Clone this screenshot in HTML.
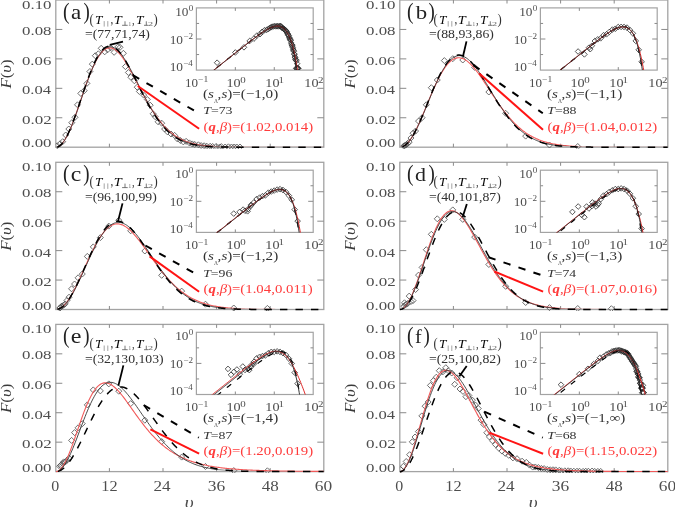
<!DOCTYPE html>
<html><head><meta charset="utf-8"><style>
html,body{margin:0;padding:0;background:#fff;width:675px;height:507px;overflow:hidden}
svg{display:block;will-change:transform}
</style></head><body>
<svg width="675" height="507" viewBox="0 0 675 507">
<rect width="675" height="507" fill="#fff"/>
<clipPath id="ma"><rect x="55.8" y="0" width="268" height="148.7"/></clipPath>
<clipPath id="na"><rect x="55.8" y="0" width="268" height="146.2"/></clipPath>
<clipPath id="ia"><rect x="196.4" y="7.9" width="116.8" height="62.2"/></clipPath>
<rect x="55.8" y="0" width="268" height="147.2" fill="none" stroke="#a3a3a3" stroke-width="1.3"/>
<path d="M55.8 117.76 h6.5 M323.8 117.76 h-6.5 M55.8 88.32 h6.5 M323.8 88.32 h-6.5 M55.8 58.88 h6.5 M323.8 58.88 h-6.5 M55.8 29.44 h6.5 M323.8 29.44 h-6.5 M109.4 147.2 v-3.5 M109.4 0 v3.5 M163 147.2 v-3.5 M163 0 v3.5 M216.6 147.2 v-3.5 M216.6 0 v3.5 M270.2 147.2 v-3.5 M270.2 0 v3.5" stroke="#8a8a8a" stroke-width="1" fill="none"/>
<text x="22.03" y="9" font-family='"Liberation Serif", serif' font-size="13.09" fill="#4e4e4e" textLength="29.45" lengthAdjust="spacingAndGlyphs">0.10</text>
<text x="22.03" y="34.71" font-family='"Liberation Serif", serif' font-size="12.94" fill="#4e4e4e" textLength="29.45" lengthAdjust="spacingAndGlyphs">0.08</text>
<text x="22.03" y="64.5" font-family='"Liberation Serif", serif' font-size="13.38" fill="#4e4e4e" textLength="29.27" lengthAdjust="spacingAndGlyphs">0.06</text>
<text x="22.04" y="94.2" font-family='"Liberation Serif", serif' font-size="13.09" fill="#4e4e4e" textLength="29.01" lengthAdjust="spacingAndGlyphs">0.04</text>
<text x="22.02" y="123.8" font-family='"Liberation Serif", serif' font-size="13.09" fill="#4e4e4e" textLength="29.71" lengthAdjust="spacingAndGlyphs">0.02</text>
<text x="22.03" y="147.41" font-family='"Liberation Serif", serif' font-size="12.94" fill="#4e4e4e" textLength="29.45" lengthAdjust="spacingAndGlyphs">0.00</text>
<text transform="translate(10.99 88.52) rotate(-90)" font-family='"Liberation Serif", serif' font-size="14.95" fill="#3a3a3a" textLength="29.24" lengthAdjust="spacingAndGlyphs"><tspan font-style="italic">F</tspan>(<tspan font-style="italic">υ</tspan>)</text>
<g clip-path="url(#ma)">
<path d="M57.3 142.8l3 3l-3 3l-3 -3z M60 140.8l3 3l-3 3l-3 -3z M62.7 138.7l3 3l-3 3l-3 -3z M65.7 132l3 3l-3 3l-3 -3z M68.8 126l3 3l-3 3l-3 -3z M71.8 119.7l3 3l-3 3l-3 -3z M75 114.3l3 3l-3 3l-3 -3z M77.5 101.8l3 3l-3 3l-3 -3z M80.8 90.4l3 3l-3 3l-3 -3z M84.2 87.7l3 3l-3 3l-3 -3z M86.9 80.4l3 3l-3 3l-3 -3z M89.9 68.5l3 3l-3 3l-3 -3z M92.3 61.1l3 3l-3 3l-3 -3z M95.3 52.7l3 3l-3 3l-3 -3z M98.3 50.8l3 3l-3 3l-3 -3z M101.2 45.3l3 3l-3 3l-3 -3z M104.7 48.8l3 3l-3 3l-3 -3z M107.6 46.8l3 3l-3 3l-3 -3z M110.6 44.8l3 3l-3 3l-3 -3z M114.1 49.3l3 3l-3 3l-3 -3z M118 43.8l3 3l-3 3l-3 -3z M120 44.3l3 3l-3 3l-3 -3z M123.4 50.3l3 3l-3 3l-3 -3z M125.4 63.6l3 3l-3 3l-3 -3z M128.4 69.5l3 3l-3 3l-3 -3z M130.8 74.2l3 3l-3 3l-3 -3z M134.4 77.8l3 3l-3 3l-3 -3z M137.2 84.2l3 3l-3 3l-3 -3z M139.4 88.5l3 3l-3 3l-3 -3z M143.7 92.1l3 3l-3 3l-3 -3z M147.3 96.5l3 3l-3 3l-3 -3z M150.2 102.2l3 3l-3 3l-3 -3z M153.1 110.8l3 3l-3 3l-3 -3z M155.2 113.7l3 3l-3 3l-3 -3z M158.1 118.8l3 3l-3 3l-3 -3z M161.7 120.2l3 3l-3 3l-3 -3z M164.6 126l3 3l-3 3l-3 -3z M167.4 128.8l3 3l-3 3l-3 -3z M171 131l3 3l-3 3l-3 -3z M174.6 132.4l3 3l-3 3l-3 -3z M177.5 136l3 3l-3 3l-3 -3z M180.4 137.5l3 3l-3 3l-3 -3z M183.3 138.9l3 3l-3 3l-3 -3z M186.14 138.35l3 3l-3 3l-3 -3z M189.38 139.91l3 3l-3 3l-3 -3z M192.24 140.91l3 3l-3 3l-3 -3z M194.69 141.44l3 3l-3 3l-3 -3z M198.38 141.81l3 3l-3 3l-3 -3z M201.12 142.57l3 3l-3 3l-3 -3z M204.08 142.75l3 3l-3 3l-3 -3z M206.7 143.17l3 3l-3 3l-3 -3z M210.15 143.29l3 3l-3 3l-3 -3z M212.63 143.52l3 3l-3 3l-3 -3z M216.12 143.5l3 3l-3 3l-3 -3z M219.66 144.01l3 3l-3 3l-3 -3z M221.34 143.63l3 3l-3 3l-3 -3z M225.17 144.01l3 3l-3 3l-3 -3z M228.43 143.82l3 3l-3 3l-3 -3z M231.44 144.01l3 3l-3 3l-3 -3z M234.15 144.01l3 3l-3 3l-3 -3z M236.77 144.01l3 3l-3 3l-3 -3z M239.98 144.01l3 3l-3 3l-3 -3z" fill="none" stroke="#555" stroke-width="0.85"/>
</g><g clip-path="url(#na)">
<path d="M56.02 147.2 L57.14 147.03 L58.26 146.63 L59.38 146 L60.5 145.14 L61.63 144.05 L62.75 142.75 L63.87 141.23 L64.99 139.51 L66.11 137.59 L67.23 135.49 L68.35 133.21 L69.47 130.77 L70.59 128.18 L71.71 125.46 L72.83 122.61 L73.95 119.65 L75.07 116.59 L76.19 113.46 L77.31 110.26 L78.43 107.01 L79.55 103.73 L80.67 100.43 L81.79 97.13 L82.91 93.84 L84.03 90.58 L85.15 87.36 L86.27 84.19 L87.39 81.1 L88.52 78.08 L89.64 75.16 L90.76 72.35 L91.88 69.65 L93 67.08 L94.12 64.64 L95.24 62.35 L96.36 60.2 L97.48 58.22 L98.6 56.4 L99.72 54.75 L100.84 53.26 L101.96 51.96 L103.08 50.83 L104.2 49.88 L105.32 49.1 L106.44 48.51 L107.56 48.09 L108.68 47.85 L109.8 47.77 L110.92 47.87 L112.04 48.12 L113.16 48.54 L114.28 49.11 L115.4 49.83 L116.53 50.69 L117.65 51.69 L118.77 52.82 L119.89 54.06 L121.01 55.42 L122.13 56.89 L123.25 58.45 L124.37 60.11 L125.49 61.85 L126.61 63.66 L127.73 65.54 L128.85 67.48 L129.97 69.48 L131.09 71.51 L132.21 73.59 L133.33 75.69 L134.45 77.82 L135.57 79.96 L136.69 82.11 L137.81 84.27 L138.93 86.42 L140.05 88.57 L141.17 90.7 L142.29 92.81 L143.41 94.91 L144.54 96.97 L145.66 99.01 L146.78 101.01 L147.9 102.98 L149.02 104.9 L150.14 106.79 L151.26 108.63 L152.38 110.42 L153.5 112.16 L154.62 113.85 L155.74 115.5 L156.86 117.09 L157.98 118.63 L159.1 120.11 L160.22 121.54 L161.34 122.92 L162.46 124.25 L163.58 125.52 L164.7 126.75 L165.82 127.92 L166.94 129.04 L168.06 130.11 L169.18 131.13 L170.3 132.1 L171.42 133.03 L172.55 133.91 L173.67 134.74 L174.79 135.54 L175.91 136.29 L177.03 137 L178.15 137.67 L179.27 138.31 L180.39 138.91 L181.51 139.48 L182.63 140.01 L183.75 140.51 L184.87 140.98 L185.99 141.43 L187.11 141.84 L188.23 142.23 L189.35 142.6 L190.47 142.94 L191.59 143.25 L192.71 143.55 L193.83 143.83 L194.95 144.09 L196.07 144.33 L197.19 144.55 L198.31 144.76 L199.44 144.96 L200.56 145.13 L201.68 145.3 L202.8 145.46 L203.92 145.6 L205.04 145.73 L206.16 145.85 L207.28 145.97 L208.4 146.07 L209.52 146.17 L210.64 146.25 L211.76 146.34 L212.88 146.41 L214 146.48 L215.12 146.54 L216.24 146.6 L217.36 146.65 L218.48 146.7 L219.6 146.75 L220.72 146.79 L221.84 146.83 L222.96 146.86 L224.08 146.89 L225.2 146.92 L226.32 146.95 L227.45 146.97 L228.57 146.99 L229.69 147.01 L230.81 147.03 L231.93 147.05 L233.05 147.06 L234.17 147.07 L235.29 147.09 L236.41 147.1 L237.53 147.11 L238.65 147.12 L239.77 147.13 L240.89 147.13 L242.01 147.14 L243.13 147.15 L244.25 147.15 L245.37 147.16 L246.49 147.16 L247.61 147.16 L248.73 147.17 L249.85 147.17 L250.97 147.17 L252.09 147.18 L253.21 147.18 L254.33 147.18 L255.46 147.18 L256.58 147.19 L257.7 147.19 L258.82 147.19 L259.94 147.19 L261.06 147.19 L262.18 147.19 L263.3 147.19 L264.42 147.19 L265.54 147.19 L266.66 147.19 L267.78 147.2 L268.9 147.2 L270.02 147.2 L271.14 147.2 L272.26 147.2 L273.38 147.2 L274.5 147.2 L275.62 147.2 L276.74 147.2 L277.86 147.2 L278.98 147.2 L280.1 147.2 L281.22 147.2 L282.35 147.2 L283.47 147.2 L284.59 147.2 L285.71 147.2 L286.83 147.2 L287.95 147.2 L289.07 147.2 L290.19 147.2 L291.31 147.2 L292.43 147.2 L293.55 147.2 L294.67 147.2 L295.79 147.2 L296.91 147.2 L298.03 147.2 L299.15 147.2 L300.27 147.2 L301.39 147.2 L302.51 147.2 L303.63 147.2 L304.75 147.2 L305.87 147.2 L306.99 147.2 L308.11 147.2 L309.23 147.2 L310.36 147.2 L311.48 147.2 L312.6 147.2 L313.72 147.2 L314.84 147.2 L315.96 147.2 L317.08 147.2 L318.2 147.2 L319.32 147.2 L320.44 147.2 L321.56 147.2 L322.68 147.2 L323.8 147.2" fill="none" stroke="#f25a5a" stroke-width="1.1" stroke-linejoin="round"/>
</g><g clip-path="url(#na)">
<path d="M56.02 147.2 L57.14 147.03 L58.26 146.64 L59.38 146.02 L60.5 145.17 L61.63 144.1 L62.75 142.81 L63.87 141.31 L64.99 139.61 L66.11 137.72 L67.23 135.64 L68.35 133.39 L69.47 130.97 L70.59 128.41 L71.71 125.7 L72.83 122.87 L73.95 119.93 L75.07 116.9 L76.19 113.78 L77.31 110.59 L78.43 107.35 L79.55 104.08 L80.67 100.78 L81.79 97.47 L82.91 94.17 L84.03 90.9 L85.15 87.66 L86.27 84.47 L87.39 81.34 L88.52 78.29 L89.64 75.33 L90.76 72.47 L91.88 69.72 L93 67.09 L94.12 64.6 L95.24 62.24 L96.36 60.04 L97.48 57.98 L98.6 56.09 L99.72 54.37 L100.84 52.81 L101.96 51.43 L103.08 50.23 L104.2 49.21 L105.32 48.36 L106.44 47.7 L107.56 47.21 L108.68 46.9 L109.8 46.76 L110.92 46.8 L112.04 47.01 L113.16 47.37 L114.28 47.9 L115.4 48.58 L116.53 49.41 L117.65 50.38 L118.77 51.49 L119.89 52.72 L121.01 54.07 L122.13 55.54 L123.25 57.11 L124.37 58.77 L125.49 60.53 L126.61 62.37 L127.73 64.28 L128.85 66.25 L129.97 68.29 L131.09 70.37 L132.21 72.49 L133.33 74.65 L134.45 76.84 L135.57 79.04 L136.69 81.26 L137.81 83.48 L138.93 85.71 L140.05 87.93 L141.17 90.13 L142.29 92.32 L143.41 94.49 L144.54 96.63 L145.66 98.75 L146.78 100.82 L147.9 102.86 L149.02 104.86 L150.14 106.82 L151.26 108.72 L152.38 110.58 L153.5 112.39 L154.62 114.14 L155.74 115.85 L156.86 117.49 L157.98 119.08 L159.1 120.62 L160.22 122.1 L161.34 123.52 L162.46 124.88 L163.58 126.19 L164.7 127.44 L165.82 128.64 L166.94 129.78 L168.06 130.87 L169.18 131.91 L170.3 132.9 L171.42 133.84 L172.55 134.72 L173.67 135.57 L174.79 136.36 L175.91 137.11 L177.03 137.82 L178.15 138.49 L179.27 139.12 L180.39 139.71 L181.51 140.27 L182.63 140.79 L183.75 141.27 L184.87 141.73 L185.99 142.15 L187.11 142.55 L188.23 142.92 L189.35 143.27 L190.47 143.59 L191.59 143.88 L192.71 144.16 L193.83 144.41 L194.95 144.65 L196.07 144.87 L197.19 145.07 L198.31 145.26 L199.44 145.43 L200.56 145.59 L201.68 145.73 L202.8 145.87 L203.92 145.99 L205.04 146.1 L206.16 146.21 L207.28 146.3 L208.4 146.39 L209.52 146.46 L210.64 146.54 L211.76 146.6 L212.88 146.66 L214 146.71 L215.12 146.76 L216.24 146.81 L217.36 146.85 L218.48 146.88 L219.6 146.92 L220.72 146.95 L221.84 146.97 L222.96 147 L224.08 147.02 L225.2 147.04 L226.32 147.06 L227.45 147.07 L228.57 147.09 L229.69 147.1 L230.81 147.11 L231.93 147.12 L233.05 147.13 L234.17 147.14 L235.29 147.14 L236.41 147.15 L237.53 147.16 L238.65 147.16 L239.77 147.17 L240.89 147.17 L242.01 147.17 L243.13 147.18 L244.25 147.18 L245.37 147.18 L246.49 147.18 L247.61 147.19 L248.73 147.19 L249.85 147.19 L250.97 147.19 L252.09 147.19 L253.21 147.19 L254.33 147.19 L255.46 147.19 L256.58 147.2 L257.7 147.2 L258.82 147.2 L259.94 147.2 L261.06 147.2 L262.18 147.2 L263.3 147.2 L264.42 147.2 L265.54 147.2 L266.66 147.2 L267.78 147.2 L268.9 147.2 L270.02 147.2 L271.14 147.2 L272.26 147.2 L273.38 147.2 L274.5 147.2 L275.62 147.2 L276.74 147.2 L277.86 147.2 L278.98 147.2 L280.1 147.2 L281.22 147.2 L282.35 147.2 L283.47 147.2 L284.59 147.2 L285.71 147.2 L286.83 147.2 L287.95 147.2 L289.07 147.2 L290.19 147.2 L291.31 147.2 L292.43 147.2 L293.55 147.2 L294.67 147.2 L295.79 147.2 L296.91 147.2 L298.03 147.2 L299.15 147.2 L300.27 147.2 L301.39 147.2 L302.51 147.2 L303.63 147.2 L304.75 147.2 L305.87 147.2 L306.99 147.2 L308.11 147.2 L309.23 147.2 L310.36 147.2 L311.48 147.2 L312.6 147.2 L313.72 147.2 L314.84 147.2 L315.96 147.2 L317.08 147.2 L318.2 147.2 L319.32 147.2 L320.44 147.2 L321.56 147.2 L322.68 147.2 L323.8 147.2" fill="none" stroke="#383838" stroke-width="0.9" stroke-linejoin="round"/>
</g><g clip-path="url(#ma)">
<path d="M56.02 147.2 L57.14 147.03 L58.26 146.63 L59.38 145.99 L60.5 145.13 L61.63 144.03 L62.75 142.72 L63.87 141.19 L64.99 139.46 L66.11 137.53 L67.23 135.42 L68.35 133.12 L69.47 130.66 L70.59 128.05 L71.71 125.3 L72.83 122.42 L73.95 119.43 L75.07 116.35 L76.19 113.18 L77.31 109.94 L78.43 106.65 L79.55 103.33 L80.67 99.98 L81.79 96.63 L82.91 93.29 L84.03 89.98 L85.15 86.7 L86.27 83.48 L87.39 80.32 L88.52 77.24 L89.64 74.26 L90.76 71.39 L91.88 68.62 L93 65.99 L94.12 63.49 L95.24 61.14 L96.36 58.93 L97.48 56.89 L98.6 55.02 L99.72 53.31 L100.84 51.78 L101.96 50.43 L103.08 49.26 L104.2 48.27 L105.32 47.47 L106.44 46.84 L107.56 46.4 L108.68 46.14 L109.8 46.06 L110.92 46.15 L112.04 46.41 L113.16 46.84 L114.28 47.43 L115.4 48.17 L116.53 49.06 L117.65 50.09 L118.77 51.26 L119.89 52.56 L121.01 53.97 L122.13 55.5 L123.25 57.13 L124.37 58.86 L125.49 60.68 L126.61 62.57 L127.73 64.54 L128.85 66.57 L129.97 68.65 L131.09 70.78 L132.21 72.95 L133.33 75.15 L134.45 77.38 L135.57 79.62 L136.69 81.87 L137.81 84.13 L138.93 86.38 L140.05 88.63 L141.17 90.86 L142.29 93.07 L143.41 95.26 L144.54 97.41 L145.66 99.54 L146.78 101.62 L147.9 103.67 L149.02 105.67 L150.14 107.63 L151.26 109.54 L152.38 111.39 L153.5 113.19 L154.62 114.94 L155.74 116.64 L156.86 118.27 L157.98 119.85 L159.1 121.37 L160.22 122.83 L161.34 124.24 L162.46 125.59 L163.58 126.88 L164.7 128.11 L165.82 129.29 L166.94 130.42 L168.06 131.49 L169.18 132.5 L170.3 133.47 L171.42 134.38 L172.55 135.25 L173.67 136.07 L174.79 136.85 L175.91 137.58 L177.03 138.27 L178.15 138.91 L179.27 139.52 L180.39 140.1 L181.51 140.63 L182.63 141.13 L183.75 141.6 L184.87 142.04 L185.99 142.45 L187.11 142.83 L188.23 143.18 L189.35 143.51 L190.47 143.82 L191.59 144.1 L192.71 144.36 L193.83 144.61 L194.95 144.83 L196.07 145.04 L197.19 145.23 L198.31 145.4 L199.44 145.57 L200.56 145.71 L201.68 145.85 L202.8 145.98 L203.92 146.09 L205.04 146.2 L206.16 146.29 L207.28 146.38 L208.4 146.46 L209.52 146.53 L210.64 146.6 L211.76 146.66 L212.88 146.71 L214 146.76 L215.12 146.81 L216.24 146.85 L217.36 146.88 L218.48 146.92 L219.6 146.95 L220.72 146.97 L221.84 147 L222.96 147.02 L224.08 147.04 L225.2 147.06 L226.32 147.07 L227.45 147.09 L228.57 147.1 L229.69 147.11 L230.81 147.12 L231.93 147.13 L233.05 147.14 L234.17 147.15 L235.29 147.15 L236.41 147.16 L237.53 147.16 L238.65 147.17 L239.77 147.17 L240.89 147.17 L242.01 147.18 L243.13 147.18 L244.25 147.18 L245.37 147.19 L246.49 147.19 L247.61 147.19 L248.73 147.19 L249.85 147.19 L250.97 147.19 L252.09 147.19 L253.21 147.19 L254.33 147.2 L255.46 147.2 L256.58 147.2 L257.7 147.2 L258.82 147.2 L259.94 147.2 L261.06 147.2 L262.18 147.2 L263.3 147.2 L264.42 147.2 L265.54 147.2 L266.66 147.2 L267.78 147.2 L268.9 147.2 L270.02 147.2 L271.14 147.2 L272.26 147.2 L273.38 147.2 L274.5 147.2 L275.62 147.2 L276.74 147.2 L277.86 147.2 L278.98 147.2 L280.1 147.2 L281.22 147.2 L282.35 147.2 L283.47 147.2 L284.59 147.2 L285.71 147.2 L286.83 147.2 L287.95 147.2 L289.07 147.2 L290.19 147.2 L291.31 147.2 L292.43 147.2 L293.55 147.2 L294.67 147.2 L295.79 147.2 L296.91 147.2 L298.03 147.2 L299.15 147.2 L300.27 147.2 L301.39 147.2 L302.51 147.2 L303.63 147.2 L304.75 147.2 L305.87 147.2 L306.99 147.2 L308.11 147.2 L309.23 147.2 L310.36 147.2 L311.48 147.2 L312.6 147.2 L313.72 147.2 L314.84 147.2 L315.96 147.2 L317.08 147.2 L318.2 147.2 L319.32 147.2 L320.44 147.2 L321.56 147.2 L322.68 147.2 L323.8 147.2" fill="none" stroke="#000" stroke-width="1.5" stroke-linejoin="round" stroke-dasharray="7.4 8.1" stroke-dashoffset="14.58"/>
</g>
<rect x="196.4" y="7.9" width="116.8" height="62.2" fill="#fff" stroke="#a3a3a3" stroke-width="1.2"/>
<path d="M196.4 23.45 h2.7 M313.2 23.45 h-2.7 M196.4 39 h5 M313.2 39 h-5 M196.4 54.55 h2.7 M313.2 54.55 h-2.7 M235.33 70.1 v-3 M235.33 7.9 v3 M274.27 70.1 v-3 M274.27 7.9 v3" stroke="#8a8a8a" stroke-width="1" fill="none"/>
<g clip-path="url(#ia)">
<path d="M256.91 32.76l2.8 2.8l-2.8 2.8l-2.8 -2.8z M259.99 31.41l2.8 2.8l-2.8 2.8l-2.8 -2.8z M262.06 29.06l2.8 2.8l-2.8 2.8l-2.8 -2.8z M264.45 27.45l2.8 2.8l-2.8 2.8l-2.8 -2.8z M266.61 27.12l2.8 2.8l-2.8 2.8l-2.8 -2.8z M268.15 26.3l2.8 2.8l-2.8 2.8l-2.8 -2.8z M269.7 25.14l2.8 2.8l-2.8 2.8l-2.8 -2.8z M270.85 24.51l2.8 2.8l-2.8 2.8l-2.8 -2.8z M272.19 23.86l2.8 2.8l-2.8 2.8l-2.8 -2.8z M273.43 23.72l2.8 2.8l-2.8 2.8l-2.8 -2.8z M274.54 23.34l2.8 2.8l-2.8 2.8l-2.8 -2.8z M275.8 23.58l2.8 2.8l-2.8 2.8l-2.8 -2.8z M276.77 23.44l2.8 2.8l-2.8 2.8l-2.8 -2.8z M277.72 23.3l2.8 2.8l-2.8 2.8l-2.8 -2.8z M278.77 23.61l2.8 2.8l-2.8 2.8l-2.8 -2.8z M279.87 23.23l2.8 2.8l-2.8 2.8l-2.8 -2.8z M280.4 23.27l2.8 2.8l-2.8 2.8l-2.8 -2.8z M281.27 23.69l2.8 2.8l-2.8 2.8l-2.8 -2.8z M281.77 24.72l2.8 2.8l-2.8 2.8l-2.8 -2.8z M282.48 25.23l2.8 2.8l-2.8 2.8l-2.8 -2.8z M283.03 25.67l2.8 2.8l-2.8 2.8l-2.8 -2.8z M283.82 26.03l2.8 2.8l-2.8 2.8l-2.8 -2.8z M284.41 26.71l2.8 2.8l-2.8 2.8l-2.8 -2.8z M284.87 27.21l2.8 2.8l-2.8 2.8l-2.8 -2.8z M285.71 27.66l2.8 2.8l-2.8 2.8l-2.8 -2.8z M286.39 28.26l2.8 2.8l-2.8 2.8l-2.8 -2.8z M286.92 29.12l2.8 2.8l-2.8 2.8l-2.8 -2.8z M287.43 30.67l2.8 2.8l-2.8 2.8l-2.8 -2.8z M287.79 31.28l2.8 2.8l-2.8 2.8l-2.8 -2.8z M288.28 32.52l2.8 2.8l-2.8 2.8l-2.8 -2.8z M288.86 32.9l2.8 2.8l-2.8 2.8l-2.8 -2.8z M289.32 34.77l2.8 2.8l-2.8 2.8l-2.8 -2.8z M289.75 35.9l2.8 2.8l-2.8 2.8l-2.8 -2.8z M290.29 36.94l2.8 2.8l-2.8 2.8l-2.8 -2.8z M290.81 37.69l2.8 2.8l-2.8 2.8l-2.8 -2.8z M291.21 40.15l2.8 2.8l-2.8 2.8l-2.8 -2.8z M291.61 41.52l2.8 2.8l-2.8 2.8l-2.8 -2.8z M292 43.1l2.8 2.8l-2.8 2.8l-2.8 -2.8z M292.39 42.43l2.8 2.8l-2.8 2.8l-2.8 -2.8z M292.77 44.52l2.8 2.8l-2.8 2.8l-2.8 -2.8z M293.15 46.32l2.8 2.8l-2.8 2.8l-2.8 -2.8z M293.51 47.5l2.8 2.8l-2.8 2.8l-2.8 -2.8z M293.87 48.46l2.8 2.8l-2.8 2.8l-2.8 -2.8z M294.22 51.08l2.8 2.8l-2.8 2.8l-2.8 -2.8z M294.56 51.83l2.8 2.8l-2.8 2.8l-2.8 -2.8z M294.9 54.17l2.8 2.8l-2.8 2.8l-2.8 -2.8z M295.23 54.99l2.8 2.8l-2.8 2.8l-2.8 -2.8z M295.55 57.01l2.8 2.8l-2.8 2.8l-2.8 -2.8z M295.87 56.75l2.8 2.8l-2.8 2.8l-2.8 -2.8z M296.18 65.53l2.8 2.8l-2.8 2.8l-2.8 -2.8z M296.49 58.11l2.8 2.8l-2.8 2.8l-2.8 -2.8z M296.79 65.53l2.8 2.8l-2.8 2.8l-2.8 -2.8z M297.08 60.85l2.8 2.8l-2.8 2.8l-2.8 -2.8z M297.37 65.53l2.8 2.8l-2.8 2.8l-2.8 -2.8z M297.66 65.53l2.8 2.8l-2.8 2.8l-2.8 -2.8z M297.94 65.53l2.8 2.8l-2.8 2.8l-2.8 -2.8z M298.21 65.53l2.8 2.8l-2.8 2.8l-2.8 -2.8z M235.34 49.67l2.8 2.8l-2.8 2.8l-2.8 -2.8z M243.98 44.52l2.8 2.8l-2.8 2.8l-2.8 -2.8z M249.67 38.15l2.8 2.8l-2.8 2.8l-2.8 -2.8z M253.92 35.81l2.8 2.8l-2.8 2.8l-2.8 -2.8z M217.1 59.9l2.8 2.8l-2.8 2.8l-2.8 -2.8z" fill="none" stroke="#2e2e2e" stroke-width="0.8"/>
<path d="M196.4 83.99 L197.13 83.4 L197.87 82.81 L198.6 82.23 L199.34 81.64 L200.07 81.05 L200.81 80.47 L201.54 79.88 L202.28 79.29 L203.01 78.71 L203.75 78.12 L204.48 77.53 L205.22 76.95 L205.95 76.36 L206.68 75.77 L207.42 75.19 L208.15 74.6 L208.89 74.01 L209.62 73.43 L210.36 72.84 L211.09 72.25 L211.83 71.67 L212.56 71.08 L213.3 70.49 L214.03 69.91 L214.76 69.32 L215.5 68.73 L216.23 68.15 L216.97 67.56 L217.7 66.98 L218.44 66.39 L219.17 65.8 L219.91 65.22 L220.64 64.63 L221.38 64.04 L222.11 63.46 L222.85 62.87 L223.58 62.29 L224.31 61.7 L225.05 61.12 L225.78 60.53 L226.52 59.94 L227.25 59.36 L227.99 58.77 L228.72 58.19 L229.46 57.6 L230.19 57.02 L230.93 56.44 L231.66 55.85 L232.39 55.27 L233.13 54.68 L233.86 54.1 L234.6 53.52 L235.33 52.93 L236.07 52.35 L236.8 51.77 L237.54 51.19 L238.27 50.61 L239.01 50.02 L239.74 49.44 L240.48 48.86 L241.21 48.29 L241.94 47.71 L242.68 47.13 L243.41 46.55 L244.15 45.98 L244.88 45.4 L245.62 44.83 L246.35 44.26 L247.09 43.68 L247.82 43.11 L248.56 42.55 L249.29 41.98 L250.03 41.41 L250.76 40.85 L251.49 40.29 L252.23 39.73 L252.96 39.18 L253.7 38.62 L254.43 38.07 L255.17 37.53 L255.9 36.98 L256.64 36.44 L257.37 35.91 L258.11 35.38 L258.84 34.86 L259.57 34.34 L260.31 33.82 L261.04 33.32 L261.78 32.82 L262.51 32.33 L263.25 31.85 L263.98 31.37 L264.72 30.91 L265.45 30.46 L266.19 30.02 L266.92 29.59 L267.66 29.18 L268.39 28.79 L269.12 28.41 L269.86 28.05 L270.59 27.72 L271.33 27.4 L272.06 27.11 L272.8 26.85 L273.53 26.61 L274.27 26.41 L275 26.25 L275.74 26.12 L276.47 26.03 L277.21 25.99 L277.94 26 L278.67 26.06 L279.41 26.18 L280.14 26.36 L280.88 26.62 L281.61 26.95 L282.35 27.36 L283.08 27.87 L283.82 28.47 L284.55 29.18 L285.29 30.01 L286.02 30.97 L286.75 32.07 L287.49 33.33 L288.22 34.74 L288.96 36.35 L289.69 38.15 L290.43 40.16 L291.16 42.42 L291.9 44.93 L292.63 47.72 L293.37 50.82 L294.1 54.25 L294.84 58.05 L295.57 62.25 L296.3 66.88 L297.04 71.98 L297.77 77.6 L298.51 83.79 L299.24 90.59 L299.98 98.06 L300.71 100.1" fill="none" stroke="#000" stroke-width="1.2" stroke-linejoin="round" stroke-dasharray="5.5 7.5"/>
<path d="M196.4 84.02 L197.13 83.44 L197.87 82.85 L198.6 82.26 L199.34 81.68 L200.07 81.09 L200.81 80.5 L201.54 79.92 L202.28 79.33 L203.01 78.74 L203.75 78.16 L204.48 77.57 L205.22 76.98 L205.95 76.4 L206.68 75.81 L207.42 75.22 L208.15 74.64 L208.89 74.05 L209.62 73.46 L210.36 72.88 L211.09 72.29 L211.83 71.7 L212.56 71.12 L213.3 70.53 L214.03 69.94 L214.76 69.36 L215.5 68.77 L216.23 68.18 L216.97 67.6 L217.7 67.01 L218.44 66.43 L219.17 65.84 L219.91 65.25 L220.64 64.67 L221.38 64.08 L222.11 63.5 L222.85 62.91 L223.58 62.32 L224.31 61.74 L225.05 61.15 L225.78 60.57 L226.52 59.98 L227.25 59.4 L227.99 58.81 L228.72 58.23 L229.46 57.64 L230.19 57.06 L230.93 56.47 L231.66 55.89 L232.39 55.3 L233.13 54.72 L233.86 54.14 L234.6 53.55 L235.33 52.97 L236.07 52.39 L236.8 51.81 L237.54 51.22 L238.27 50.64 L239.01 50.06 L239.74 49.48 L240.48 48.9 L241.21 48.32 L241.94 47.75 L242.68 47.17 L243.41 46.59 L244.15 46.02 L244.88 45.44 L245.62 44.87 L246.35 44.3 L247.09 43.72 L247.82 43.15 L248.56 42.59 L249.29 42.02 L250.03 41.46 L250.76 40.89 L251.49 40.33 L252.23 39.78 L252.96 39.22 L253.7 38.67 L254.43 38.12 L255.17 37.57 L255.9 37.03 L256.64 36.49 L257.37 35.96 L258.11 35.43 L258.84 34.91 L259.57 34.39 L260.31 33.88 L261.04 33.37 L261.78 32.88 L262.51 32.39 L263.25 31.91 L263.98 31.44 L264.72 30.98 L265.45 30.53 L266.19 30.09 L266.92 29.67 L267.66 29.26 L268.39 28.87 L269.12 28.49 L269.86 28.14 L270.59 27.8 L271.33 27.49 L272.06 27.21 L272.8 26.95 L273.53 26.72 L274.27 26.52 L275 26.35 L275.74 26.23 L276.47 26.14 L277.21 26.1 L277.94 26.11 L278.67 26.17 L279.41 26.29 L280.14 26.47 L280.88 26.72 L281.61 27.04 L282.35 27.44 L283.08 27.93 L283.82 28.51 L284.55 29.2 L285.29 29.99 L286.02 30.9 L286.75 31.94 L287.49 33.12 L288.22 34.45 L288.96 35.95 L289.69 37.61 L290.43 39.46 L291.16 41.52 L291.9 43.79 L292.63 46.29 L293.37 49.04 L294.1 52.06 L294.84 55.36 L295.57 58.96 L296.3 62.89 L297.04 67.16 L297.77 71.78 L298.51 76.8 L299.24 82.21 L299.98 88.06 L300.71 94.34 L301.45 100.1" fill="none" stroke="#e02a2a" stroke-width="1" stroke-linejoin="round"/>
<path d="M196.4 84.12 L197.13 83.53 L197.87 82.95 L198.6 82.36 L199.34 81.77 L200.07 81.19 L200.81 80.6 L201.54 80.01 L202.28 79.43 L203.01 78.84 L203.75 78.25 L204.48 77.67 L205.22 77.08 L205.95 76.49 L206.68 75.91 L207.42 75.32 L208.15 74.73 L208.89 74.15 L209.62 73.56 L210.36 72.97 L211.09 72.39 L211.83 71.8 L212.56 71.21 L213.3 70.63 L214.03 70.04 L214.76 69.45 L215.5 68.87 L216.23 68.28 L216.97 67.69 L217.7 67.11 L218.44 66.52 L219.17 65.94 L219.91 65.35 L220.64 64.76 L221.38 64.18 L222.11 63.59 L222.85 63.01 L223.58 62.42 L224.31 61.83 L225.05 61.25 L225.78 60.66 L226.52 60.08 L227.25 59.49 L227.99 58.91 L228.72 58.32 L229.46 57.74 L230.19 57.15 L230.93 56.57 L231.66 55.98 L232.39 55.4 L233.13 54.82 L233.86 54.23 L234.6 53.65 L235.33 53.07 L236.07 52.48 L236.8 51.9 L237.54 51.32 L238.27 50.74 L239.01 50.16 L239.74 49.58 L240.48 49 L241.21 48.42 L241.94 47.84 L242.68 47.26 L243.41 46.68 L244.15 46.11 L244.88 45.53 L245.62 44.96 L246.35 44.39 L247.09 43.81 L247.82 43.24 L248.56 42.68 L249.29 42.11 L250.03 41.54 L250.76 40.98 L251.49 40.42 L252.23 39.86 L252.96 39.3 L253.7 38.75 L254.43 38.2 L255.17 37.65 L255.9 37.11 L256.64 36.57 L257.37 36.03 L258.11 35.5 L258.84 34.98 L259.57 34.46 L260.31 33.95 L261.04 33.44 L261.78 32.94 L262.51 32.45 L263.25 31.96 L263.98 31.49 L264.72 31.02 L265.45 30.57 L266.19 30.13 L266.92 29.7 L267.66 29.29 L268.39 28.89 L269.12 28.51 L269.86 28.15 L270.59 27.81 L271.33 27.49 L272.06 27.2 L272.8 26.93 L273.53 26.69 L274.27 26.49 L275 26.31 L275.74 26.18 L276.47 26.09 L277.21 26.04 L277.94 26.04 L278.67 26.09 L279.41 26.2 L280.14 26.38 L280.88 26.62 L281.61 26.94 L282.35 27.34 L283.08 27.83 L283.82 28.42 L284.55 29.11 L285.29 29.93 L286.02 30.86 L286.75 31.94 L287.49 33.17 L288.22 34.56 L288.96 36.13 L289.69 37.9 L290.43 39.88 L291.16 42.09 L291.9 44.55 L292.63 47.3 L293.37 50.34 L294.1 53.71 L294.84 57.44 L295.57 61.56 L296.3 66.11 L297.04 71.12 L297.77 76.63 L298.51 82.7 L299.24 89.37 L299.98 96.69 L300.71 100.1" fill="none" stroke="#222" stroke-width="0.9" stroke-linejoin="round"/>
</g>
<text x="175.17" y="15.68" font-family='"Liberation Serif", serif' font-size="11.56" fill="#4e4e4e" textLength="13.26" lengthAdjust="spacingAndGlyphs">10</text>
<text x="188.74" y="10.52" font-family='"Liberation Serif", serif' font-size="7.7" fill="#4e4e4e" textLength="4.52" lengthAdjust="spacingAndGlyphs">0</text>
<text x="169.66" y="43.78" font-family='"Liberation Serif", serif' font-size="11.56" fill="#4e4e4e" textLength="13.37" lengthAdjust="spacingAndGlyphs">10</text>
<text x="183.34" y="38.7" font-family='"Liberation Serif", serif' font-size="7.27" fill="#4e4e4e" textLength="9.75" lengthAdjust="spacingAndGlyphs">−2</text>
<text x="169.66" y="70.68" font-family='"Liberation Serif", serif' font-size="11.56" fill="#4e4e4e" textLength="13.37" lengthAdjust="spacingAndGlyphs">10</text>
<text x="183.36" y="65.6" font-family='"Liberation Serif", serif' font-size="7.27" fill="#4e4e4e" textLength="9.36" lengthAdjust="spacingAndGlyphs">−4</text>
<text x="184.99" y="86.88" font-family='"Liberation Serif", serif' font-size="11.7" fill="#4e4e4e" textLength="13.03" lengthAdjust="spacingAndGlyphs">10</text>
<text x="198.12" y="82.4" font-family='"Liberation Serif", serif' font-size="7.88" fill="#4e4e4e" textLength="10.14" lengthAdjust="spacingAndGlyphs">−1</text>
<text x="226.43" y="86.88" font-family='"Liberation Serif", serif' font-size="11.7" fill="#4e4e4e" textLength="14.17" lengthAdjust="spacingAndGlyphs">10</text>
<text x="240.2" y="82.81" font-family='"Liberation Serif", serif' font-size="8.74" fill="#4e4e4e" textLength="5.48" lengthAdjust="spacingAndGlyphs">0</text>
<text x="265.36" y="86.88" font-family='"Liberation Serif", serif' font-size="11.7" fill="#4e4e4e" textLength="14.17" lengthAdjust="spacingAndGlyphs">10</text>
<text x="278.64" y="82.9" font-family='"Liberation Serif", serif' font-size="8.74" fill="#4e4e4e" textLength="5.48" lengthAdjust="spacingAndGlyphs">1</text>
<text x="304.3" y="86.88" font-family='"Liberation Serif", serif' font-size="11.7" fill="#4e4e4e" textLength="14.17" lengthAdjust="spacingAndGlyphs">10</text>
<text x="318.01" y="82.9" font-family='"Liberation Serif", serif' font-size="8.74" fill="#4e4e4e" textLength="5.48" lengthAdjust="spacingAndGlyphs">2</text>
<text x="62.92" y="18.89" font-family='"Liberation Serif", serif' font-size="22.86" fill="#222" textLength="6.53" lengthAdjust="spacingAndGlyphs">(</text>
<text x="70.99" y="18.6" font-family='"Liberation Serif", serif' font-size="20.21" fill="#222" textLength="10.22" lengthAdjust="spacingAndGlyphs">a</text>
<text x="83.43" y="18.89" font-family='"Liberation Serif", serif' font-size="22.86" fill="#222" textLength="6.28" lengthAdjust="spacingAndGlyphs">)</text>
<text x="89.54" y="23.8" font-family='"Liberation Serif", serif' font-size="13.96" fill="#303030" textLength="4.18" lengthAdjust="spacingAndGlyphs">(</text>
<text x="95.14" y="23.65" font-family='"Liberation Serif", serif' font-size="13.21" fill="#0a0a0a" textLength="7.38" lengthAdjust="spacingAndGlyphs"><tspan font-style="italic">T</tspan></text>
<text x="113.87" y="23.65" font-family='"Liberation Serif", serif' font-size="13.21" fill="#0a0a0a" textLength="7.99" lengthAdjust="spacingAndGlyphs"><tspan font-style="italic">T</tspan></text>
<text x="136.13" y="23.65" font-family='"Liberation Serif", serif' font-size="13.21" fill="#0a0a0a" textLength="7.48" lengthAdjust="spacingAndGlyphs"><tspan font-style="italic">T</tspan></text>
<text x="110.46" y="23.64" font-family='"Liberation Serif", serif' font-size="13.73" fill="#303030" textLength="2.76" lengthAdjust="spacingAndGlyphs">,</text>
<text x="132.09" y="23.7" font-family='"Liberation Serif", serif' font-size="13.33" fill="#303030" textLength="2.59" lengthAdjust="spacingAndGlyphs">,</text>
<text x="153.62" y="23.8" font-family='"Liberation Serif", serif' font-size="13.96" fill="#303030" textLength="4.23" lengthAdjust="spacingAndGlyphs">)</text>
<path d="M104.2 21.1 v5.5 M107.8 21.1 v5.5" stroke="#9a9a9a" stroke-width="0.9" fill="none"/>
<path d="M122.1 25.3 H127.7 M125 25.3 v-4 M144 25.3 H148.4 M146.3 25.3 v-4" stroke="#555" stroke-width="0.8" fill="none"/>
<text x="128.37" y="25.5" font-family='"Liberation Serif", serif' font-size="5.3" fill="#777" textLength="3.1" lengthAdjust="spacingAndGlyphs">1</text>
<text x="147.94" y="25.6" font-family='"Liberation Serif", serif' font-size="6.36" fill="#666" textLength="5.12" lengthAdjust="spacingAndGlyphs">2</text>
<text x="84.91" y="38.42" font-family='"Liberation Serif", serif' font-size="11.98" fill="#303030" textLength="65.01" lengthAdjust="spacingAndGlyphs">=(77,71,74)</text>
<text x="202.95" y="97.73" font-family='"Liberation Serif", serif' font-size="12.42" fill="#303030" textLength="75.25" lengthAdjust="spacingAndGlyphs">(<tspan font-style="italic">s</tspan>  ,<tspan font-style="italic">s</tspan>)=(−1,0)</text>
<text x="213.94" y="103" font-family='"Liberation Serif", serif' font-size="7.12" fill="#4a4a4a" textLength="4.01" lengthAdjust="spacingAndGlyphs">Λ</text>
<text x="203.2" y="114.49" font-family='"Liberation Serif", serif' font-size="10.6" fill="#303030" textLength="29.34" lengthAdjust="spacingAndGlyphs"><tspan font-style="italic">T</tspan>=73</text>
<text x="203.63" y="130.88" font-family='"Liberation Serif", serif' font-size="12.17" fill="#ff3c3c" textLength="109.51" lengthAdjust="spacingAndGlyphs">(<tspan font-style="italic" font-weight="bold">q</tspan>,<tspan font-style="italic">β</tspan>)=(1.02,0.014)</text>
<path d="M109.8 44.9 L123 41.7" fill="none" stroke="#000" stroke-width="1.8" stroke-linejoin="round"/>
<path d="M132.8 75.1 L198.8 113.3" fill="none" stroke="#000" stroke-width="2" stroke-linejoin="round" stroke-dasharray="7.4 8.4"/>
<path d="M137.8 86 L199.1 128.8" fill="none" stroke="#ff1414" stroke-width="2" stroke-linejoin="round"/>
<clipPath id="mb"><rect x="399.8" y="0" width="268" height="148.7"/></clipPath>
<clipPath id="nb"><rect x="399.8" y="0" width="268" height="146.2"/></clipPath>
<clipPath id="ib"><rect x="540.4" y="7.9" width="116.8" height="62.2"/></clipPath>
<rect x="399.8" y="0" width="268" height="147.2" fill="none" stroke="#a3a3a3" stroke-width="1.3"/>
<path d="M399.8 117.76 h6.5 M667.8 117.76 h-6.5 M399.8 88.32 h6.5 M667.8 88.32 h-6.5 M399.8 58.88 h6.5 M667.8 58.88 h-6.5 M399.8 29.44 h6.5 M667.8 29.44 h-6.5 M453.4 147.2 v-3.5 M453.4 0 v3.5 M507 147.2 v-3.5 M507 0 v3.5 M560.6 147.2 v-3.5 M560.6 0 v3.5 M614.2 147.2 v-3.5 M614.2 0 v3.5" stroke="#8a8a8a" stroke-width="1" fill="none"/>
<text x="366.03" y="9" font-family='"Liberation Serif", serif' font-size="13.09" fill="#4e4e4e" textLength="29.45" lengthAdjust="spacingAndGlyphs">0.10</text>
<text x="366.03" y="34.71" font-family='"Liberation Serif", serif' font-size="12.94" fill="#4e4e4e" textLength="29.45" lengthAdjust="spacingAndGlyphs">0.08</text>
<text x="366.03" y="64.5" font-family='"Liberation Serif", serif' font-size="13.38" fill="#4e4e4e" textLength="29.27" lengthAdjust="spacingAndGlyphs">0.06</text>
<text x="366.04" y="94.2" font-family='"Liberation Serif", serif' font-size="13.09" fill="#4e4e4e" textLength="29.01" lengthAdjust="spacingAndGlyphs">0.04</text>
<text x="366.02" y="123.8" font-family='"Liberation Serif", serif' font-size="13.09" fill="#4e4e4e" textLength="29.71" lengthAdjust="spacingAndGlyphs">0.02</text>
<text x="366.03" y="147.41" font-family='"Liberation Serif", serif' font-size="12.94" fill="#4e4e4e" textLength="29.45" lengthAdjust="spacingAndGlyphs">0.00</text>
<text transform="translate(354.99 88.52) rotate(-90)" font-family='"Liberation Serif", serif' font-size="14.95" fill="#3a3a3a" textLength="29.24" lengthAdjust="spacingAndGlyphs"><tspan font-style="italic">F</tspan>(<tspan font-style="italic">υ</tspan>)</text>
<g clip-path="url(#mb)">
<path d="M403.75 143l3 3l-3 3l-3 -3z M404.49 142.7l3 3l-3 3l-3 -3z M405.38 142.2l3 3l-3 3l-3 -3z M406.43 141.5l3 3l-3 3l-3 -3z M407.69 140.5l3 3l-3 3l-3 -3z M409.18 139.1l3 3l-3 3l-3 -3z M410.95 135l3 3l-3 3l-3 -3z M413.06 130.2l3 3l-3 3l-3 -3z M415.57 128l3 3l-3 3l-3 -3z M418.55 118.1l3 3l-3 3l-3 -3z M422.09 114.7l3 3l-3 3l-3 -3z M426.3 101.8l3 3l-3 3l-3 -3z M431.31 84.7l3 3l-3 3l-3 -3z M437.27 77l3 3l-3 3l-3 -3z M444.35 57.6l3 3l-3 3l-3 -3z M452.77 55.7l3 3l-3 3l-3 -3z M462.78 57l3 3l-3 3l-3 -3z M474.68 64.4l3 3l-3 3l-3 -3z M488.84 89l3 3l-3 3l-3 -3z M505.66 110.3l3 3l-3 3l-3 -3z M525.67 133.1l3 3l-3 3l-3 -3z M549.46 142l3 3l-3 3l-3 -3z M577.75 143.5l3 3l-3 3l-3 -3z" fill="none" stroke="#555" stroke-width="0.85"/>
</g><g clip-path="url(#nb)">
<path d="M400.02 147.2 L401.14 147.07 L402.26 146.77 L403.38 146.28 L404.5 145.62 L405.63 144.79 L406.75 143.79 L407.87 142.63 L408.99 141.31 L410.11 139.83 L411.23 138.2 L412.35 136.44 L413.47 134.55 L414.59 132.53 L415.71 130.39 L416.83 128.16 L417.95 125.82 L419.07 123.4 L420.19 120.91 L421.31 118.34 L422.43 115.73 L423.55 113.07 L424.67 110.38 L425.79 107.66 L426.91 104.94 L428.03 102.21 L429.15 99.5 L430.27 96.8 L431.39 94.14 L432.52 91.51 L433.64 88.93 L434.76 86.42 L435.88 83.97 L437 81.59 L438.12 79.3 L439.24 77.1 L440.36 74.99 L441.48 72.99 L442.6 71.1 L443.72 69.32 L444.84 67.66 L445.96 66.12 L447.08 64.7 L448.2 63.42 L449.32 62.26 L450.44 61.24 L451.56 60.35 L452.68 59.59 L453.8 58.96 L454.92 58.47 L456.04 58.11 L457.16 57.88 L458.28 57.77 L459.4 57.79 L460.53 57.94 L461.65 58.2 L462.77 58.58 L463.89 59.07 L465.01 59.67 L466.13 60.37 L467.25 61.17 L468.37 62.07 L469.49 63.05 L470.61 64.12 L471.73 65.27 L472.85 66.49 L473.97 67.78 L475.09 69.14 L476.21 70.55 L477.33 72.02 L478.45 73.53 L479.57 75.09 L480.69 76.68 L481.81 78.3 L482.93 79.96 L484.05 81.63 L485.17 83.33 L486.29 85.04 L487.41 86.75 L488.54 88.48 L489.66 90.2 L490.78 91.93 L491.9 93.64 L493.02 95.35 L494.14 97.05 L495.26 98.73 L496.38 100.39 L497.5 102.03 L498.62 103.65 L499.74 105.25 L500.86 106.81 L501.98 108.35 L503.1 109.86 L504.22 111.34 L505.34 112.79 L506.46 114.2 L507.58 115.57 L508.7 116.91 L509.82 118.22 L510.94 119.48 L512.06 120.71 L513.18 121.91 L514.3 123.06 L515.42 124.18 L516.55 125.26 L517.67 126.3 L518.79 127.31 L519.91 128.28 L521.03 129.21 L522.15 130.11 L523.27 130.98 L524.39 131.8 L525.51 132.6 L526.63 133.36 L527.75 134.09 L528.87 134.79 L529.99 135.46 L531.11 136.1 L532.23 136.71 L533.35 137.29 L534.47 137.85 L535.59 138.37 L536.71 138.88 L537.83 139.35 L538.95 139.81 L540.07 140.24 L541.19 140.65 L542.31 141.04 L543.44 141.41 L544.56 141.76 L545.68 142.09 L546.8 142.4 L547.92 142.7 L549.04 142.98 L550.16 143.24 L551.28 143.49 L552.4 143.72 L553.52 143.95 L554.64 144.15 L555.76 144.35 L556.88 144.54 L558 144.71 L559.12 144.87 L560.24 145.03 L561.36 145.17 L562.48 145.31 L563.6 145.43 L564.72 145.55 L565.84 145.67 L566.96 145.77 L568.08 145.87 L569.2 145.96 L570.32 146.05 L571.45 146.13 L572.57 146.2 L573.69 146.27 L574.81 146.34 L575.93 146.4 L577.05 146.46 L578.17 146.51 L579.29 146.56 L580.41 146.6 L581.53 146.65 L582.65 146.69 L583.77 146.73 L584.89 146.76 L586.01 146.79 L587.13 146.82 L588.25 146.85 L589.37 146.88 L590.49 146.9 L591.61 146.92 L592.73 146.94 L593.85 146.96 L594.97 146.98 L596.09 147 L597.21 147.01 L598.33 147.03 L599.46 147.04 L600.58 147.05 L601.7 147.06 L602.82 147.07 L603.94 147.08 L605.06 147.09 L606.18 147.1 L607.3 147.11 L608.42 147.12 L609.54 147.12 L610.66 147.13 L611.78 147.13 L612.9 147.14 L614.02 147.14 L615.14 147.15 L616.26 147.15 L617.38 147.16 L618.5 147.16 L619.62 147.16 L620.74 147.17 L621.86 147.17 L622.98 147.17 L624.1 147.17 L625.22 147.18 L626.35 147.18 L627.47 147.18 L628.59 147.18 L629.71 147.18 L630.83 147.18 L631.95 147.19 L633.07 147.19 L634.19 147.19 L635.31 147.19 L636.43 147.19 L637.55 147.19 L638.67 147.19 L639.79 147.19 L640.91 147.19 L642.03 147.19 L643.15 147.19 L644.27 147.19 L645.39 147.19 L646.51 147.2 L647.63 147.2 L648.75 147.2 L649.87 147.2 L650.99 147.2 L652.11 147.2 L653.23 147.2 L654.36 147.2 L655.48 147.2 L656.6 147.2 L657.72 147.2 L658.84 147.2 L659.96 147.2 L661.08 147.2 L662.2 147.2 L663.32 147.2 L664.44 147.2 L665.56 147.2 L666.68 147.2 L667.8 147.2" fill="none" stroke="#f25a5a" stroke-width="1.1" stroke-linejoin="round"/>
</g><g clip-path="url(#nb)">
<path d="M400.02 147.2 L401.14 147.07 L402.26 146.77 L403.38 146.3 L404.5 145.66 L405.63 144.84 L406.75 143.86 L407.87 142.72 L408.99 141.42 L410.11 139.97 L411.23 138.37 L412.35 136.63 L413.47 134.76 L414.59 132.77 L415.71 130.66 L416.83 128.45 L417.95 126.14 L419.07 123.73 L420.19 121.25 L421.31 118.7 L422.43 116.09 L423.55 113.44 L424.67 110.74 L425.79 108.02 L426.91 105.27 L428.03 102.52 L429.15 99.78 L430.27 97.05 L431.39 94.34 L432.52 91.66 L433.64 89.03 L434.76 86.44 L435.88 83.92 L437 81.47 L438.12 79.09 L439.24 76.8 L440.36 74.6 L441.48 72.5 L442.6 70.51 L443.72 68.62 L444.84 66.85 L445.96 65.2 L447.08 63.67 L448.2 62.27 L449.32 61 L450.44 59.86 L451.56 58.85 L452.68 57.98 L453.8 57.25 L454.92 56.65 L456.04 56.19 L457.16 55.87 L458.28 55.67 L459.4 55.61 L460.53 55.68 L461.65 55.87 L462.77 56.19 L463.89 56.63 L465.01 57.19 L466.13 57.85 L467.25 58.63 L468.37 59.51 L469.49 60.49 L470.61 61.56 L471.73 62.72 L472.85 63.97 L473.97 65.29 L475.09 66.69 L476.21 68.15 L477.33 69.67 L478.45 71.25 L479.57 72.89 L480.69 74.56 L481.81 76.28 L482.93 78.03 L484.05 79.8 L485.17 81.61 L486.29 83.43 L487.41 85.26 L488.54 87.11 L489.66 88.96 L490.78 90.81 L491.9 92.65 L493.02 94.49 L494.14 96.32 L495.26 98.13 L496.38 99.92 L497.5 101.7 L498.62 103.45 L499.74 105.17 L500.86 106.86 L501.98 108.52 L503.1 110.15 L504.22 111.74 L505.34 113.3 L506.46 114.82 L507.58 116.3 L508.7 117.73 L509.82 119.13 L510.94 120.49 L512.06 121.8 L513.18 123.07 L514.3 124.3 L515.42 125.48 L516.55 126.62 L517.67 127.72 L518.79 128.78 L519.91 129.79 L521.03 130.76 L522.15 131.7 L523.27 132.59 L524.39 133.44 L525.51 134.26 L526.63 135.03 L527.75 135.77 L528.87 136.48 L529.99 137.14 L531.11 137.78 L532.23 138.38 L533.35 138.95 L534.47 139.49 L535.59 140.01 L536.71 140.49 L537.83 140.94 L538.95 141.37 L540.07 141.78 L541.19 142.16 L542.31 142.52 L543.44 142.85 L544.56 143.17 L545.68 143.46 L546.8 143.74 L547.92 144 L549.04 144.24 L550.16 144.47 L551.28 144.68 L552.4 144.87 L553.52 145.06 L554.64 145.23 L555.76 145.39 L556.88 145.53 L558 145.67 L559.12 145.79 L560.24 145.91 L561.36 146.02 L562.48 146.12 L563.6 146.21 L564.72 146.3 L565.84 146.37 L566.96 146.45 L568.08 146.51 L569.2 146.57 L570.32 146.63 L571.45 146.68 L572.57 146.73 L573.69 146.77 L574.81 146.81 L575.93 146.85 L577.05 146.88 L578.17 146.91 L579.29 146.94 L580.41 146.96 L581.53 146.99 L582.65 147.01 L583.77 147.03 L584.89 147.04 L586.01 147.06 L587.13 147.07 L588.25 147.09 L589.37 147.1 L590.49 147.11 L591.61 147.12 L592.73 147.13 L593.85 147.13 L594.97 147.14 L596.09 147.15 L597.21 147.15 L598.33 147.16 L599.46 147.16 L600.58 147.17 L601.7 147.17 L602.82 147.17 L603.94 147.18 L605.06 147.18 L606.18 147.18 L607.3 147.18 L608.42 147.19 L609.54 147.19 L610.66 147.19 L611.78 147.19 L612.9 147.19 L614.02 147.19 L615.14 147.19 L616.26 147.19 L617.38 147.19 L618.5 147.2 L619.62 147.2 L620.74 147.2 L621.86 147.2 L622.98 147.2 L624.1 147.2 L625.22 147.2 L626.35 147.2 L627.47 147.2 L628.59 147.2 L629.71 147.2 L630.83 147.2 L631.95 147.2 L633.07 147.2 L634.19 147.2 L635.31 147.2 L636.43 147.2 L637.55 147.2 L638.67 147.2 L639.79 147.2 L640.91 147.2 L642.03 147.2 L643.15 147.2 L644.27 147.2 L645.39 147.2 L646.51 147.2 L647.63 147.2 L648.75 147.2 L649.87 147.2 L650.99 147.2 L652.11 147.2 L653.23 147.2 L654.36 147.2 L655.48 147.2 L656.6 147.2 L657.72 147.2 L658.84 147.2 L659.96 147.2 L661.08 147.2 L662.2 147.2 L663.32 147.2 L664.44 147.2 L665.56 147.2 L666.68 147.2 L667.8 147.2" fill="none" stroke="#383838" stroke-width="0.9" stroke-linejoin="round"/>
</g><g clip-path="url(#mb)">
<path d="M400.02 147.2 L401.14 147.07 L402.26 146.77 L403.38 146.29 L404.5 145.63 L405.63 144.8 L406.75 143.81 L407.87 142.65 L408.99 141.32 L410.11 139.85 L411.23 138.23 L412.35 136.46 L413.47 134.57 L414.59 132.55 L415.71 130.41 L416.83 128.16 L417.95 125.81 L419.07 123.38 L420.19 120.86 L421.31 118.28 L422.43 115.63 L423.55 112.94 L424.67 110.21 L425.79 107.45 L426.91 104.68 L428.03 101.9 L429.15 99.13 L430.27 96.37 L431.39 93.63 L432.52 90.93 L433.64 88.27 L434.76 85.67 L435.88 83.13 L437 80.67 L438.12 78.28 L439.24 75.98 L440.36 73.77 L441.48 71.67 L442.6 69.67 L443.72 67.79 L444.84 66.02 L445.96 64.38 L447.08 62.86 L448.2 61.47 L449.32 60.22 L450.44 59.1 L451.56 58.12 L452.68 57.27 L453.8 56.56 L454.92 56 L456.04 55.57 L457.16 55.27 L458.28 55.11 L459.4 55.09 L460.53 55.19 L461.65 55.43 L462.77 55.79 L463.89 56.27 L465.01 56.86 L466.13 57.58 L467.25 58.39 L468.37 59.32 L469.49 60.34 L470.61 61.46 L471.73 62.66 L472.85 63.95 L473.97 65.31 L475.09 66.75 L476.21 68.25 L477.33 69.82 L478.45 71.43 L479.57 73.1 L480.69 74.81 L481.81 76.56 L482.93 78.35 L484.05 80.16 L485.17 81.99 L486.29 83.84 L487.41 85.7 L488.54 87.57 L489.66 89.44 L490.78 91.31 L491.9 93.17 L493.02 95.03 L494.14 96.87 L495.26 98.7 L496.38 100.5 L497.5 102.28 L498.62 104.04 L499.74 105.77 L500.86 107.47 L501.98 109.13 L503.1 110.76 L504.22 112.35 L505.34 113.91 L506.46 115.43 L507.58 116.9 L508.7 118.33 L509.82 119.72 L510.94 121.07 L512.06 122.38 L513.18 123.64 L514.3 124.86 L515.42 126.03 L516.55 127.16 L517.67 128.25 L518.79 129.29 L519.91 130.29 L521.03 131.25 L522.15 132.17 L523.27 133.05 L524.39 133.89 L525.51 134.69 L526.63 135.45 L527.75 136.17 L528.87 136.86 L529.99 137.52 L531.11 138.14 L532.23 138.73 L533.35 139.28 L534.47 139.81 L535.59 140.31 L536.71 140.78 L537.83 141.22 L538.95 141.64 L540.07 142.03 L541.19 142.4 L542.31 142.74 L543.44 143.07 L544.56 143.37 L545.68 143.66 L546.8 143.92 L547.92 144.17 L549.04 144.41 L550.16 144.62 L551.28 144.82 L552.4 145.01 L553.52 145.19 L554.64 145.35 L555.76 145.5 L556.88 145.64 L558 145.77 L559.12 145.89 L560.24 146 L561.36 146.1 L562.48 146.19 L563.6 146.28 L564.72 146.36 L565.84 146.44 L566.96 146.5 L568.08 146.57 L569.2 146.62 L570.32 146.67 L571.45 146.72 L572.57 146.77 L573.69 146.81 L574.81 146.84 L575.93 146.88 L577.05 146.91 L578.17 146.94 L579.29 146.96 L580.41 146.99 L581.53 147.01 L582.65 147.03 L583.77 147.04 L584.89 147.06 L586.01 147.07 L587.13 147.09 L588.25 147.1 L589.37 147.11 L590.49 147.12 L591.61 147.13 L592.73 147.13 L593.85 147.14 L594.97 147.15 L596.09 147.15 L597.21 147.16 L598.33 147.16 L599.46 147.17 L600.58 147.17 L601.7 147.17 L602.82 147.18 L603.94 147.18 L605.06 147.18 L606.18 147.18 L607.3 147.19 L608.42 147.19 L609.54 147.19 L610.66 147.19 L611.78 147.19 L612.9 147.19 L614.02 147.19 L615.14 147.19 L616.26 147.19 L617.38 147.2 L618.5 147.2 L619.62 147.2 L620.74 147.2 L621.86 147.2 L622.98 147.2 L624.1 147.2 L625.22 147.2 L626.35 147.2 L627.47 147.2 L628.59 147.2 L629.71 147.2 L630.83 147.2 L631.95 147.2 L633.07 147.2 L634.19 147.2 L635.31 147.2 L636.43 147.2 L637.55 147.2 L638.67 147.2 L639.79 147.2 L640.91 147.2 L642.03 147.2 L643.15 147.2 L644.27 147.2 L645.39 147.2 L646.51 147.2 L647.63 147.2 L648.75 147.2 L649.87 147.2 L650.99 147.2 L652.11 147.2 L653.23 147.2 L654.36 147.2 L655.48 147.2 L656.6 147.2 L657.72 147.2 L658.84 147.2 L659.96 147.2 L661.08 147.2 L662.2 147.2 L663.32 147.2 L664.44 147.2 L665.56 147.2 L666.68 147.2 L667.8 147.2" fill="none" stroke="#000" stroke-width="1.5" stroke-linejoin="round" stroke-dasharray="7.4 8.1" stroke-dashoffset="13.02"/>
</g>
<rect x="540.4" y="7.9" width="116.8" height="62.2" fill="#fff" stroke="#a3a3a3" stroke-width="1.2"/>
<path d="M540.4 23.45 h2.7 M657.2 23.45 h-2.7 M540.4 39 h5 M657.2 39 h-5 M540.4 54.55 h2.7 M657.2 54.55 h-2.7 M579.33 70.1 v-3 M579.33 7.9 v3 M618.27 70.1 v-3 M618.27 7.9 v3" stroke="#8a8a8a" stroke-width="1" fill="none"/>
<g clip-path="url(#ib)">
<path d="M597.73 36.54l2.8 2.8l-2.8 2.8l-2.8 -2.8z M600.66 35.55l2.8 2.8l-2.8 2.8l-2.8 -2.8z M603.59 32.33l2.8 2.8l-2.8 2.8l-2.8 -2.8z M606.51 31.51l2.8 2.8l-2.8 2.8l-2.8 -2.8z M609.44 29.06l2.8 2.8l-2.8 2.8l-2.8 -2.8z M612.37 26.77l2.8 2.8l-2.8 2.8l-2.8 -2.8z M615.3 25.95l2.8 2.8l-2.8 2.8l-2.8 -2.8z M618.22 24.23l2.8 2.8l-2.8 2.8l-2.8 -2.8z M621.15 24.09l2.8 2.8l-2.8 2.8l-2.8 -2.8z M624.08 24.19l2.8 2.8l-2.8 2.8l-2.8 -2.8z M627 24.78l2.8 2.8l-2.8 2.8l-2.8 -2.8z M629.93 27.27l2.8 2.8l-2.8 2.8l-2.8 -2.8z M632.86 30.57l2.8 2.8l-2.8 2.8l-2.8 -2.8z M635.78 38.11l2.8 2.8l-2.8 2.8l-2.8 -2.8z M638.71 47l2.8 2.8l-2.8 2.8l-2.8 -2.8z M641.64 59l2.8 2.8l-2.8 2.8l-2.8 -2.8z M588.95 44.86l2.8 2.8l-2.8 2.8l-2.8 -2.8z M591.88 42.94l2.8 2.8l-2.8 2.8l-2.8 -2.8z M594.81 38.21l2.8 2.8l-2.8 2.8l-2.8 -2.8z M578.1 48.7l2.8 2.8l-2.8 2.8l-2.8 -2.8z M584.4 51.6l2.8 2.8l-2.8 2.8l-2.8 -2.8z M590.2 46.4l2.8 2.8l-2.8 2.8l-2.8 -2.8z" fill="none" stroke="#2e2e2e" stroke-width="0.8"/>
<path d="M540.4 85.88 L541.13 85.29 L541.87 84.71 L542.6 84.12 L543.34 83.53 L544.07 82.95 L544.81 82.36 L545.54 81.77 L546.28 81.19 L547.01 80.6 L547.75 80.01 L548.48 79.43 L549.22 78.84 L549.95 78.25 L550.68 77.67 L551.42 77.08 L552.15 76.49 L552.89 75.91 L553.62 75.32 L554.36 74.73 L555.09 74.15 L555.83 73.56 L556.56 72.97 L557.3 72.39 L558.03 71.8 L558.76 71.21 L559.5 70.63 L560.23 70.04 L560.97 69.45 L561.7 68.87 L562.44 68.28 L563.17 67.69 L563.91 67.11 L564.64 66.52 L565.38 65.94 L566.11 65.35 L566.85 64.76 L567.58 64.18 L568.31 63.59 L569.05 63.01 L569.78 62.42 L570.52 61.83 L571.25 61.25 L571.99 60.66 L572.72 60.08 L573.46 59.49 L574.19 58.91 L574.93 58.32 L575.66 57.74 L576.39 57.15 L577.13 56.57 L577.86 55.99 L578.6 55.4 L579.33 54.82 L580.07 54.23 L580.8 53.65 L581.54 53.07 L582.27 52.49 L583.01 51.91 L583.74 51.32 L584.48 50.74 L585.21 50.16 L585.94 49.58 L586.68 49 L587.41 48.42 L588.15 47.85 L588.88 47.27 L589.62 46.69 L590.35 46.12 L591.09 45.55 L591.82 44.97 L592.56 44.4 L593.29 43.83 L594.03 43.26 L594.76 42.7 L595.49 42.13 L596.23 41.57 L596.96 41.01 L597.7 40.45 L598.43 39.89 L599.17 39.34 L599.9 38.79 L600.64 38.24 L601.37 37.7 L602.11 37.16 L602.84 36.62 L603.57 36.09 L604.31 35.57 L605.04 35.05 L605.78 34.53 L606.51 34.02 L607.25 33.52 L607.98 33.03 L608.72 32.55 L609.45 32.07 L610.19 31.61 L610.92 31.16 L611.66 30.72 L612.39 30.29 L613.12 29.88 L613.86 29.48 L614.59 29.1 L615.33 28.74 L616.06 28.4 L616.8 28.08 L617.53 27.78 L618.27 27.52 L619 27.28 L619.74 27.07 L620.47 26.9 L621.21 26.76 L621.94 26.67 L622.67 26.62 L623.41 26.62 L624.14 26.67 L624.88 26.79 L625.61 26.96 L626.35 27.2 L627.08 27.52 L627.82 27.92 L628.55 28.42 L629.29 29 L630.02 29.7 L630.75 30.51 L631.49 31.45 L632.22 32.53 L632.96 33.76 L633.69 35.15 L634.43 36.72 L635.16 38.49 L635.9 40.48 L636.63 42.69 L637.37 45.16 L638.1 47.91 L638.84 50.96 L639.57 54.34 L640.3 58.08 L641.04 62.22 L641.77 66.78 L642.51 71.81 L643.24 77.35 L643.98 83.45 L644.71 90.15 L645.45 97.52 L646.18 100.1" fill="none" stroke="#000" stroke-width="1.2" stroke-linejoin="round" stroke-dasharray="5.5 7.5"/>
<path d="M540.4 85.85 L541.13 85.26 L541.87 84.68 L542.6 84.09 L543.34 83.5 L544.07 82.92 L544.81 82.33 L545.54 81.74 L546.28 81.15 L547.01 80.57 L547.75 79.98 L548.48 79.39 L549.22 78.81 L549.95 78.22 L550.68 77.63 L551.42 77.05 L552.15 76.46 L552.89 75.87 L553.62 75.29 L554.36 74.7 L555.09 74.11 L555.83 73.53 L556.56 72.94 L557.3 72.36 L558.03 71.77 L558.76 71.18 L559.5 70.6 L560.23 70.01 L560.97 69.42 L561.7 68.84 L562.44 68.25 L563.17 67.66 L563.91 67.08 L564.64 66.49 L565.38 65.91 L566.11 65.32 L566.85 64.73 L567.58 64.15 L568.31 63.56 L569.05 62.98 L569.78 62.39 L570.52 61.8 L571.25 61.22 L571.99 60.63 L572.72 60.05 L573.46 59.46 L574.19 58.88 L574.93 58.29 L575.66 57.71 L576.39 57.12 L577.13 56.54 L577.86 55.96 L578.6 55.37 L579.33 54.79 L580.07 54.21 L580.8 53.62 L581.54 53.04 L582.27 52.46 L583.01 51.88 L583.74 51.3 L584.48 50.72 L585.21 50.14 L585.94 49.56 L586.68 48.98 L587.41 48.4 L588.15 47.82 L588.88 47.25 L589.62 46.67 L590.35 46.1 L591.09 45.52 L591.82 44.95 L592.56 44.38 L593.29 43.81 L594.03 43.24 L594.76 42.68 L595.49 42.11 L596.23 41.55 L596.96 40.99 L597.7 40.43 L598.43 39.88 L599.17 39.33 L599.9 38.78 L600.64 38.23 L601.37 37.69 L602.11 37.16 L602.84 36.62 L603.57 36.1 L604.31 35.57 L605.04 35.06 L605.78 34.55 L606.51 34.04 L607.25 33.55 L607.98 33.06 L608.72 32.58 L609.45 32.11 L610.19 31.65 L610.92 31.21 L611.66 30.77 L612.39 30.35 L613.12 29.95 L613.86 29.56 L614.59 29.19 L615.33 28.83 L616.06 28.5 L616.8 28.19 L617.53 27.91 L618.27 27.65 L619 27.42 L619.74 27.23 L620.47 27.07 L621.21 26.94 L621.94 26.86 L622.67 26.82 L623.41 26.83 L624.14 26.88 L624.88 27 L625.61 27.18 L626.35 27.42 L627.08 27.73 L627.82 28.11 L628.55 28.58 L629.29 29.14 L630.02 29.79 L630.75 30.55 L631.49 31.41 L632.22 32.4 L632.96 33.51 L633.69 34.75 L634.43 36.14 L635.16 37.68 L635.9 39.38 L636.63 41.26 L637.37 43.31 L638.1 45.57 L638.84 48.02 L639.57 50.7 L640.3 53.59 L641.04 56.73 L641.77 60.11 L642.51 63.75 L643.24 67.65 L643.98 71.83 L644.71 76.29 L645.45 81.04 L646.18 86.09 L646.92 91.45 L647.65 97.11 L648.38 100.1" fill="none" stroke="#e02a2a" stroke-width="1" stroke-linejoin="round"/>
<path d="M540.4 85.99 L541.13 85.4 L541.87 84.82 L542.6 84.23 L543.34 83.64 L544.07 83.06 L544.81 82.47 L545.54 81.88 L546.28 81.3 L547.01 80.71 L547.75 80.12 L548.48 79.54 L549.22 78.95 L549.95 78.36 L550.68 77.78 L551.42 77.19 L552.15 76.6 L552.89 76.02 L553.62 75.43 L554.36 74.84 L555.09 74.26 L555.83 73.67 L556.56 73.08 L557.3 72.5 L558.03 71.91 L558.76 71.32 L559.5 70.74 L560.23 70.15 L560.97 69.56 L561.7 68.98 L562.44 68.39 L563.17 67.8 L563.91 67.22 L564.64 66.63 L565.38 66.05 L566.11 65.46 L566.85 64.87 L567.58 64.29 L568.31 63.7 L569.05 63.12 L569.78 62.53 L570.52 61.94 L571.25 61.36 L571.99 60.77 L572.72 60.19 L573.46 59.6 L574.19 59.02 L574.93 58.43 L575.66 57.85 L576.39 57.26 L577.13 56.68 L577.86 56.09 L578.6 55.51 L579.33 54.93 L580.07 54.34 L580.8 53.76 L581.54 53.18 L582.27 52.6 L583.01 52.01 L583.74 51.43 L584.48 50.85 L585.21 50.27 L585.94 49.69 L586.68 49.11 L587.41 48.53 L588.15 47.96 L588.88 47.38 L589.62 46.8 L590.35 46.23 L591.09 45.65 L591.82 45.08 L592.56 44.51 L593.29 43.94 L594.03 43.37 L594.76 42.8 L595.49 42.24 L596.23 41.67 L596.96 41.11 L597.7 40.55 L598.43 40 L599.17 39.44 L599.9 38.89 L600.64 38.34 L601.37 37.8 L602.11 37.26 L602.84 36.72 L603.57 36.19 L604.31 35.67 L605.04 35.15 L605.78 34.63 L606.51 34.12 L607.25 33.62 L607.98 33.13 L608.72 32.64 L609.45 32.17 L610.19 31.7 L610.92 31.25 L611.66 30.81 L612.39 30.38 L613.12 29.96 L613.86 29.56 L614.59 29.18 L615.33 28.82 L616.06 28.48 L616.8 28.15 L617.53 27.86 L618.27 27.59 L619 27.34 L619.74 27.13 L620.47 26.96 L621.21 26.82 L621.94 26.72 L622.67 26.66 L623.41 26.66 L624.14 26.7 L624.88 26.81 L625.61 26.97 L626.35 27.21 L627.08 27.52 L627.82 27.91 L628.55 28.39 L629.29 28.96 L630.02 29.65 L630.75 30.44 L631.49 31.36 L632.22 32.42 L632.96 33.63 L633.69 35 L634.43 36.55 L635.16 38.29 L635.9 40.24 L636.63 42.42 L637.37 44.86 L638.1 47.56 L638.84 50.57 L639.57 53.9 L640.3 57.58 L641.04 61.65 L641.77 66.14 L642.51 71.09 L643.24 76.54 L643.98 82.54 L644.71 89.13 L645.45 96.37 L646.18 100.1" fill="none" stroke="#222" stroke-width="0.9" stroke-linejoin="round"/>
</g>
<text x="519.17" y="15.68" font-family='"Liberation Serif", serif' font-size="11.56" fill="#4e4e4e" textLength="13.26" lengthAdjust="spacingAndGlyphs">10</text>
<text x="532.74" y="10.52" font-family='"Liberation Serif", serif' font-size="7.7" fill="#4e4e4e" textLength="4.52" lengthAdjust="spacingAndGlyphs">0</text>
<text x="513.66" y="43.78" font-family='"Liberation Serif", serif' font-size="11.56" fill="#4e4e4e" textLength="13.37" lengthAdjust="spacingAndGlyphs">10</text>
<text x="527.34" y="38.7" font-family='"Liberation Serif", serif' font-size="7.27" fill="#4e4e4e" textLength="9.75" lengthAdjust="spacingAndGlyphs">−2</text>
<text x="513.66" y="70.68" font-family='"Liberation Serif", serif' font-size="11.56" fill="#4e4e4e" textLength="13.37" lengthAdjust="spacingAndGlyphs">10</text>
<text x="527.36" y="65.6" font-family='"Liberation Serif", serif' font-size="7.27" fill="#4e4e4e" textLength="9.36" lengthAdjust="spacingAndGlyphs">−4</text>
<text x="528.99" y="86.88" font-family='"Liberation Serif", serif' font-size="11.7" fill="#4e4e4e" textLength="13.03" lengthAdjust="spacingAndGlyphs">10</text>
<text x="542.12" y="82.4" font-family='"Liberation Serif", serif' font-size="7.88" fill="#4e4e4e" textLength="10.14" lengthAdjust="spacingAndGlyphs">−1</text>
<text x="570.43" y="86.88" font-family='"Liberation Serif", serif' font-size="11.7" fill="#4e4e4e" textLength="14.17" lengthAdjust="spacingAndGlyphs">10</text>
<text x="584.2" y="82.81" font-family='"Liberation Serif", serif' font-size="8.74" fill="#4e4e4e" textLength="5.48" lengthAdjust="spacingAndGlyphs">0</text>
<text x="609.36" y="86.88" font-family='"Liberation Serif", serif' font-size="11.7" fill="#4e4e4e" textLength="14.17" lengthAdjust="spacingAndGlyphs">10</text>
<text x="622.64" y="82.9" font-family='"Liberation Serif", serif' font-size="8.74" fill="#4e4e4e" textLength="5.48" lengthAdjust="spacingAndGlyphs">1</text>
<text x="648.3" y="86.88" font-family='"Liberation Serif", serif' font-size="11.7" fill="#4e4e4e" textLength="14.17" lengthAdjust="spacingAndGlyphs">10</text>
<text x="662.01" y="82.9" font-family='"Liberation Serif", serif' font-size="8.74" fill="#4e4e4e" textLength="5.48" lengthAdjust="spacingAndGlyphs">2</text>
<text x="406.92" y="18.89" font-family='"Liberation Serif", serif' font-size="22.86" fill="#222" textLength="6.53" lengthAdjust="spacingAndGlyphs">(</text>
<text x="415.8" y="18.61" font-family='"Liberation Serif", serif' font-size="19.29" fill="#222" textLength="11.41" lengthAdjust="spacingAndGlyphs">b</text>
<text x="428.53" y="18.89" font-family='"Liberation Serif", serif' font-size="22.86" fill="#222" textLength="6.28" lengthAdjust="spacingAndGlyphs">)</text>
<text x="433.54" y="23.8" font-family='"Liberation Serif", serif' font-size="13.96" fill="#303030" textLength="4.18" lengthAdjust="spacingAndGlyphs">(</text>
<text x="439.14" y="23.65" font-family='"Liberation Serif", serif' font-size="13.21" fill="#0a0a0a" textLength="7.38" lengthAdjust="spacingAndGlyphs"><tspan font-style="italic">T</tspan></text>
<text x="457.87" y="23.65" font-family='"Liberation Serif", serif' font-size="13.21" fill="#0a0a0a" textLength="7.99" lengthAdjust="spacingAndGlyphs"><tspan font-style="italic">T</tspan></text>
<text x="480.13" y="23.65" font-family='"Liberation Serif", serif' font-size="13.21" fill="#0a0a0a" textLength="7.48" lengthAdjust="spacingAndGlyphs"><tspan font-style="italic">T</tspan></text>
<text x="454.46" y="23.64" font-family='"Liberation Serif", serif' font-size="13.73" fill="#303030" textLength="2.76" lengthAdjust="spacingAndGlyphs">,</text>
<text x="476.09" y="23.7" font-family='"Liberation Serif", serif' font-size="13.33" fill="#303030" textLength="2.59" lengthAdjust="spacingAndGlyphs">,</text>
<text x="497.62" y="23.8" font-family='"Liberation Serif", serif' font-size="13.96" fill="#303030" textLength="4.23" lengthAdjust="spacingAndGlyphs">)</text>
<path d="M448.2 21.1 v5.5 M451.8 21.1 v5.5" stroke="#9a9a9a" stroke-width="0.9" fill="none"/>
<path d="M466.1 25.3 H471.7 M469 25.3 v-4 M488 25.3 H492.4 M490.3 25.3 v-4" stroke="#555" stroke-width="0.8" fill="none"/>
<text x="472.37" y="25.5" font-family='"Liberation Serif", serif' font-size="5.3" fill="#777" textLength="3.1" lengthAdjust="spacingAndGlyphs">1</text>
<text x="491.94" y="25.6" font-family='"Liberation Serif", serif' font-size="6.36" fill="#666" textLength="5.13" lengthAdjust="spacingAndGlyphs">2</text>
<text x="428.91" y="38.42" font-family='"Liberation Serif", serif' font-size="11.98" fill="#303030" textLength="65.01" lengthAdjust="spacingAndGlyphs">=(88,93,86)</text>
<text x="546.95" y="97.73" font-family='"Liberation Serif", serif' font-size="12.42" fill="#303030" textLength="75.25" lengthAdjust="spacingAndGlyphs">(<tspan font-style="italic">s</tspan>  ,<tspan font-style="italic">s</tspan>)=(−1,1)</text>
<text x="557.94" y="103" font-family='"Liberation Serif", serif' font-size="7.12" fill="#4a4a4a" textLength="4.01" lengthAdjust="spacingAndGlyphs">Λ</text>
<text x="547.2" y="114.49" font-family='"Liberation Serif", serif' font-size="10.52" fill="#303030" textLength="29.34" lengthAdjust="spacingAndGlyphs"><tspan font-style="italic">T</tspan>=88</text>
<text x="547.63" y="130.88" font-family='"Liberation Serif", serif' font-size="12.17" fill="#ff3c3c" textLength="109.51" lengthAdjust="spacingAndGlyphs">(<tspan font-style="italic" font-weight="bold">q</tspan>,<tspan font-style="italic">β</tspan>)=(1.04,0.012)</text>
<path d="M463 56.2 L466.5 41.4" fill="none" stroke="#000" stroke-width="1.8" stroke-linejoin="round"/>
<path d="M473.4 65.1 L542.8 113.3" fill="none" stroke="#000" stroke-width="2" stroke-linejoin="round" stroke-dasharray="7.4 8.4"/>
<path d="M479.3 73.5 L543 129.7" fill="none" stroke="#ff1414" stroke-width="2" stroke-linejoin="round"/>
<clipPath id="mc"><rect x="55.8" y="162.3" width="268" height="148.7"/></clipPath>
<clipPath id="nc"><rect x="55.8" y="162.3" width="268" height="146.2"/></clipPath>
<clipPath id="ic"><rect x="196.4" y="170.2" width="116.8" height="62.2"/></clipPath>
<rect x="55.8" y="162.3" width="268" height="147.2" fill="none" stroke="#a3a3a3" stroke-width="1.3"/>
<path d="M55.8 280.06 h6.5 M323.8 280.06 h-6.5 M55.8 250.62 h6.5 M323.8 250.62 h-6.5 M55.8 221.18 h6.5 M323.8 221.18 h-6.5 M55.8 191.74 h6.5 M323.8 191.74 h-6.5 M109.4 309.5 v-3.5 M109.4 162.3 v3.5 M163 309.5 v-3.5 M163 162.3 v3.5 M216.6 309.5 v-3.5 M216.6 162.3 v3.5 M270.2 309.5 v-3.5 M270.2 162.3 v3.5" stroke="#8a8a8a" stroke-width="1" fill="none"/>
<text x="22.03" y="171.3" font-family='"Liberation Serif", serif' font-size="13.09" fill="#4e4e4e" textLength="29.45" lengthAdjust="spacingAndGlyphs">0.10</text>
<text x="22.03" y="197.01" font-family='"Liberation Serif", serif' font-size="12.94" fill="#4e4e4e" textLength="29.45" lengthAdjust="spacingAndGlyphs">0.08</text>
<text x="22.03" y="226.8" font-family='"Liberation Serif", serif' font-size="13.38" fill="#4e4e4e" textLength="29.27" lengthAdjust="spacingAndGlyphs">0.06</text>
<text x="22.04" y="256.5" font-family='"Liberation Serif", serif' font-size="13.09" fill="#4e4e4e" textLength="29.01" lengthAdjust="spacingAndGlyphs">0.04</text>
<text x="22.02" y="286.1" font-family='"Liberation Serif", serif' font-size="13.09" fill="#4e4e4e" textLength="29.71" lengthAdjust="spacingAndGlyphs">0.02</text>
<text x="22.03" y="309.71" font-family='"Liberation Serif", serif' font-size="12.94" fill="#4e4e4e" textLength="29.45" lengthAdjust="spacingAndGlyphs">0.00</text>
<text transform="translate(10.99 250.82) rotate(-90)" font-family='"Liberation Serif", serif' font-size="14.95" fill="#3a3a3a" textLength="29.24" lengthAdjust="spacingAndGlyphs"><tspan font-style="italic">F</tspan>(<tspan font-style="italic">υ</tspan>)</text>
<g clip-path="url(#mc)">
<path d="M59.75 305l3 3l-3 3l-3 -3z M60.49 304.5l3 3l-3 3l-3 -3z M61.38 303.3l3 3l-3 3l-3 -3z M62.43 303l3 3l-3 3l-3 -3z M63.69 302l3 3l-3 3l-3 -3z M65.18 300.9l3 3l-3 3l-3 -3z M66.95 297.5l3 3l-3 3l-3 -3z M69.06 294.2l3 3l-3 3l-3 -3z M71.57 285.8l3 3l-3 3l-3 -3z M74.55 281l3 3l-3 3l-3 -3z M78.09 274.8l3 3l-3 3l-3 -3z M82.3 271l3 3l-3 3l-3 -3z M87.31 253.4l3 3l-3 3l-3 -3z M93.27 243.9l3 3l-3 3l-3 -3z M100.35 234.6l3 3l-3 3l-3 -3z M108.77 223.1l3 3l-3 3l-3 -3z M118.78 217.2l3 3l-3 3l-3 -3z M130.68 227.8l3 3l-3 3l-3 -3z M144.84 248l3 3l-3 3l-3 -3z M161.66 272.3l3 3l-3 3l-3 -3z M181.67 288.1l3 3l-3 3l-3 -3z M205.46 301.2l3 3l-3 3l-3 -3z M233.75 305l3 3l-3 3l-3 -3z M267.38 305.4l3 3l-3 3l-3 -3z" fill="none" stroke="#555" stroke-width="0.85"/>
</g><g clip-path="url(#nc)">
<path d="M56.02 309.5 L57.14 309.39 L58.26 309.12 L59.38 308.69 L60.5 308.12 L61.63 307.39 L62.75 306.51 L63.87 305.48 L64.99 304.32 L66.11 303.01 L67.23 301.58 L68.35 300.02 L69.47 298.34 L70.59 296.55 L71.71 294.66 L72.83 292.66 L73.95 290.58 L75.07 288.42 L76.19 286.18 L77.31 283.88 L78.43 281.52 L79.55 279.12 L80.67 276.68 L81.79 274.21 L82.91 271.73 L84.03 269.23 L85.15 266.73 L86.27 264.24 L87.39 261.76 L88.52 259.31 L89.64 256.89 L90.76 254.52 L91.88 252.19 L93 249.92 L94.12 247.71 L95.24 245.57 L96.36 243.51 L97.48 241.53 L98.6 239.64 L99.72 237.84 L100.84 236.13 L101.96 234.53 L103.08 233.03 L104.2 231.64 L105.32 230.36 L106.44 229.2 L107.56 228.14 L108.68 227.21 L109.8 226.39 L110.92 225.68 L112.04 225.09 L113.16 224.62 L114.28 224.27 L115.4 224.03 L116.53 223.9 L117.65 223.88 L118.77 223.97 L119.89 224.17 L121.01 224.46 L122.13 224.86 L123.25 225.36 L124.37 225.95 L125.49 226.63 L126.61 227.39 L127.73 228.24 L128.85 229.16 L129.97 230.15 L131.09 231.22 L132.21 232.34 L133.33 233.53 L134.45 234.78 L135.57 236.07 L136.69 237.41 L137.81 238.8 L138.93 240.22 L140.05 241.67 L141.17 243.15 L142.29 244.66 L143.41 246.19 L144.54 247.74 L145.66 249.3 L146.78 250.88 L147.9 252.45 L149.02 254.03 L150.14 255.61 L151.26 257.19 L152.38 258.76 L153.5 260.33 L154.62 261.88 L155.74 263.41 L156.86 264.94 L157.98 266.44 L159.1 267.92 L160.22 269.38 L161.34 270.82 L162.46 272.23 L163.58 273.62 L164.7 274.97 L165.82 276.3 L166.94 277.6 L168.06 278.87 L169.18 280.11 L170.3 281.32 L171.42 282.49 L172.55 283.63 L173.67 284.74 L174.79 285.82 L175.91 286.86 L177.03 287.87 L178.15 288.85 L179.27 289.79 L180.39 290.71 L181.51 291.59 L182.63 292.44 L183.75 293.26 L184.87 294.04 L185.99 294.8 L187.11 295.53 L188.23 296.23 L189.35 296.9 L190.47 297.54 L191.59 298.16 L192.71 298.75 L193.83 299.32 L194.95 299.86 L196.07 300.37 L197.19 300.86 L198.31 301.33 L199.44 301.78 L200.56 302.21 L201.68 302.62 L202.8 303 L203.92 303.37 L205.04 303.72 L206.16 304.05 L207.28 304.37 L208.4 304.67 L209.52 304.95 L210.64 305.22 L211.76 305.48 L212.88 305.72 L214 305.94 L215.12 306.16 L216.24 306.36 L217.36 306.56 L218.48 306.74 L219.6 306.91 L220.72 307.07 L221.84 307.23 L222.96 307.37 L224.08 307.51 L225.2 307.63 L226.32 307.75 L227.45 307.87 L228.57 307.97 L229.69 308.07 L230.81 308.17 L231.93 308.25 L233.05 308.34 L234.17 308.41 L235.29 308.49 L236.41 308.55 L237.53 308.62 L238.65 308.68 L239.77 308.73 L240.89 308.79 L242.01 308.83 L243.13 308.88 L244.25 308.92 L245.37 308.96 L246.49 309 L247.61 309.04 L248.73 309.07 L249.85 309.1 L250.97 309.13 L252.09 309.15 L253.21 309.18 L254.33 309.2 L255.46 309.22 L256.58 309.24 L257.7 309.26 L258.82 309.28 L259.94 309.29 L261.06 309.31 L262.18 309.32 L263.3 309.34 L264.42 309.35 L265.54 309.36 L266.66 309.37 L267.78 309.38 L268.9 309.39 L270.02 309.4 L271.14 309.4 L272.26 309.41 L273.38 309.42 L274.5 309.42 L275.62 309.43 L276.74 309.44 L277.86 309.44 L278.98 309.44 L280.1 309.45 L281.22 309.45 L282.35 309.46 L283.47 309.46 L284.59 309.46 L285.71 309.47 L286.83 309.47 L287.95 309.47 L289.07 309.47 L290.19 309.48 L291.31 309.48 L292.43 309.48 L293.55 309.48 L294.67 309.48 L295.79 309.48 L296.91 309.48 L298.03 309.49 L299.15 309.49 L300.27 309.49 L301.39 309.49 L302.51 309.49 L303.63 309.49 L304.75 309.49 L305.87 309.49 L306.99 309.49 L308.11 309.49 L309.23 309.49 L310.36 309.49 L311.48 309.49 L312.6 309.5 L313.72 309.5 L314.84 309.5 L315.96 309.5 L317.08 309.5 L318.2 309.5 L319.32 309.5 L320.44 309.5 L321.56 309.5 L322.68 309.5 L323.8 309.5" fill="none" stroke="#f25a5a" stroke-width="1.1" stroke-linejoin="round"/>
</g><g clip-path="url(#nc)">
<path d="M56.02 309.5 L57.14 309.39 L58.26 309.13 L59.38 308.73 L60.5 308.17 L61.63 307.47 L62.75 306.62 L63.87 305.64 L64.99 304.51 L66.11 303.26 L67.23 301.87 L68.35 300.37 L69.47 298.74 L70.59 297.01 L71.71 295.17 L72.83 293.24 L73.95 291.21 L75.07 289.1 L76.19 286.92 L77.31 284.67 L78.43 282.36 L79.55 280 L80.67 277.6 L81.79 275.16 L82.91 272.7 L84.03 270.22 L85.15 267.73 L86.27 265.25 L87.39 262.77 L88.52 260.31 L89.64 257.87 L90.76 255.47 L91.88 253.1 L93 250.79 L94.12 248.53 L95.24 246.33 L96.36 244.2 L97.48 242.14 L98.6 240.16 L99.72 238.27 L100.84 236.47 L101.96 234.76 L103.08 233.16 L104.2 231.65 L105.32 230.25 L106.44 228.97 L107.56 227.79 L108.68 226.72 L109.8 225.77 L110.92 224.94 L112.04 224.22 L113.16 223.62 L114.28 223.14 L115.4 222.78 L116.53 222.53 L117.65 222.39 L118.77 222.37 L119.89 222.46 L121.01 222.65 L122.13 222.96 L123.25 223.36 L124.37 223.87 L125.49 224.47 L126.61 225.17 L127.73 225.95 L128.85 226.83 L129.97 227.78 L131.09 228.81 L132.21 229.91 L133.33 231.09 L134.45 232.33 L135.57 233.62 L136.69 234.98 L137.81 236.38 L138.93 237.83 L140.05 239.32 L141.17 240.85 L142.29 242.41 L143.41 244 L144.54 245.61 L145.66 247.25 L146.78 248.9 L147.9 250.56 L149.02 252.23 L150.14 253.9 L151.26 255.58 L152.38 257.25 L153.5 258.91 L154.62 260.57 L155.74 262.22 L156.86 263.85 L157.98 265.46 L159.1 267.05 L160.22 268.63 L161.34 270.17 L162.46 271.7 L163.58 273.19 L164.7 274.66 L165.82 276.09 L166.94 277.49 L168.06 278.86 L169.18 280.2 L170.3 281.5 L171.42 282.76 L172.55 283.99 L173.67 285.18 L174.79 286.34 L175.91 287.46 L177.03 288.54 L178.15 289.59 L179.27 290.59 L180.39 291.57 L181.51 292.5 L182.63 293.4 L183.75 294.26 L184.87 295.09 L185.99 295.89 L187.11 296.65 L188.23 297.38 L189.35 298.07 L190.47 298.74 L191.59 299.37 L192.71 299.97 L193.83 300.55 L194.95 301.09 L196.07 301.61 L197.19 302.11 L198.31 302.57 L199.44 303.01 L200.56 303.43 L201.68 303.83 L202.8 304.2 L203.92 304.56 L205.04 304.89 L206.16 305.2 L207.28 305.5 L208.4 305.78 L209.52 306.04 L210.64 306.29 L211.76 306.52 L212.88 306.73 L214 306.93 L215.12 307.12 L216.24 307.3 L217.36 307.46 L218.48 307.62 L219.6 307.76 L220.72 307.9 L221.84 308.02 L222.96 308.14 L224.08 308.24 L225.2 308.34 L226.32 308.44 L227.45 308.52 L228.57 308.6 L229.69 308.68 L230.81 308.75 L231.93 308.81 L233.05 308.87 L234.17 308.92 L235.29 308.97 L236.41 309.02 L237.53 309.06 L238.65 309.1 L239.77 309.13 L240.89 309.17 L242.01 309.2 L243.13 309.22 L244.25 309.25 L245.37 309.27 L246.49 309.29 L247.61 309.31 L248.73 309.33 L249.85 309.35 L250.97 309.36 L252.09 309.37 L253.21 309.39 L254.33 309.4 L255.46 309.41 L256.58 309.42 L257.7 309.42 L258.82 309.43 L259.94 309.44 L261.06 309.44 L262.18 309.45 L263.3 309.46 L264.42 309.46 L265.54 309.46 L266.66 309.47 L267.78 309.47 L268.9 309.47 L270.02 309.48 L271.14 309.48 L272.26 309.48 L273.38 309.48 L274.5 309.49 L275.62 309.49 L276.74 309.49 L277.86 309.49 L278.98 309.49 L280.1 309.49 L281.22 309.49 L282.35 309.49 L283.47 309.49 L284.59 309.49 L285.71 309.5 L286.83 309.5 L287.95 309.5 L289.07 309.5 L290.19 309.5 L291.31 309.5 L292.43 309.5 L293.55 309.5 L294.67 309.5 L295.79 309.5 L296.91 309.5 L298.03 309.5 L299.15 309.5 L300.27 309.5 L301.39 309.5 L302.51 309.5 L303.63 309.5 L304.75 309.5 L305.87 309.5 L306.99 309.5 L308.11 309.5 L309.23 309.5 L310.36 309.5 L311.48 309.5 L312.6 309.5 L313.72 309.5 L314.84 309.5 L315.96 309.5 L317.08 309.5 L318.2 309.5 L319.32 309.5 L320.44 309.5 L321.56 309.5 L322.68 309.5 L323.8 309.5" fill="none" stroke="#383838" stroke-width="0.9" stroke-linejoin="round"/>
</g><g clip-path="url(#mc)">
<path d="M56.02 309.5 L57.14 309.39 L58.26 309.12 L59.38 308.7 L60.5 308.12 L61.63 307.39 L62.75 306.52 L63.87 305.5 L64.99 304.33 L66.11 303.03 L67.23 301.6 L68.35 300.04 L69.47 298.36 L70.59 296.57 L71.71 294.67 L72.83 292.67 L73.95 290.58 L75.07 288.41 L76.19 286.15 L77.31 283.84 L78.43 281.46 L79.55 279.03 L80.67 276.56 L81.79 274.05 L82.91 271.53 L84.03 268.98 L85.15 266.44 L86.27 263.89 L87.39 261.36 L88.52 258.84 L89.64 256.36 L90.76 253.91 L91.88 251.51 L93 249.16 L94.12 246.87 L95.24 244.64 L96.36 242.49 L97.48 240.42 L98.6 238.43 L99.72 236.54 L100.84 234.74 L101.96 233.04 L103.08 231.45 L104.2 229.96 L105.32 228.59 L106.44 227.33 L107.56 226.18 L108.68 225.16 L109.8 224.25 L110.92 223.47 L112.04 222.81 L113.16 222.27 L114.28 221.85 L115.4 221.55 L116.53 221.37 L117.65 221.3 L118.77 221.36 L119.89 221.52 L121.01 221.8 L122.13 222.19 L123.25 222.67 L124.37 223.27 L125.49 223.96 L126.61 224.74 L127.73 225.61 L128.85 226.57 L129.97 227.61 L131.09 228.73 L132.21 229.91 L133.33 231.17 L134.45 232.49 L135.57 233.87 L136.69 235.3 L137.81 236.78 L138.93 238.3 L140.05 239.86 L141.17 241.46 L142.29 243.09 L143.41 244.74 L144.54 246.41 L145.66 248.1 L146.78 249.8 L147.9 251.51 L149.02 253.23 L150.14 254.94 L151.26 256.65 L152.38 258.36 L153.5 260.06 L154.62 261.74 L155.74 263.41 L156.86 265.06 L157.98 266.7 L159.1 268.3 L160.22 269.89 L161.34 271.44 L162.46 272.97 L163.58 274.47 L164.7 275.93 L165.82 277.36 L166.94 278.76 L168.06 280.12 L169.18 281.44 L170.3 282.73 L171.42 283.98 L172.55 285.19 L173.67 286.37 L174.79 287.5 L175.91 288.6 L177.03 289.66 L178.15 290.68 L179.27 291.67 L180.39 292.61 L181.51 293.52 L182.63 294.39 L183.75 295.23 L184.87 296.03 L185.99 296.79 L187.11 297.53 L188.23 298.23 L189.35 298.89 L190.47 299.53 L191.59 300.13 L192.71 300.71 L193.83 301.25 L194.95 301.77 L196.07 302.26 L197.19 302.73 L198.31 303.17 L199.44 303.58 L200.56 303.98 L201.68 304.35 L202.8 304.7 L203.92 305.03 L205.04 305.34 L206.16 305.63 L207.28 305.9 L208.4 306.16 L209.52 306.4 L210.64 306.63 L211.76 306.84 L212.88 307.04 L214 307.22 L215.12 307.4 L216.24 307.56 L217.36 307.71 L218.48 307.85 L219.6 307.98 L220.72 308.1 L221.84 308.21 L222.96 308.31 L224.08 308.41 L225.2 308.5 L226.32 308.58 L227.45 308.66 L228.57 308.73 L229.69 308.79 L230.81 308.85 L231.93 308.91 L233.05 308.96 L234.17 309.01 L235.29 309.05 L236.41 309.09 L237.53 309.13 L238.65 309.16 L239.77 309.19 L240.89 309.22 L242.01 309.25 L243.13 309.27 L244.25 309.29 L245.37 309.31 L246.49 309.33 L247.61 309.34 L248.73 309.36 L249.85 309.37 L250.97 309.39 L252.09 309.4 L253.21 309.41 L254.33 309.42 L255.46 309.42 L256.58 309.43 L257.7 309.44 L258.82 309.45 L259.94 309.45 L261.06 309.46 L262.18 309.46 L263.3 309.46 L264.42 309.47 L265.54 309.47 L266.66 309.47 L267.78 309.48 L268.9 309.48 L270.02 309.48 L271.14 309.48 L272.26 309.49 L273.38 309.49 L274.5 309.49 L275.62 309.49 L276.74 309.49 L277.86 309.49 L278.98 309.49 L280.1 309.49 L281.22 309.49 L282.35 309.5 L283.47 309.5 L284.59 309.5 L285.71 309.5 L286.83 309.5 L287.95 309.5 L289.07 309.5 L290.19 309.5 L291.31 309.5 L292.43 309.5 L293.55 309.5 L294.67 309.5 L295.79 309.5 L296.91 309.5 L298.03 309.5 L299.15 309.5 L300.27 309.5 L301.39 309.5 L302.51 309.5 L303.63 309.5 L304.75 309.5 L305.87 309.5 L306.99 309.5 L308.11 309.5 L309.23 309.5 L310.36 309.5 L311.48 309.5 L312.6 309.5 L313.72 309.5 L314.84 309.5 L315.96 309.5 L317.08 309.5 L318.2 309.5 L319.32 309.5 L320.44 309.5 L321.56 309.5 L322.68 309.5 L323.8 309.5" fill="none" stroke="#000" stroke-width="1.5" stroke-linejoin="round" stroke-dasharray="7.4 8.1" stroke-dashoffset="14.07"/>
</g>
<rect x="196.4" y="170.2" width="116.8" height="62.2" fill="#fff" stroke="#a3a3a3" stroke-width="1.2"/>
<path d="M196.4 185.75 h2.7 M313.2 185.75 h-2.7 M196.4 201.3 h5 M313.2 201.3 h-5 M196.4 216.85 h2.7 M313.2 216.85 h-2.7 M235.33 232.4 v-3 M235.33 170.2 v3 M274.27 232.4 v-3 M274.27 170.2 v3" stroke="#8a8a8a" stroke-width="1" fill="none"/>
<g clip-path="url(#ic)">
<path d="M253.73 199.71l2.8 2.8l-2.8 2.8l-2.8 -2.8z M256.66 196.2l2.8 2.8l-2.8 2.8l-2.8 -2.8z M259.59 194.79l2.8 2.8l-2.8 2.8l-2.8 -2.8z M262.51 193.32l2.8 2.8l-2.8 2.8l-2.8 -2.8z M265.44 192.55l2.8 2.8l-2.8 2.8l-2.8 -2.8z M268.37 189.84l2.8 2.8l-2.8 2.8l-2.8 -2.8z M271.3 188.72l2.8 2.8l-2.8 2.8l-2.8 -2.8z M274.22 187.79l2.8 2.8l-2.8 2.8l-2.8 -2.8z M277.15 186.79l2.8 2.8l-2.8 2.8l-2.8 -2.8z M280.08 186.33l2.8 2.8l-2.8 2.8l-2.8 -2.8z M283 187.18l2.8 2.8l-2.8 2.8l-2.8 -2.8z M285.93 189.18l2.8 2.8l-2.8 2.8l-2.8 -2.8z M288.86 192.81l2.8 2.8l-2.8 2.8l-2.8 -2.8z M291.78 196.99l2.8 2.8l-2.8 2.8l-2.8 -2.8z M294.71 206.8l2.8 2.8l-2.8 2.8l-2.8 -2.8z M297.64 218.3l2.8 2.8l-2.8 2.8l-2.8 -2.8z M244.95 207.95l2.8 2.8l-2.8 2.8l-2.8 -2.8z M247.88 206.55l2.8 2.8l-2.8 2.8l-2.8 -2.8z M250.81 203.17l2.8 2.8l-2.8 2.8l-2.8 -2.8z M233.7 210.8l2.8 2.8l-2.8 2.8l-2.8 -2.8z M239.6 209.1l2.8 2.8l-2.8 2.8l-2.8 -2.8z M243.1 206.8l2.8 2.8l-2.8 2.8l-2.8 -2.8z M247.6 208.5l2.8 2.8l-2.8 2.8l-2.8 -2.8z M251.1 202l2.8 2.8l-2.8 2.8l-2.8 -2.8z" fill="none" stroke="#2e2e2e" stroke-width="0.8"/>
<path d="M196.4 249.06 L197.13 248.47 L197.87 247.89 L198.6 247.3 L199.34 246.71 L200.07 246.13 L200.81 245.54 L201.54 244.95 L202.28 244.37 L203.01 243.78 L203.75 243.19 L204.48 242.61 L205.22 242.02 L205.95 241.43 L206.68 240.85 L207.42 240.26 L208.15 239.67 L208.89 239.09 L209.62 238.5 L210.36 237.91 L211.09 237.33 L211.83 236.74 L212.56 236.15 L213.3 235.57 L214.03 234.98 L214.76 234.39 L215.5 233.81 L216.23 233.22 L216.97 232.64 L217.7 232.05 L218.44 231.46 L219.17 230.88 L219.91 230.29 L220.64 229.7 L221.38 229.12 L222.11 228.53 L222.85 227.94 L223.58 227.36 L224.31 226.77 L225.05 226.19 L225.78 225.6 L226.52 225.02 L227.25 224.43 L227.99 223.84 L228.72 223.26 L229.46 222.67 L230.19 222.09 L230.93 221.5 L231.66 220.92 L232.39 220.33 L233.13 219.75 L233.86 219.16 L234.6 218.58 L235.33 218 L236.07 217.41 L236.8 216.83 L237.54 216.25 L238.27 215.66 L239.01 215.08 L239.74 214.5 L240.48 213.92 L241.21 213.34 L241.94 212.76 L242.68 212.18 L243.41 211.6 L244.15 211.02 L244.88 210.44 L245.62 209.86 L246.35 209.29 L247.09 208.71 L247.82 208.14 L248.56 207.57 L249.29 207 L250.03 206.43 L250.76 205.86 L251.49 205.29 L252.23 204.72 L252.96 204.16 L253.7 203.6 L254.43 203.04 L255.17 202.49 L255.9 201.93 L256.64 201.38 L257.37 200.83 L258.11 200.29 L258.84 199.75 L259.57 199.22 L260.31 198.69 L261.04 198.16 L261.78 197.64 L262.51 197.13 L263.25 196.62 L263.98 196.12 L264.72 195.63 L265.45 195.14 L266.19 194.67 L266.92 194.2 L267.66 193.75 L268.39 193.31 L269.12 192.88 L269.86 192.47 L270.59 192.07 L271.33 191.69 L272.06 191.33 L272.8 190.99 L273.53 190.67 L274.27 190.38 L275 190.11 L275.74 189.87 L276.47 189.67 L277.21 189.49 L277.94 189.36 L278.67 189.26 L279.41 189.22 L280.14 189.22 L280.88 189.27 L281.61 189.38 L282.35 189.55 L283.08 189.8 L283.82 190.12 L284.55 190.52 L285.29 191.01 L286.02 191.6 L286.75 192.29 L287.49 193.1 L288.22 194.04 L288.96 195.12 L289.69 196.35 L290.43 197.74 L291.16 199.32 L291.9 201.08 L292.63 203.07 L293.37 205.28 L294.1 207.75 L294.84 210.5 L295.57 213.55 L296.3 216.93 L297.04 220.67 L297.77 224.81 L298.51 229.37 L299.24 234.4 L299.98 239.94 L300.71 246.03 L301.45 252.74 L302.18 260.1 L302.92 262.4" fill="none" stroke="#000" stroke-width="1.2" stroke-linejoin="round" stroke-dasharray="5.5 7.5"/>
<path d="M196.4 249.03 L197.13 248.44 L197.87 247.86 L198.6 247.27 L199.34 246.68 L200.07 246.1 L200.81 245.51 L201.54 244.92 L202.28 244.34 L203.01 243.75 L203.75 243.16 L204.48 242.58 L205.22 241.99 L205.95 241.4 L206.68 240.82 L207.42 240.23 L208.15 239.64 L208.89 239.06 L209.62 238.47 L210.36 237.88 L211.09 237.3 L211.83 236.71 L212.56 236.12 L213.3 235.54 L214.03 234.95 L214.76 234.36 L215.5 233.78 L216.23 233.19 L216.97 232.6 L217.7 232.02 L218.44 231.43 L219.17 230.84 L219.91 230.26 L220.64 229.67 L221.38 229.09 L222.11 228.5 L222.85 227.91 L223.58 227.33 L224.31 226.74 L225.05 226.16 L225.78 225.57 L226.52 224.98 L227.25 224.4 L227.99 223.81 L228.72 223.23 L229.46 222.64 L230.19 222.06 L230.93 221.47 L231.66 220.89 L232.39 220.3 L233.13 219.72 L233.86 219.13 L234.6 218.55 L235.33 217.97 L236.07 217.38 L236.8 216.8 L237.54 216.22 L238.27 215.64 L239.01 215.05 L239.74 214.47 L240.48 213.89 L241.21 213.31 L241.94 212.73 L242.68 212.15 L243.41 211.57 L244.15 210.99 L244.88 210.42 L245.62 209.84 L246.35 209.26 L247.09 208.69 L247.82 208.12 L248.56 207.54 L249.29 206.97 L250.03 206.41 L250.76 205.84 L251.49 205.27 L252.23 204.71 L252.96 204.15 L253.7 203.59 L254.43 203.03 L255.17 202.47 L255.9 201.92 L256.64 201.37 L257.37 200.83 L258.11 200.29 L258.84 199.75 L259.57 199.22 L260.31 198.69 L261.04 198.17 L261.78 197.65 L262.51 197.14 L263.25 196.64 L263.98 196.14 L264.72 195.65 L265.45 195.18 L266.19 194.71 L266.92 194.25 L267.66 193.8 L268.39 193.37 L269.12 192.95 L269.86 192.54 L270.59 192.15 L271.33 191.78 L272.06 191.43 L272.8 191.1 L273.53 190.79 L274.27 190.5 L275 190.25 L275.74 190.02 L276.47 189.82 L277.21 189.66 L277.94 189.54 L278.67 189.45 L279.41 189.41 L280.14 189.42 L280.88 189.48 L281.61 189.59 L282.35 189.77 L283.08 190.01 L283.82 190.32 L284.55 190.71 L285.29 191.18 L286.02 191.73 L286.75 192.39 L287.49 193.14 L288.22 194.01 L288.96 194.99 L289.69 196.1 L290.43 197.34 L291.16 198.73 L291.9 200.27 L292.63 201.97 L293.37 203.85 L294.1 205.91 L294.84 208.16 L295.57 210.61 L296.3 213.29 L297.04 216.18 L297.77 219.32 L298.51 222.7 L299.24 226.33 L299.98 230.24 L300.71 234.41 L301.45 238.87 L302.18 243.63 L302.92 248.68 L303.65 254.03 L304.38 259.7 L305.12 262.4" fill="none" stroke="#e02a2a" stroke-width="1" stroke-linejoin="round"/>
<path d="M196.4 249.3 L197.13 248.72 L197.87 248.13 L198.6 247.54 L199.34 246.96 L200.07 246.37 L200.81 245.78 L201.54 245.2 L202.28 244.61 L203.01 244.02 L203.75 243.44 L204.48 242.85 L205.22 242.26 L205.95 241.68 L206.68 241.09 L207.42 240.5 L208.15 239.92 L208.89 239.33 L209.62 238.74 L210.36 238.16 L211.09 237.57 L211.83 236.98 L212.56 236.4 L213.3 235.81 L214.03 235.22 L214.76 234.64 L215.5 234.05 L216.23 233.46 L216.97 232.88 L217.7 232.29 L218.44 231.7 L219.17 231.12 L219.91 230.53 L220.64 229.95 L221.38 229.36 L222.11 228.77 L222.85 228.19 L223.58 227.6 L224.31 227.01 L225.05 226.43 L225.78 225.84 L226.52 225.26 L227.25 224.67 L227.99 224.09 L228.72 223.5 L229.46 222.91 L230.19 222.33 L230.93 221.74 L231.66 221.16 L232.39 220.57 L233.13 219.99 L233.86 219.41 L234.6 218.82 L235.33 218.24 L236.07 217.65 L236.8 217.07 L237.54 216.49 L238.27 215.9 L239.01 215.32 L239.74 214.74 L240.48 214.16 L241.21 213.58 L241.94 213 L242.68 212.42 L243.41 211.84 L244.15 211.26 L244.88 210.68 L245.62 210.1 L246.35 209.53 L247.09 208.95 L247.82 208.38 L248.56 207.81 L249.29 207.23 L250.03 206.66 L250.76 206.09 L251.49 205.53 L252.23 204.96 L252.96 204.4 L253.7 203.84 L254.43 203.28 L255.17 202.72 L255.9 202.16 L256.64 201.61 L257.37 201.07 L258.11 200.52 L258.84 199.98 L259.57 199.44 L260.31 198.91 L261.04 198.38 L261.78 197.86 L262.51 197.35 L263.25 196.84 L263.98 196.34 L264.72 195.84 L265.45 195.36 L266.19 194.88 L266.92 194.41 L267.66 193.96 L268.39 193.51 L269.12 193.08 L269.86 192.66 L270.59 192.26 L271.33 191.88 L272.06 191.51 L272.8 191.16 L273.53 190.84 L274.27 190.54 L275 190.26 L275.74 190.02 L276.47 189.8 L277.21 189.62 L277.94 189.47 L278.67 189.37 L279.41 189.31 L280.14 189.29 L280.88 189.33 L281.61 189.42 L282.35 189.58 L283.08 189.81 L283.82 190.1 L284.55 190.48 L285.29 190.95 L286.02 191.51 L286.75 192.17 L287.49 192.95 L288.22 193.85 L288.96 194.89 L289.69 196.08 L290.43 197.42 L291.16 198.94 L291.9 200.66 L292.63 202.58 L293.37 204.73 L294.1 207.12 L294.84 209.79 L295.57 212.75 L296.3 216.04 L297.04 219.67 L297.77 223.69 L298.51 228.13 L299.24 233.02 L299.98 238.41 L300.71 244.34 L301.45 250.86 L302.18 258.03 L302.92 262.4" fill="none" stroke="#222" stroke-width="0.9" stroke-linejoin="round"/>
</g>
<text x="175.17" y="177.98" font-family='"Liberation Serif", serif' font-size="11.56" fill="#4e4e4e" textLength="13.26" lengthAdjust="spacingAndGlyphs">10</text>
<text x="188.74" y="172.82" font-family='"Liberation Serif", serif' font-size="7.7" fill="#4e4e4e" textLength="4.52" lengthAdjust="spacingAndGlyphs">0</text>
<text x="169.66" y="206.08" font-family='"Liberation Serif", serif' font-size="11.56" fill="#4e4e4e" textLength="13.37" lengthAdjust="spacingAndGlyphs">10</text>
<text x="183.34" y="201" font-family='"Liberation Serif", serif' font-size="7.27" fill="#4e4e4e" textLength="9.75" lengthAdjust="spacingAndGlyphs">−2</text>
<text x="169.66" y="232.98" font-family='"Liberation Serif", serif' font-size="11.56" fill="#4e4e4e" textLength="13.37" lengthAdjust="spacingAndGlyphs">10</text>
<text x="183.36" y="227.9" font-family='"Liberation Serif", serif' font-size="7.27" fill="#4e4e4e" textLength="9.36" lengthAdjust="spacingAndGlyphs">−4</text>
<text x="184.99" y="249.18" font-family='"Liberation Serif", serif' font-size="11.7" fill="#4e4e4e" textLength="13.03" lengthAdjust="spacingAndGlyphs">10</text>
<text x="198.12" y="244.7" font-family='"Liberation Serif", serif' font-size="7.88" fill="#4e4e4e" textLength="10.14" lengthAdjust="spacingAndGlyphs">−1</text>
<text x="226.43" y="249.18" font-family='"Liberation Serif", serif' font-size="11.7" fill="#4e4e4e" textLength="14.17" lengthAdjust="spacingAndGlyphs">10</text>
<text x="240.2" y="245.11" font-family='"Liberation Serif", serif' font-size="8.74" fill="#4e4e4e" textLength="5.48" lengthAdjust="spacingAndGlyphs">0</text>
<text x="265.36" y="249.18" font-family='"Liberation Serif", serif' font-size="11.7" fill="#4e4e4e" textLength="14.17" lengthAdjust="spacingAndGlyphs">10</text>
<text x="278.64" y="245.2" font-family='"Liberation Serif", serif' font-size="8.74" fill="#4e4e4e" textLength="5.48" lengthAdjust="spacingAndGlyphs">1</text>
<text x="304.3" y="249.18" font-family='"Liberation Serif", serif' font-size="11.7" fill="#4e4e4e" textLength="14.17" lengthAdjust="spacingAndGlyphs">10</text>
<text x="318.01" y="245.2" font-family='"Liberation Serif", serif' font-size="8.74" fill="#4e4e4e" textLength="5.48" lengthAdjust="spacingAndGlyphs">2</text>
<text x="62.92" y="181.19" font-family='"Liberation Serif", serif' font-size="22.86" fill="#222" textLength="6.53" lengthAdjust="spacingAndGlyphs">(</text>
<text x="70.85" y="180.9" font-family='"Liberation Serif", serif' font-size="20.21" fill="#222" textLength="10.53" lengthAdjust="spacingAndGlyphs">c</text>
<text x="83.13" y="181.19" font-family='"Liberation Serif", serif' font-size="22.86" fill="#222" textLength="6.28" lengthAdjust="spacingAndGlyphs">)</text>
<text x="89.54" y="186.1" font-family='"Liberation Serif", serif' font-size="13.96" fill="#303030" textLength="4.18" lengthAdjust="spacingAndGlyphs">(</text>
<text x="95.14" y="185.95" font-family='"Liberation Serif", serif' font-size="13.21" fill="#0a0a0a" textLength="7.38" lengthAdjust="spacingAndGlyphs"><tspan font-style="italic">T</tspan></text>
<text x="113.87" y="185.95" font-family='"Liberation Serif", serif' font-size="13.21" fill="#0a0a0a" textLength="7.99" lengthAdjust="spacingAndGlyphs"><tspan font-style="italic">T</tspan></text>
<text x="136.13" y="185.95" font-family='"Liberation Serif", serif' font-size="13.21" fill="#0a0a0a" textLength="7.48" lengthAdjust="spacingAndGlyphs"><tspan font-style="italic">T</tspan></text>
<text x="110.46" y="185.94" font-family='"Liberation Serif", serif' font-size="13.73" fill="#303030" textLength="2.76" lengthAdjust="spacingAndGlyphs">,</text>
<text x="132.09" y="186" font-family='"Liberation Serif", serif' font-size="13.33" fill="#303030" textLength="2.59" lengthAdjust="spacingAndGlyphs">,</text>
<text x="153.62" y="186.1" font-family='"Liberation Serif", serif' font-size="13.96" fill="#303030" textLength="4.23" lengthAdjust="spacingAndGlyphs">)</text>
<path d="M104.2 183.4 v5.5 M107.8 183.4 v5.5" stroke="#9a9a9a" stroke-width="0.9" fill="none"/>
<path d="M122.1 187.6 H127.7 M125 187.6 v-4 M144 187.6 H148.4 M146.3 187.6 v-4" stroke="#555" stroke-width="0.8" fill="none"/>
<text x="128.37" y="187.8" font-family='"Liberation Serif", serif' font-size="5.3" fill="#777" textLength="3.1" lengthAdjust="spacingAndGlyphs">1</text>
<text x="147.94" y="187.9" font-family='"Liberation Serif", serif' font-size="6.36" fill="#666" textLength="5.12" lengthAdjust="spacingAndGlyphs">2</text>
<text x="84.91" y="200.72" font-family='"Liberation Serif", serif' font-size="11.98" fill="#303030" textLength="71.88" lengthAdjust="spacingAndGlyphs">=(96,100,99)</text>
<text x="202.95" y="260.03" font-family='"Liberation Serif", serif' font-size="12.42" fill="#303030" textLength="75.25" lengthAdjust="spacingAndGlyphs">(<tspan font-style="italic">s</tspan>  ,<tspan font-style="italic">s</tspan>)=(−1,2)</text>
<text x="213.94" y="265.3" font-family='"Liberation Serif", serif' font-size="7.12" fill="#4a4a4a" textLength="4.01" lengthAdjust="spacingAndGlyphs">Λ</text>
<text x="203.2" y="276.79" font-family='"Liberation Serif", serif' font-size="10.6" fill="#303030" textLength="29.19" lengthAdjust="spacingAndGlyphs"><tspan font-style="italic">T</tspan>=96</text>
<text x="203.63" y="293.18" font-family='"Liberation Serif", serif' font-size="12.17" fill="#ff3c3c" textLength="108.96" lengthAdjust="spacingAndGlyphs">(<tspan font-style="italic" font-weight="bold">q</tspan>,<tspan font-style="italic">β</tspan>)=(1.04,0.011)</text>
<path d="M118.1 221.1 L122.5 203.4" fill="none" stroke="#000" stroke-width="1.8" stroke-linejoin="round"/>
<path d="M145.4 245.5 L198.8 275.6" fill="none" stroke="#000" stroke-width="2" stroke-linejoin="round" stroke-dasharray="7.4 8.4"/>
<path d="M149.6 256.4 L199.1 291.7" fill="none" stroke="#ff1414" stroke-width="2" stroke-linejoin="round"/>
<clipPath id="md"><rect x="399.8" y="162.3" width="268" height="148.7"/></clipPath>
<clipPath id="nd"><rect x="399.8" y="162.3" width="268" height="146.2"/></clipPath>
<clipPath id="id"><rect x="540.4" y="170.2" width="116.8" height="62.2"/></clipPath>
<rect x="399.8" y="162.3" width="268" height="147.2" fill="none" stroke="#a3a3a3" stroke-width="1.3"/>
<path d="M399.8 280.06 h6.5 M667.8 280.06 h-6.5 M399.8 250.62 h6.5 M667.8 250.62 h-6.5 M399.8 221.18 h6.5 M667.8 221.18 h-6.5 M399.8 191.74 h6.5 M667.8 191.74 h-6.5 M453.4 309.5 v-3.5 M453.4 162.3 v3.5 M507 309.5 v-3.5 M507 162.3 v3.5 M560.6 309.5 v-3.5 M560.6 162.3 v3.5 M614.2 309.5 v-3.5 M614.2 162.3 v3.5" stroke="#8a8a8a" stroke-width="1" fill="none"/>
<text x="366.03" y="171.3" font-family='"Liberation Serif", serif' font-size="13.09" fill="#4e4e4e" textLength="29.45" lengthAdjust="spacingAndGlyphs">0.10</text>
<text x="366.03" y="197.01" font-family='"Liberation Serif", serif' font-size="12.94" fill="#4e4e4e" textLength="29.45" lengthAdjust="spacingAndGlyphs">0.08</text>
<text x="366.03" y="226.8" font-family='"Liberation Serif", serif' font-size="13.38" fill="#4e4e4e" textLength="29.27" lengthAdjust="spacingAndGlyphs">0.06</text>
<text x="366.04" y="256.5" font-family='"Liberation Serif", serif' font-size="13.09" fill="#4e4e4e" textLength="29.01" lengthAdjust="spacingAndGlyphs">0.04</text>
<text x="366.02" y="286.1" font-family='"Liberation Serif", serif' font-size="13.09" fill="#4e4e4e" textLength="29.71" lengthAdjust="spacingAndGlyphs">0.02</text>
<text x="366.03" y="309.71" font-family='"Liberation Serif", serif' font-size="12.94" fill="#4e4e4e" textLength="29.45" lengthAdjust="spacingAndGlyphs">0.00</text>
<text transform="translate(354.99 250.82) rotate(-90)" font-family='"Liberation Serif", serif' font-size="14.95" fill="#3a3a3a" textLength="29.24" lengthAdjust="spacingAndGlyphs"><tspan font-style="italic">F</tspan>(<tspan font-style="italic">υ</tspan>)</text>
<g clip-path="url(#md)">
<path d="M403.75 303.1l3 3l-3 3l-3 -3z M404.49 299.8l3 3l-3 3l-3 -3z M405.38 302l3 3l-3 3l-3 -3z M406.43 301l3 3l-3 3l-3 -3z M407.69 300.5l3 3l-3 3l-3 -3z M409.18 293.1l3 3l-3 3l-3 -3z M410.95 298.5l3 3l-3 3l-3 -3z M413.06 297.6l3 3l-3 3l-3 -3z M415.57 286.5l3 3l-3 3l-3 -3z M418.55 272.1l3 3l-3 3l-3 -3z M422.09 264.4l3 3l-3 3l-3 -3z M426.3 246.7l3 3l-3 3l-3 -3z M431.31 231.3l3 3l-3 3l-3 -3z M437.27 215.8l3 3l-3 3l-3 -3z M444.35 216.4l3 3l-3 3l-3 -3z M452.77 206.9l3 3l-3 3l-3 -3z M462.78 216.4l3 3l-3 3l-3 -3z M474.68 234.1l3 3l-3 3l-3 -3z M488.84 261.5l3 3l-3 3l-3 -3z M505.66 283.3l3 3l-3 3l-3 -3z M525.67 299.5l3 3l-3 3l-3 -3z M549.46 304.6l3 3l-3 3l-3 -3z M577.75 305.5l3 3l-3 3l-3 -3z M611.38 305.7l3 3l-3 3l-3 -3z" fill="none" stroke="#555" stroke-width="0.85"/>
</g><g clip-path="url(#nd)">
<path d="M400.02 309.49 L401.14 309.31 L402.26 308.87 L403.38 308.17 L404.5 307.22 L405.63 306.03 L406.75 304.59 L407.87 302.92 L408.99 301.03 L410.11 298.93 L411.23 296.64 L412.35 294.15 L413.47 291.5 L414.59 288.7 L415.71 285.75 L416.83 282.69 L417.95 279.52 L419.07 276.26 L420.19 272.93 L421.31 269.55 L422.43 266.14 L423.55 262.71 L424.67 259.28 L425.79 255.88 L426.91 252.5 L428.03 249.18 L429.15 245.93 L430.27 242.75 L431.39 239.68 L432.52 236.71 L433.64 233.86 L434.76 231.15 L435.88 228.58 L437 226.16 L438.12 223.91 L439.24 221.81 L440.36 219.9 L441.48 218.16 L442.6 216.6 L443.72 215.23 L444.84 214.04 L445.96 213.04 L447.08 212.22 L448.2 211.59 L449.32 211.15 L450.44 210.88 L451.56 210.79 L452.68 210.87 L453.8 211.12 L454.92 211.53 L456.04 212.1 L457.16 212.81 L458.28 213.66 L459.4 214.65 L460.53 215.77 L461.65 217 L462.77 218.35 L463.89 219.79 L465.01 221.33 L466.13 222.96 L467.25 224.66 L468.37 226.44 L469.49 228.27 L470.61 230.16 L471.73 232.1 L472.85 234.07 L473.97 236.08 L475.09 238.11 L476.21 240.16 L477.33 242.22 L478.45 244.29 L479.57 246.36 L480.69 248.42 L481.81 250.48 L482.93 252.51 L484.05 254.53 L485.17 256.53 L486.29 258.5 L487.41 260.44 L488.54 262.34 L489.66 264.21 L490.78 266.04 L491.9 267.84 L493.02 269.59 L494.14 271.29 L495.26 272.95 L496.38 274.57 L497.5 276.14 L498.62 277.66 L499.74 279.13 L500.86 280.56 L501.98 281.93 L503.1 283.26 L504.22 284.54 L505.34 285.78 L506.46 286.96 L507.58 288.1 L508.7 289.2 L509.82 290.25 L510.94 291.26 L512.06 292.22 L513.18 293.14 L514.3 294.02 L515.42 294.86 L516.55 295.67 L517.67 296.43 L518.79 297.16 L519.91 297.86 L521.03 298.52 L522.15 299.14 L523.27 299.74 L524.39 300.31 L525.51 300.84 L526.63 301.35 L527.75 301.84 L528.87 302.29 L529.99 302.73 L531.11 303.13 L532.23 303.52 L533.35 303.89 L534.47 304.23 L535.59 304.56 L536.71 304.86 L537.83 305.15 L538.95 305.42 L540.07 305.68 L541.19 305.92 L542.31 306.15 L543.44 306.36 L544.56 306.57 L545.68 306.75 L546.8 306.93 L547.92 307.1 L549.04 307.25 L550.16 307.4 L551.28 307.54 L552.4 307.67 L553.52 307.79 L554.64 307.9 L555.76 308.01 L556.88 308.11 L558 308.2 L559.12 308.29 L560.24 308.37 L561.36 308.45 L562.48 308.52 L563.6 308.58 L564.72 308.65 L565.84 308.7 L566.96 308.76 L568.08 308.81 L569.2 308.86 L570.32 308.9 L571.45 308.94 L572.57 308.98 L573.69 309.02 L574.81 309.05 L575.93 309.08 L577.05 309.11 L578.17 309.14 L579.29 309.16 L580.41 309.19 L581.53 309.21 L582.65 309.23 L583.77 309.25 L584.89 309.27 L586.01 309.28 L587.13 309.3 L588.25 309.31 L589.37 309.32 L590.49 309.34 L591.61 309.35 L592.73 309.36 L593.85 309.37 L594.97 309.38 L596.09 309.39 L597.21 309.39 L598.33 309.4 L599.46 309.41 L600.58 309.42 L601.7 309.42 L602.82 309.43 L603.94 309.43 L605.06 309.44 L606.18 309.44 L607.3 309.45 L608.42 309.45 L609.54 309.45 L610.66 309.46 L611.78 309.46 L612.9 309.46 L614.02 309.47 L615.14 309.47 L616.26 309.47 L617.38 309.47 L618.5 309.47 L619.62 309.48 L620.74 309.48 L621.86 309.48 L622.98 309.48 L624.1 309.48 L625.22 309.48 L626.35 309.48 L627.47 309.49 L628.59 309.49 L629.71 309.49 L630.83 309.49 L631.95 309.49 L633.07 309.49 L634.19 309.49 L635.31 309.49 L636.43 309.49 L637.55 309.49 L638.67 309.49 L639.79 309.49 L640.91 309.49 L642.03 309.49 L643.15 309.49 L644.27 309.5 L645.39 309.5 L646.51 309.5 L647.63 309.5 L648.75 309.5 L649.87 309.5 L650.99 309.5 L652.11 309.5 L653.23 309.5 L654.36 309.5 L655.48 309.5 L656.6 309.5 L657.72 309.5 L658.84 309.5 L659.96 309.5 L661.08 309.5 L662.2 309.5 L663.32 309.5 L664.44 309.5 L665.56 309.5 L666.68 309.5 L667.8 309.5" fill="none" stroke="#f25a5a" stroke-width="1.1" stroke-linejoin="round"/>
</g><g clip-path="url(#nd)">
<path d="M400.02 309.5 L401.14 309.32 L402.26 308.9 L403.38 308.23 L404.5 307.32 L405.63 306.17 L406.75 304.8 L407.87 303.2 L408.99 301.39 L410.11 299.38 L411.23 297.17 L412.35 294.79 L413.47 292.24 L414.59 289.54 L415.71 286.71 L416.83 283.75 L417.95 280.69 L419.07 277.55 L420.19 274.33 L421.31 271.05 L422.43 267.74 L423.55 264.41 L424.67 261.07 L425.79 257.74 L426.91 254.44 L428.03 251.18 L429.15 247.98 L430.27 244.85 L431.39 241.81 L432.52 238.86 L433.64 236.02 L434.76 233.31 L435.88 230.72 L437 228.28 L438.12 225.98 L439.24 223.84 L440.36 221.86 L441.48 220.05 L442.6 218.41 L443.72 216.94 L444.84 215.65 L445.96 214.53 L447.08 213.59 L448.2 212.83 L449.32 212.25 L450.44 211.84 L451.56 211.6 L452.68 211.53 L453.8 211.63 L454.92 211.88 L456.04 212.28 L457.16 212.84 L458.28 213.53 L459.4 214.36 L460.53 215.32 L461.65 216.4 L462.77 217.59 L463.89 218.9 L465.01 220.3 L466.13 221.79 L467.25 223.37 L468.37 225.02 L469.49 226.74 L470.61 228.53 L471.73 230.36 L472.85 232.25 L473.97 234.18 L475.09 236.14 L476.21 238.12 L477.33 240.13 L478.45 242.16 L479.57 244.19 L480.69 246.23 L481.81 248.26 L482.93 250.29 L484.05 252.31 L485.17 254.31 L486.29 256.3 L487.41 258.26 L488.54 260.2 L489.66 262.1 L490.78 263.98 L491.9 265.82 L493.02 267.62 L494.14 269.39 L495.26 271.11 L496.38 272.79 L497.5 274.43 L498.62 276.02 L499.74 277.57 L500.86 279.07 L501.98 280.53 L503.1 281.94 L504.22 283.3 L505.34 284.61 L506.46 285.88 L507.58 287.1 L508.7 288.28 L509.82 289.41 L510.94 290.49 L512.06 291.53 L513.18 292.53 L514.3 293.48 L515.42 294.39 L516.55 295.26 L517.67 296.09 L518.79 296.89 L519.91 297.64 L521.03 298.36 L522.15 299.04 L523.27 299.69 L524.39 300.3 L525.51 300.88 L526.63 301.43 L527.75 301.95 L528.87 302.45 L529.99 302.91 L531.11 303.35 L532.23 303.77 L533.35 304.16 L534.47 304.52 L535.59 304.87 L536.71 305.19 L537.83 305.5 L538.95 305.78 L540.07 306.05 L541.19 306.3 L542.31 306.54 L543.44 306.76 L544.56 306.96 L545.68 307.15 L546.8 307.33 L547.92 307.5 L549.04 307.65 L550.16 307.8 L551.28 307.93 L552.4 308.05 L553.52 308.17 L554.64 308.28 L555.76 308.38 L556.88 308.47 L558 308.55 L559.12 308.63 L560.24 308.7 L561.36 308.77 L562.48 308.83 L563.6 308.89 L564.72 308.94 L565.84 308.99 L566.96 309.04 L568.08 309.08 L569.2 309.11 L570.32 309.15 L571.45 309.18 L572.57 309.21 L573.69 309.24 L574.81 309.26 L575.93 309.28 L577.05 309.3 L578.17 309.32 L579.29 309.34 L580.41 309.35 L581.53 309.37 L582.65 309.38 L583.77 309.39 L584.89 309.4 L586.01 309.41 L587.13 309.42 L588.25 309.43 L589.37 309.44 L590.49 309.44 L591.61 309.45 L592.73 309.45 L593.85 309.46 L594.97 309.46 L596.09 309.47 L597.21 309.47 L598.33 309.47 L599.46 309.48 L600.58 309.48 L601.7 309.48 L602.82 309.48 L603.94 309.48 L605.06 309.49 L606.18 309.49 L607.3 309.49 L608.42 309.49 L609.54 309.49 L610.66 309.49 L611.78 309.49 L612.9 309.49 L614.02 309.49 L615.14 309.5 L616.26 309.5 L617.38 309.5 L618.5 309.5 L619.62 309.5 L620.74 309.5 L621.86 309.5 L622.98 309.5 L624.1 309.5 L625.22 309.5 L626.35 309.5 L627.47 309.5 L628.59 309.5 L629.71 309.5 L630.83 309.5 L631.95 309.5 L633.07 309.5 L634.19 309.5 L635.31 309.5 L636.43 309.5 L637.55 309.5 L638.67 309.5 L639.79 309.5 L640.91 309.5 L642.03 309.5 L643.15 309.5 L644.27 309.5 L645.39 309.5 L646.51 309.5 L647.63 309.5 L648.75 309.5 L649.87 309.5 L650.99 309.5 L652.11 309.5 L653.23 309.5 L654.36 309.5 L655.48 309.5 L656.6 309.5 L657.72 309.5 L658.84 309.5 L659.96 309.5 L661.08 309.5 L662.2 309.5 L663.32 309.5 L664.44 309.5 L665.56 309.5 L666.68 309.5 L667.8 309.5" fill="none" stroke="#383838" stroke-width="0.9" stroke-linejoin="round"/>
</g><g clip-path="url(#md)">
<path d="M400.02 309.5 L401.14 309.35 L402.26 308.98 L403.38 308.41 L404.5 307.62 L405.63 306.63 L406.75 305.44 L407.87 304.06 L408.99 302.48 L410.11 300.73 L411.23 298.8 L412.35 296.71 L413.47 294.47 L414.59 292.08 L415.71 289.56 L416.83 286.92 L417.95 284.18 L419.07 281.34 L420.19 278.41 L421.31 275.42 L422.43 272.37 L423.55 269.28 L424.67 266.16 L425.79 263.03 L426.91 259.9 L428.03 256.77 L429.15 253.67 L430.27 250.61 L431.39 247.6 L432.52 244.65 L433.64 241.78 L434.76 238.99 L435.88 236.29 L437 233.7 L438.12 231.22 L439.24 228.86 L440.36 226.64 L441.48 224.55 L442.6 222.6 L443.72 220.81 L444.84 219.16 L445.96 217.68 L447.08 216.35 L448.2 215.19 L449.32 214.19 L450.44 213.36 L451.56 212.7 L452.68 212.19 L453.8 211.86 L454.92 211.68 L456.04 211.67 L457.16 211.81 L458.28 212.1 L459.4 212.55 L460.53 213.13 L461.65 213.86 L462.77 214.72 L463.89 215.71 L465.01 216.81 L466.13 218.04 L467.25 219.37 L468.37 220.8 L469.49 222.32 L470.61 223.94 L471.73 225.63 L472.85 227.4 L473.97 229.23 L475.09 231.12 L476.21 233.06 L477.33 235.04 L478.45 237.06 L479.57 239.12 L480.69 241.19 L481.81 243.29 L482.93 245.39 L484.05 247.5 L485.17 249.61 L486.29 251.72 L487.41 253.81 L488.54 255.89 L489.66 257.95 L490.78 259.99 L491.9 262 L493.02 263.98 L494.14 265.92 L495.26 267.83 L496.38 269.69 L497.5 271.51 L498.62 273.29 L499.74 275.02 L500.86 276.71 L501.98 278.34 L503.1 279.92 L504.22 281.46 L505.34 282.94 L506.46 284.37 L507.58 285.74 L508.7 287.06 L509.82 288.34 L510.94 289.56 L512.06 290.72 L513.18 291.84 L514.3 292.91 L515.42 293.93 L516.55 294.9 L517.67 295.82 L518.79 296.7 L519.91 297.53 L521.03 298.32 L522.15 299.07 L523.27 299.78 L524.39 300.45 L525.51 301.08 L526.63 301.67 L527.75 302.23 L528.87 302.76 L529.99 303.25 L531.11 303.71 L532.23 304.15 L533.35 304.55 L534.47 304.93 L535.59 305.29 L536.71 305.62 L537.83 305.93 L538.95 306.21 L540.07 306.48 L541.19 306.73 L542.31 306.96 L543.44 307.17 L544.56 307.37 L545.68 307.55 L546.8 307.72 L547.92 307.87 L549.04 308.01 L550.16 308.15 L551.28 308.27 L552.4 308.38 L553.52 308.48 L554.64 308.58 L555.76 308.66 L556.88 308.74 L558 308.81 L559.12 308.88 L560.24 308.94 L561.36 308.99 L562.48 309.04 L563.6 309.09 L564.72 309.13 L565.84 309.16 L566.96 309.2 L568.08 309.23 L569.2 309.26 L570.32 309.28 L571.45 309.31 L572.57 309.33 L573.69 309.34 L574.81 309.36 L575.93 309.38 L577.05 309.39 L578.17 309.4 L579.29 309.41 L580.41 309.42 L581.53 309.43 L582.65 309.44 L583.77 309.45 L584.89 309.45 L586.01 309.46 L587.13 309.46 L588.25 309.47 L589.37 309.47 L590.49 309.47 L591.61 309.48 L592.73 309.48 L593.85 309.48 L594.97 309.48 L596.09 309.49 L597.21 309.49 L598.33 309.49 L599.46 309.49 L600.58 309.49 L601.7 309.49 L602.82 309.49 L603.94 309.49 L605.06 309.5 L606.18 309.5 L607.3 309.5 L608.42 309.5 L609.54 309.5 L610.66 309.5 L611.78 309.5 L612.9 309.5 L614.02 309.5 L615.14 309.5 L616.26 309.5 L617.38 309.5 L618.5 309.5 L619.62 309.5 L620.74 309.5 L621.86 309.5 L622.98 309.5 L624.1 309.5 L625.22 309.5 L626.35 309.5 L627.47 309.5 L628.59 309.5 L629.71 309.5 L630.83 309.5 L631.95 309.5 L633.07 309.5 L634.19 309.5 L635.31 309.5 L636.43 309.5 L637.55 309.5 L638.67 309.5 L639.79 309.5 L640.91 309.5 L642.03 309.5 L643.15 309.5 L644.27 309.5 L645.39 309.5 L646.51 309.5 L647.63 309.5 L648.75 309.5 L649.87 309.5 L650.99 309.5 L652.11 309.5 L653.23 309.5 L654.36 309.5 L655.48 309.5 L656.6 309.5 L657.72 309.5 L658.84 309.5 L659.96 309.5 L661.08 309.5 L662.2 309.5 L663.32 309.5 L664.44 309.5 L665.56 309.5 L666.68 309.5 L667.8 309.5" fill="none" stroke="#000" stroke-width="1.5" stroke-linejoin="round" stroke-dasharray="7.4 8.1" stroke-dashoffset="3.35"/>
</g>
<rect x="540.4" y="170.2" width="116.8" height="62.2" fill="#fff" stroke="#a3a3a3" stroke-width="1.2"/>
<path d="M540.4 185.75 h2.7 M657.2 185.75 h-2.7 M540.4 201.3 h5 M657.2 201.3 h-5 M540.4 216.85 h2.7 M657.2 216.85 h-2.7 M579.33 232.4 v-3 M579.33 170.2 v3 M618.27 232.4 v-3 M618.27 170.2 v3" stroke="#8a8a8a" stroke-width="1" fill="none"/>
<g clip-path="url(#id)">
<path d="M597.73 201.9l2.8 2.8l-2.8 2.8l-2.8 -2.8z M600.66 196.43l2.8 2.8l-2.8 2.8l-2.8 -2.8z M603.59 192.77l2.8 2.8l-2.8 2.8l-2.8 -2.8z M606.51 191.4l2.8 2.8l-2.8 2.8l-2.8 -2.8z M609.44 189.03l2.8 2.8l-2.8 2.8l-2.8 -2.8z M612.37 187.49l2.8 2.8l-2.8 2.8l-2.8 -2.8z M615.3 186.22l2.8 2.8l-2.8 2.8l-2.8 -2.8z M618.22 186.26l2.8 2.8l-2.8 2.8l-2.8 -2.8z M621.15 185.59l2.8 2.8l-2.8 2.8l-2.8 -2.8z M624.08 186.26l2.8 2.8l-2.8 2.8l-2.8 -2.8z M627 187.74l2.8 2.8l-2.8 2.8l-2.8 -2.8z M629.93 190.95l2.8 2.8l-2.8 2.8l-2.8 -2.8z M632.86 195.43l2.8 2.8l-2.8 2.8l-2.8 -2.8z M635.78 203.52l2.8 2.8l-2.8 2.8l-2.8 -2.8z M638.71 211.2l2.8 2.8l-2.8 2.8l-2.8 -2.8z M641.64 225.8l2.8 2.8l-2.8 2.8l-2.8 -2.8z M588.95 205.69l2.8 2.8l-2.8 2.8l-2.8 -2.8z M591.88 203.28l2.8 2.8l-2.8 2.8l-2.8 -2.8z M594.81 200.74l2.8 2.8l-2.8 2.8l-2.8 -2.8z M572.4 209.1l2.8 2.8l-2.8 2.8l-2.8 -2.8z M578.2 203.7l2.8 2.8l-2.8 2.8l-2.8 -2.8z M581.8 212.1l2.8 2.8l-2.8 2.8l-2.8 -2.8z M584.4 214.4l2.8 2.8l-2.8 2.8l-2.8 -2.8z M586.6 203.7l2.8 2.8l-2.8 2.8l-2.8 -2.8z M592.4 199.6l2.8 2.8l-2.8 2.8l-2.8 -2.8z M596 203.7l2.8 2.8l-2.8 2.8l-2.8 -2.8z M598.7 200.5l2.8 2.8l-2.8 2.8l-2.8 -2.8z" fill="none" stroke="#2e2e2e" stroke-width="0.8"/>
<path d="M540.4 246.96 L541.13 246.37 L541.87 245.78 L542.6 245.2 L543.34 244.61 L544.07 244.02 L544.81 243.44 L545.54 242.85 L546.28 242.26 L547.01 241.68 L547.75 241.09 L548.48 240.5 L549.22 239.92 L549.95 239.33 L550.68 238.74 L551.42 238.16 L552.15 237.57 L552.89 236.98 L553.62 236.4 L554.36 235.81 L555.09 235.22 L555.83 234.64 L556.56 234.05 L557.3 233.46 L558.03 232.88 L558.76 232.29 L559.5 231.71 L560.23 231.12 L560.97 230.53 L561.7 229.95 L562.44 229.36 L563.17 228.77 L563.91 228.19 L564.64 227.6 L565.38 227.02 L566.11 226.43 L566.85 225.84 L567.58 225.26 L568.31 224.67 L569.05 224.09 L569.78 223.5 L570.52 222.91 L571.25 222.33 L571.99 221.74 L572.72 221.16 L573.46 220.57 L574.19 219.99 L574.93 219.4 L575.66 218.82 L576.39 218.24 L577.13 217.65 L577.86 217.07 L578.6 216.48 L579.33 215.9 L580.07 215.32 L580.8 214.74 L581.54 214.15 L582.27 213.57 L583.01 212.99 L583.74 212.41 L584.48 211.83 L585.21 211.25 L585.94 210.67 L586.68 210.09 L587.41 209.52 L588.15 208.94 L588.88 208.36 L589.62 207.79 L590.35 207.22 L591.09 206.64 L591.82 206.07 L592.56 205.5 L593.29 204.93 L594.03 204.37 L594.76 203.8 L595.49 203.24 L596.23 202.68 L596.96 202.12 L597.7 201.57 L598.43 201.02 L599.17 200.47 L599.9 199.92 L600.64 199.38 L601.37 198.84 L602.11 198.31 L602.84 197.78 L603.57 197.26 L604.31 196.74 L605.04 196.23 L605.78 195.72 L606.51 195.22 L607.25 194.74 L607.98 194.26 L608.72 193.79 L609.45 193.33 L610.19 192.88 L610.92 192.44 L611.66 192.02 L612.39 191.61 L613.12 191.22 L613.86 190.85 L614.59 190.5 L615.33 190.16 L616.06 189.85 L616.8 189.57 L617.53 189.31 L618.27 189.09 L619 188.89 L619.74 188.74 L620.47 188.62 L621.21 188.54 L621.94 188.51 L622.67 188.53 L623.41 188.6 L624.14 188.74 L624.88 188.94 L625.61 189.21 L626.35 189.56 L627.08 190 L627.82 190.53 L628.55 191.15 L629.29 191.89 L630.02 192.75 L630.75 193.75 L631.49 194.88 L632.22 196.17 L632.96 197.63 L633.69 199.28 L634.43 201.13 L635.16 203.2 L635.9 205.51 L636.63 208.09 L637.37 210.95 L638.1 214.13 L638.84 217.64 L639.57 221.53 L640.3 225.83 L641.04 230.57 L641.77 235.79 L642.51 241.54 L643.24 247.87 L643.98 254.82 L644.71 262.4" fill="none" stroke="#000" stroke-width="1.2" stroke-linejoin="round" stroke-dasharray="5.5 7.5"/>
<path d="M540.4 245.64 L541.13 245.06 L541.87 244.47 L542.6 243.88 L543.34 243.3 L544.07 242.71 L544.81 242.12 L545.54 241.54 L546.28 240.95 L547.01 240.36 L547.75 239.78 L548.48 239.19 L549.22 238.6 L549.95 238.02 L550.68 237.43 L551.42 236.84 L552.15 236.26 L552.89 235.67 L553.62 235.08 L554.36 234.5 L555.09 233.91 L555.83 233.33 L556.56 232.74 L557.3 232.15 L558.03 231.57 L558.76 230.98 L559.5 230.39 L560.23 229.81 L560.97 229.22 L561.7 228.63 L562.44 228.05 L563.17 227.46 L563.91 226.88 L564.64 226.29 L565.38 225.7 L566.11 225.12 L566.85 224.53 L567.58 223.95 L568.31 223.36 L569.05 222.78 L569.78 222.19 L570.52 221.6 L571.25 221.02 L571.99 220.43 L572.72 219.85 L573.46 219.27 L574.19 218.68 L574.93 218.1 L575.66 217.51 L576.39 216.93 L577.13 216.35 L577.86 215.76 L578.6 215.18 L579.33 214.6 L580.07 214.02 L580.8 213.44 L581.54 212.85 L582.27 212.27 L583.01 211.69 L583.74 211.11 L584.48 210.54 L585.21 209.96 L585.94 209.38 L586.68 208.81 L587.41 208.23 L588.15 207.66 L588.88 207.08 L589.62 206.51 L590.35 205.94 L591.09 205.37 L591.82 204.81 L592.56 204.24 L593.29 203.68 L594.03 203.12 L594.76 202.56 L595.49 202 L596.23 201.45 L596.96 200.9 L597.7 200.35 L598.43 199.8 L599.17 199.26 L599.9 198.73 L600.64 198.2 L601.37 197.67 L602.11 197.15 L602.84 196.63 L603.57 196.13 L604.31 195.62 L605.04 195.13 L605.78 194.65 L606.51 194.17 L607.25 193.7 L607.98 193.25 L608.72 192.8 L609.45 192.37 L610.19 191.95 L610.92 191.55 L611.66 191.17 L612.39 190.8 L613.12 190.45 L613.86 190.12 L614.59 189.82 L615.33 189.53 L616.06 189.28 L616.8 189.06 L617.53 188.86 L618.27 188.7 L619 188.58 L619.74 188.49 L620.47 188.45 L621.21 188.46 L621.94 188.51 L622.67 188.62 L623.41 188.78 L624.14 189.01 L624.88 189.3 L625.61 189.67 L626.35 190.11 L627.08 190.63 L627.82 191.23 L628.55 191.93 L629.29 192.73 L630.02 193.63 L630.75 194.63 L631.49 195.76 L632.22 197 L632.96 198.37 L633.69 199.88 L634.43 201.52 L635.16 203.31 L635.9 205.25 L636.63 207.35 L637.37 209.61 L638.1 212.03 L638.84 214.62 L639.57 217.39 L640.3 220.33 L641.04 223.45 L641.77 226.75 L642.51 230.23 L643.24 233.89 L643.98 237.74 L644.71 241.77 L645.45 245.97 L646.18 250.36 L646.92 254.91 L647.65 259.64 L648.38 262.4" fill="none" stroke="#e02a2a" stroke-width="1" stroke-linejoin="round"/>
<path d="M540.4 245.95 L541.13 245.36 L541.87 244.77 L542.6 244.18 L543.34 243.6 L544.07 243.01 L544.81 242.42 L545.54 241.84 L546.28 241.25 L547.01 240.66 L547.75 240.08 L548.48 239.49 L549.22 238.9 L549.95 238.32 L550.68 237.73 L551.42 237.14 L552.15 236.56 L552.89 235.97 L553.62 235.38 L554.36 234.8 L555.09 234.21 L555.83 233.63 L556.56 233.04 L557.3 232.45 L558.03 231.87 L558.76 231.28 L559.5 230.69 L560.23 230.11 L560.97 229.52 L561.7 228.93 L562.44 228.35 L563.17 227.76 L563.91 227.18 L564.64 226.59 L565.38 226 L566.11 225.42 L566.85 224.83 L567.58 224.25 L568.31 223.66 L569.05 223.08 L569.78 222.49 L570.52 221.9 L571.25 221.32 L571.99 220.73 L572.72 220.15 L573.46 219.56 L574.19 218.98 L574.93 218.4 L575.66 217.81 L576.39 217.23 L577.13 216.65 L577.86 216.06 L578.6 215.48 L579.33 214.9 L580.07 214.31 L580.8 213.73 L581.54 213.15 L582.27 212.57 L583.01 211.99 L583.74 211.41 L584.48 210.83 L585.21 210.25 L585.94 209.68 L586.68 209.1 L587.41 208.53 L588.15 207.95 L588.88 207.38 L589.62 206.81 L590.35 206.23 L591.09 205.67 L591.82 205.1 L592.56 204.53 L593.29 203.97 L594.03 203.41 L594.76 202.85 L595.49 202.29 L596.23 201.73 L596.96 201.18 L597.7 200.63 L598.43 200.09 L599.17 199.54 L599.9 199.01 L600.64 198.47 L601.37 197.95 L602.11 197.42 L602.84 196.91 L603.57 196.39 L604.31 195.89 L605.04 195.39 L605.78 194.9 L606.51 194.42 L607.25 193.95 L607.98 193.49 L608.72 193.04 L609.45 192.61 L610.19 192.18 L610.92 191.78 L611.66 191.38 L612.39 191.01 L613.12 190.65 L613.86 190.31 L614.59 190 L615.33 189.71 L616.06 189.44 L616.8 189.2 L617.53 188.99 L618.27 188.82 L619 188.68 L619.74 188.58 L620.47 188.52 L621.21 188.5 L621.94 188.53 L622.67 188.62 L623.41 188.75 L624.14 188.95 L624.88 189.22 L625.61 189.55 L626.35 189.96 L627.08 190.44 L627.82 191.02 L628.55 191.68 L629.29 192.45 L630.02 193.32 L630.75 194.31 L631.49 195.42 L632.22 196.67 L632.96 198.06 L633.69 199.6 L634.43 201.32 L635.16 203.22 L635.9 205.31 L636.63 207.63 L637.37 210.18 L638.1 212.98 L638.84 216.06 L639.57 219.44 L640.3 223.15 L641.04 227.21 L641.77 231.67 L642.51 236.54 L643.24 241.87 L643.98 247.7 L644.71 254.07 L645.45 261.03 L646.18 262.4" fill="none" stroke="#222" stroke-width="0.9" stroke-linejoin="round"/>
</g>
<text x="519.17" y="177.98" font-family='"Liberation Serif", serif' font-size="11.56" fill="#4e4e4e" textLength="13.26" lengthAdjust="spacingAndGlyphs">10</text>
<text x="532.74" y="172.82" font-family='"Liberation Serif", serif' font-size="7.7" fill="#4e4e4e" textLength="4.52" lengthAdjust="spacingAndGlyphs">0</text>
<text x="513.66" y="206.08" font-family='"Liberation Serif", serif' font-size="11.56" fill="#4e4e4e" textLength="13.37" lengthAdjust="spacingAndGlyphs">10</text>
<text x="527.34" y="201" font-family='"Liberation Serif", serif' font-size="7.27" fill="#4e4e4e" textLength="9.75" lengthAdjust="spacingAndGlyphs">−2</text>
<text x="513.66" y="232.98" font-family='"Liberation Serif", serif' font-size="11.56" fill="#4e4e4e" textLength="13.37" lengthAdjust="spacingAndGlyphs">10</text>
<text x="527.36" y="227.9" font-family='"Liberation Serif", serif' font-size="7.27" fill="#4e4e4e" textLength="9.36" lengthAdjust="spacingAndGlyphs">−4</text>
<text x="528.99" y="249.18" font-family='"Liberation Serif", serif' font-size="11.7" fill="#4e4e4e" textLength="13.03" lengthAdjust="spacingAndGlyphs">10</text>
<text x="542.12" y="244.7" font-family='"Liberation Serif", serif' font-size="7.88" fill="#4e4e4e" textLength="10.14" lengthAdjust="spacingAndGlyphs">−1</text>
<text x="570.43" y="249.18" font-family='"Liberation Serif", serif' font-size="11.7" fill="#4e4e4e" textLength="14.17" lengthAdjust="spacingAndGlyphs">10</text>
<text x="584.2" y="245.11" font-family='"Liberation Serif", serif' font-size="8.74" fill="#4e4e4e" textLength="5.48" lengthAdjust="spacingAndGlyphs">0</text>
<text x="609.36" y="249.18" font-family='"Liberation Serif", serif' font-size="11.7" fill="#4e4e4e" textLength="14.17" lengthAdjust="spacingAndGlyphs">10</text>
<text x="622.64" y="245.2" font-family='"Liberation Serif", serif' font-size="8.74" fill="#4e4e4e" textLength="5.48" lengthAdjust="spacingAndGlyphs">1</text>
<text x="648.3" y="249.18" font-family='"Liberation Serif", serif' font-size="11.7" fill="#4e4e4e" textLength="14.17" lengthAdjust="spacingAndGlyphs">10</text>
<text x="662.01" y="245.2" font-family='"Liberation Serif", serif' font-size="8.74" fill="#4e4e4e" textLength="5.48" lengthAdjust="spacingAndGlyphs">2</text>
<text x="406.92" y="181.19" font-family='"Liberation Serif", serif' font-size="22.86" fill="#222" textLength="6.53" lengthAdjust="spacingAndGlyphs">(</text>
<text x="415.03" y="180.71" font-family='"Liberation Serif", serif' font-size="19.43" fill="#222" textLength="10.99" lengthAdjust="spacingAndGlyphs">d</text>
<text x="428.53" y="181.19" font-family='"Liberation Serif", serif' font-size="22.86" fill="#222" textLength="6.28" lengthAdjust="spacingAndGlyphs">)</text>
<text x="433.54" y="186.1" font-family='"Liberation Serif", serif' font-size="13.96" fill="#303030" textLength="4.18" lengthAdjust="spacingAndGlyphs">(</text>
<text x="439.14" y="185.95" font-family='"Liberation Serif", serif' font-size="13.21" fill="#0a0a0a" textLength="7.38" lengthAdjust="spacingAndGlyphs"><tspan font-style="italic">T</tspan></text>
<text x="457.87" y="185.95" font-family='"Liberation Serif", serif' font-size="13.21" fill="#0a0a0a" textLength="7.99" lengthAdjust="spacingAndGlyphs"><tspan font-style="italic">T</tspan></text>
<text x="480.13" y="185.95" font-family='"Liberation Serif", serif' font-size="13.21" fill="#0a0a0a" textLength="7.48" lengthAdjust="spacingAndGlyphs"><tspan font-style="italic">T</tspan></text>
<text x="454.46" y="185.94" font-family='"Liberation Serif", serif' font-size="13.73" fill="#303030" textLength="2.76" lengthAdjust="spacingAndGlyphs">,</text>
<text x="476.09" y="186" font-family='"Liberation Serif", serif' font-size="13.33" fill="#303030" textLength="2.59" lengthAdjust="spacingAndGlyphs">,</text>
<text x="497.62" y="186.1" font-family='"Liberation Serif", serif' font-size="13.96" fill="#303030" textLength="4.23" lengthAdjust="spacingAndGlyphs">)</text>
<path d="M448.2 183.4 v5.5 M451.8 183.4 v5.5" stroke="#9a9a9a" stroke-width="0.9" fill="none"/>
<path d="M466.1 187.6 H471.7 M469 187.6 v-4 M488 187.6 H492.4 M490.3 187.6 v-4" stroke="#555" stroke-width="0.8" fill="none"/>
<text x="472.37" y="187.8" font-family='"Liberation Serif", serif' font-size="5.3" fill="#777" textLength="3.1" lengthAdjust="spacingAndGlyphs">1</text>
<text x="491.94" y="187.9" font-family='"Liberation Serif", serif' font-size="6.36" fill="#666" textLength="5.13" lengthAdjust="spacingAndGlyphs">2</text>
<text x="428.91" y="200.72" font-family='"Liberation Serif", serif' font-size="11.98" fill="#303030" textLength="71.88" lengthAdjust="spacingAndGlyphs">=(40,101,87)</text>
<text x="546.95" y="260.03" font-family='"Liberation Serif", serif' font-size="12.42" fill="#303030" textLength="75.25" lengthAdjust="spacingAndGlyphs">(<tspan font-style="italic">s</tspan>  ,<tspan font-style="italic">s</tspan>)=(−1,3)</text>
<text x="557.94" y="265.3" font-family='"Liberation Serif", serif' font-size="7.12" fill="#4a4a4a" textLength="4.01" lengthAdjust="spacingAndGlyphs">Λ</text>
<text x="547.21" y="276.9" font-family='"Liberation Serif", serif' font-size="10.76" fill="#303030" textLength="28.98" lengthAdjust="spacingAndGlyphs"><tspan font-style="italic">T</tspan>=74</text>
<text x="547.63" y="293.18" font-family='"Liberation Serif", serif' font-size="12.17" fill="#ff3c3c" textLength="109.51" lengthAdjust="spacingAndGlyphs">(<tspan font-style="italic" font-weight="bold">q</tspan>,<tspan font-style="italic">β</tspan>)=(1.07,0.016)</text>
<path d="M462.7 216.9 L466.8 203.9" fill="none" stroke="#000" stroke-width="1.8" stroke-linejoin="round"/>
<path d="M488.5 257.3 L542.8 275.6" fill="none" stroke="#000" stroke-width="2" stroke-linejoin="round" stroke-dasharray="7.4 8.4"/>
<path d="M494.4 271.5 L543.1 291.7" fill="none" stroke="#ff1414" stroke-width="2" stroke-linejoin="round"/>
<clipPath id="me"><rect x="55.8" y="324.4" width="268" height="148.7"/></clipPath>
<clipPath id="ne"><rect x="55.8" y="324.4" width="268" height="146.2"/></clipPath>
<clipPath id="ie"><rect x="196.4" y="332.3" width="116.8" height="62.2"/></clipPath>
<rect x="55.8" y="324.4" width="268" height="147.2" fill="none" stroke="#a3a3a3" stroke-width="1.3"/>
<path d="M55.8 442.16 h6.5 M323.8 442.16 h-6.5 M55.8 412.72 h6.5 M323.8 412.72 h-6.5 M55.8 383.28 h6.5 M323.8 383.28 h-6.5 M55.8 353.84 h6.5 M323.8 353.84 h-6.5 M109.4 471.6 v-3.5 M109.4 324.4 v3.5 M163 471.6 v-3.5 M163 324.4 v3.5 M216.6 471.6 v-3.5 M216.6 324.4 v3.5 M270.2 471.6 v-3.5 M270.2 324.4 v3.5" stroke="#8a8a8a" stroke-width="1" fill="none"/>
<text x="22.03" y="333.4" font-family='"Liberation Serif", serif' font-size="13.09" fill="#4e4e4e" textLength="29.45" lengthAdjust="spacingAndGlyphs">0.10</text>
<text x="22.03" y="359.11" font-family='"Liberation Serif", serif' font-size="12.94" fill="#4e4e4e" textLength="29.45" lengthAdjust="spacingAndGlyphs">0.08</text>
<text x="22.03" y="388.9" font-family='"Liberation Serif", serif' font-size="13.38" fill="#4e4e4e" textLength="29.27" lengthAdjust="spacingAndGlyphs">0.06</text>
<text x="22.04" y="418.6" font-family='"Liberation Serif", serif' font-size="13.09" fill="#4e4e4e" textLength="29.01" lengthAdjust="spacingAndGlyphs">0.04</text>
<text x="22.02" y="448.2" font-family='"Liberation Serif", serif' font-size="13.09" fill="#4e4e4e" textLength="29.71" lengthAdjust="spacingAndGlyphs">0.02</text>
<text x="22.03" y="471.81" font-family='"Liberation Serif", serif' font-size="12.94" fill="#4e4e4e" textLength="29.45" lengthAdjust="spacingAndGlyphs">0.00</text>
<text transform="translate(10.99 412.92) rotate(-90)" font-family='"Liberation Serif", serif' font-size="14.95" fill="#3a3a3a" textLength="29.24" lengthAdjust="spacingAndGlyphs"><tspan font-style="italic">F</tspan>(<tspan font-style="italic">υ</tspan>)</text>
<text x="51.36" y="491.16" font-family='"Liberation Serif", serif' font-size="14.22" fill="#4e4e4e" textLength="7.98" lengthAdjust="spacingAndGlyphs">0</text>
<text x="101.32" y="491.3" font-family='"Liberation Serif", serif' font-size="14.55" fill="#4e4e4e" textLength="16.28" lengthAdjust="spacingAndGlyphs">12</text>
<text x="153.43" y="491.3" font-family='"Liberation Serif", serif' font-size="14.55" fill="#4e4e4e" textLength="17.13" lengthAdjust="spacingAndGlyphs">24</text>
<text x="207.72" y="491.16" font-family='"Liberation Serif", serif' font-size="14.33" fill="#4e4e4e" textLength="17.41" lengthAdjust="spacingAndGlyphs">36</text>
<text x="261.66" y="491.16" font-family='"Liberation Serif", serif' font-size="14.22" fill="#4e4e4e" textLength="17.02" lengthAdjust="spacingAndGlyphs">48</text>
<text x="314.8" y="491.16" font-family='"Liberation Serif", serif' font-size="14.22" fill="#4e4e4e" textLength="17.39" lengthAdjust="spacingAndGlyphs">60</text>
<text x="184.82" y="507.64" font-family='"Liberation Serif", serif' font-size="15.83" fill="#4e4e4e" textLength="8.94" lengthAdjust="spacingAndGlyphs"><tspan font-style="italic">υ</tspan></text>
<g clip-path="url(#me)">
<path d="M59.75 463.4l3 3l-3 3l-3 -3z M60.49 462.5l3 3l-3 3l-3 -3z M61.38 461.8l3 3l-3 3l-3 -3z M62.43 460.5l3 3l-3 3l-3 -3z M63.69 458.9l3 3l-3 3l-3 -3z M65.18 459l3 3l-3 3l-3 -3z M66.95 457.3l3 3l-3 3l-3 -3z M69.06 455.2l3 3l-3 3l-3 -3z M71.57 437.4l3 3l-3 3l-3 -3z M74.55 429.6l3 3l-3 3l-3 -3z M78.09 424.8l3 3l-3 3l-3 -3z M82.3 420.7l3 3l-3 3l-3 -3z M87.31 401.9l3 3l-3 3l-3 -3z M93.27 386.9l3 3l-3 3l-3 -3z M100.35 387.9l3 3l-3 3l-3 -3z M108.77 380.9l3 3l-3 3l-3 -3z M118.78 388.2l3 3l-3 3l-3 -3z M130.68 400.6l3 3l-3 3l-3 -3z M144.84 417.2l3 3l-3 3l-3 -3z M161.66 438.6l3 3l-3 3l-3 -3z M181.67 454.1l3 3l-3 3l-3 -3z M205.46 463.5l3 3l-3 3l-3 -3z M233.75 467.6l3 3l-3 3l-3 -3z M267.38 467.8l3 3l-3 3l-3 -3z" fill="none" stroke="#555" stroke-width="0.85"/>
</g><g clip-path="url(#me)">
<path d="M56.02 471.59 L57.14 471.4 L58.26 470.93 L59.38 470.19 L60.5 469.18 L61.63 467.9 L62.75 466.38 L63.87 464.63 L64.99 462.64 L66.11 460.45 L67.23 458.06 L68.35 455.5 L69.47 452.77 L70.59 449.91 L71.71 446.92 L72.83 443.84 L73.95 440.67 L75.07 437.45 L76.19 434.19 L77.31 430.91 L78.43 427.64 L79.55 424.38 L80.67 421.16 L81.79 418 L82.91 414.91 L84.03 411.91 L85.15 409.01 L86.27 406.23 L87.39 403.57 L88.52 401.05 L89.64 398.68 L90.76 396.46 L91.88 394.39 L93 392.5 L94.12 390.77 L95.24 389.21 L96.36 387.83 L97.48 386.62 L98.6 385.58 L99.72 384.72 L100.84 384.02 L101.96 383.49 L103.08 383.12 L104.2 382.9 L105.32 382.84 L106.44 382.92 L107.56 383.14 L108.68 383.49 L109.8 383.97 L110.92 384.57 L112.04 385.28 L113.16 386.09 L114.28 387.01 L115.4 388.01 L116.53 389.09 L117.65 390.25 L118.77 391.48 L119.89 392.77 L121.01 394.12 L122.13 395.51 L123.25 396.95 L124.37 398.43 L125.49 399.93 L126.61 401.46 L127.73 403.01 L128.85 404.58 L129.97 406.16 L131.09 407.74 L132.21 409.33 L133.33 410.91 L134.45 412.5 L135.57 414.07 L136.69 415.63 L137.81 417.18 L138.93 418.72 L140.05 420.23 L141.17 421.73 L142.29 423.2 L143.41 424.66 L144.54 426.08 L145.66 427.48 L146.78 428.86 L147.9 430.2 L149.02 431.52 L150.14 432.81 L151.26 434.07 L152.38 435.3 L153.5 436.49 L154.62 437.66 L155.74 438.8 L156.86 439.91 L157.98 440.98 L159.1 442.03 L160.22 443.05 L161.34 444.04 L162.46 444.99 L163.58 445.92 L164.7 446.83 L165.82 447.7 L166.94 448.54 L168.06 449.36 L169.18 450.16 L170.3 450.92 L171.42 451.66 L172.55 452.38 L173.67 453.07 L174.79 453.74 L175.91 454.39 L177.03 455.02 L178.15 455.62 L179.27 456.2 L180.39 456.76 L181.51 457.3 L182.63 457.83 L183.75 458.33 L184.87 458.82 L185.99 459.29 L187.11 459.74 L188.23 460.17 L189.35 460.59 L190.47 461 L191.59 461.39 L192.71 461.76 L193.83 462.12 L194.95 462.47 L196.07 462.81 L197.19 463.13 L198.31 463.44 L199.44 463.74 L200.56 464.03 L201.68 464.3 L202.8 464.57 L203.92 464.83 L205.04 465.07 L206.16 465.31 L207.28 465.54 L208.4 465.76 L209.52 465.97 L210.64 466.18 L211.76 466.37 L212.88 466.56 L214 466.74 L215.12 466.92 L216.24 467.09 L217.36 467.25 L218.48 467.41 L219.6 467.56 L220.72 467.7 L221.84 467.84 L222.96 467.97 L224.08 468.1 L225.2 468.23 L226.32 468.35 L227.45 468.46 L228.57 468.57 L229.69 468.68 L230.81 468.78 L231.93 468.88 L233.05 468.98 L234.17 469.07 L235.29 469.16 L236.41 469.24 L237.53 469.32 L238.65 469.4 L239.77 469.48 L240.89 469.55 L242.01 469.62 L243.13 469.69 L244.25 469.75 L245.37 469.82 L246.49 469.88 L247.61 469.94 L248.73 469.99 L249.85 470.05 L250.97 470.1 L252.09 470.15 L253.21 470.2 L254.33 470.24 L255.46 470.29 L256.58 470.33 L257.7 470.37 L258.82 470.42 L259.94 470.45 L261.06 470.49 L262.18 470.53 L263.3 470.56 L264.42 470.6 L265.54 470.63 L266.66 470.66 L267.78 470.69 L268.9 470.72 L270.02 470.75 L271.14 470.78 L272.26 470.8 L273.38 470.83 L274.5 470.85 L275.62 470.88 L276.74 470.9 L277.86 470.92 L278.98 470.94 L280.1 470.96 L281.22 470.98 L282.35 471 L283.47 471.02 L284.59 471.04 L285.71 471.06 L286.83 471.07 L287.95 471.09 L289.07 471.11 L290.19 471.12 L291.31 471.13 L292.43 471.15 L293.55 471.16 L294.67 471.18 L295.79 471.19 L296.91 471.2 L298.03 471.21 L299.15 471.22 L300.27 471.24 L301.39 471.25 L302.51 471.26 L303.63 471.27 L304.75 471.28 L305.87 471.29 L306.99 471.3 L308.11 471.3 L309.23 471.31 L310.36 471.32 L311.48 471.33 L312.6 471.34 L313.72 471.35 L314.84 471.35 L315.96 471.36 L317.08 471.37 L318.2 471.37 L319.32 471.38 L320.44 471.39 L321.56 471.39 L322.68 471.4 L323.8 471.4" fill="none" stroke="#f25a5a" stroke-width="1.1" stroke-linejoin="round"/>
</g><g clip-path="url(#ne)">
<path d="M56.02 471.6 L57.14 471.44 L58.26 471.06 L59.38 470.45 L60.5 469.63 L61.63 468.59 L62.75 467.35 L63.87 465.9 L64.99 464.27 L66.11 462.45 L67.23 460.46 L68.35 458.31 L69.47 456.02 L70.59 453.59 L71.71 451.05 L72.83 448.39 L73.95 445.65 L75.07 442.83 L76.19 439.95 L77.31 437.02 L78.43 434.06 L79.55 431.08 L80.67 428.1 L81.79 425.14 L82.91 422.2 L84.03 419.29 L85.15 416.44 L86.27 413.66 L87.39 410.94 L88.52 408.32 L89.64 405.78 L90.76 403.35 L91.88 401.03 L93 398.83 L94.12 396.76 L95.24 394.81 L96.36 393 L97.48 391.32 L98.6 389.79 L99.72 388.4 L100.84 387.16 L101.96 386.06 L103.08 385.1 L104.2 384.29 L105.32 383.62 L106.44 383.09 L107.56 382.7 L108.68 382.44 L109.8 382.32 L110.92 382.33 L112.04 382.45 L113.16 382.7 L114.28 383.07 L115.4 383.54 L116.53 384.12 L117.65 384.8 L118.77 385.57 L119.89 386.43 L121.01 387.38 L122.13 388.41 L123.25 389.5 L124.37 390.67 L125.49 391.9 L126.61 393.19 L127.73 394.53 L128.85 395.92 L129.97 397.35 L131.09 398.82 L132.21 400.32 L133.33 401.85 L134.45 403.4 L135.57 404.98 L136.69 406.57 L137.81 408.18 L138.93 409.79 L140.05 411.41 L141.17 413.04 L142.29 414.66 L143.41 416.28 L144.54 417.89 L145.66 419.49 L146.78 421.08 L147.9 422.66 L149.02 424.22 L150.14 425.77 L151.26 427.29 L152.38 428.8 L153.5 430.28 L154.62 431.73 L155.74 433.16 L156.86 434.57 L157.98 435.94 L159.1 437.29 L160.22 438.61 L161.34 439.89 L162.46 441.15 L163.58 442.38 L164.7 443.57 L165.82 444.73 L166.94 445.86 L168.06 446.96 L169.18 448.03 L170.3 449.06 L171.42 450.06 L172.55 451.03 L173.67 451.97 L174.79 452.88 L175.91 453.75 L177.03 454.6 L178.15 455.41 L179.27 456.2 L180.39 456.95 L181.51 457.68 L182.63 458.38 L183.75 459.05 L184.87 459.69 L185.99 460.31 L187.11 460.9 L188.23 461.47 L189.35 462.01 L190.47 462.53 L191.59 463.02 L192.71 463.5 L193.83 463.95 L194.95 464.38 L196.07 464.79 L197.19 465.18 L198.31 465.55 L199.44 465.9 L200.56 466.24 L201.68 466.56 L202.8 466.86 L203.92 467.15 L205.04 467.42 L206.16 467.67 L207.28 467.92 L208.4 468.15 L209.52 468.37 L210.64 468.57 L211.76 468.77 L212.88 468.95 L214 469.12 L215.12 469.28 L216.24 469.44 L217.36 469.58 L218.48 469.72 L219.6 469.84 L220.72 469.96 L221.84 470.08 L222.96 470.18 L224.08 470.28 L225.2 470.37 L226.32 470.46 L227.45 470.54 L228.57 470.62 L229.69 470.69 L230.81 470.75 L231.93 470.82 L233.05 470.87 L234.17 470.93 L235.29 470.98 L236.41 471.02 L237.53 471.07 L238.65 471.11 L239.77 471.15 L240.89 471.18 L242.01 471.21 L243.13 471.24 L244.25 471.27 L245.37 471.3 L246.49 471.32 L247.61 471.34 L248.73 471.36 L249.85 471.38 L250.97 471.4 L252.09 471.42 L253.21 471.43 L254.33 471.45 L255.46 471.46 L256.58 471.47 L257.7 471.48 L258.82 471.49 L259.94 471.5 L261.06 471.51 L262.18 471.52 L263.3 471.52 L264.42 471.53 L265.54 471.54 L266.66 471.54 L267.78 471.55 L268.9 471.55 L270.02 471.56 L271.14 471.56 L272.26 471.56 L273.38 471.57 L274.5 471.57 L275.62 471.57 L276.74 471.58 L277.86 471.58 L278.98 471.58 L280.1 471.58 L281.22 471.58 L282.35 471.58 L283.47 471.59 L284.59 471.59 L285.71 471.59 L286.83 471.59 L287.95 471.59 L289.07 471.59 L290.19 471.59 L291.31 471.59 L292.43 471.59 L293.55 471.59 L294.67 471.6 L295.79 471.6 L296.91 471.6 L298.03 471.6 L299.15 471.6 L300.27 471.6 L301.39 471.6 L302.51 471.6 L303.63 471.6 L304.75 471.6 L305.87 471.6 L306.99 471.6 L308.11 471.6 L309.23 471.6 L310.36 471.6 L311.48 471.6 L312.6 471.6 L313.72 471.6 L314.84 471.6 L315.96 471.6 L317.08 471.6 L318.2 471.6 L319.32 471.6 L320.44 471.6 L321.56 471.6 L322.68 471.6 L323.8 471.6" fill="none" stroke="#383838" stroke-width="0.9" stroke-linejoin="round"/>
</g><g clip-path="url(#me)">
<path d="M56.02 471.6 L57.14 471.5 L58.26 471.26 L59.38 470.89 L60.5 470.38 L61.63 469.73 L62.75 468.95 L63.87 468.04 L64.99 467.01 L66.11 465.85 L67.23 464.58 L68.35 463.19 L69.47 461.69 L70.59 460.08 L71.71 458.38 L72.83 456.59 L73.95 454.71 L75.07 452.75 L76.19 450.72 L77.31 448.63 L78.43 446.47 L79.55 444.27 L80.67 442.02 L81.79 439.73 L82.91 437.42 L84.03 435.09 L85.15 432.74 L86.27 430.39 L87.39 428.04 L88.52 425.7 L89.64 423.38 L90.76 421.08 L91.88 418.81 L93 416.58 L94.12 414.39 L95.24 412.26 L96.36 410.18 L97.48 408.16 L98.6 406.21 L99.72 404.34 L100.84 402.54 L101.96 400.83 L103.08 399.2 L104.2 397.66 L105.32 396.22 L106.44 394.87 L107.56 393.63 L108.68 392.48 L109.8 391.44 L110.92 390.5 L112.04 389.67 L113.16 388.95 L114.28 388.34 L115.4 387.83 L116.53 387.43 L117.65 387.14 L118.77 386.95 L119.89 386.87 L121.01 386.89 L122.13 387.01 L123.25 387.23 L124.37 387.55 L125.49 387.96 L126.61 388.46 L127.73 389.06 L128.85 389.73 L129.97 390.49 L131.09 391.33 L132.21 392.24 L133.33 393.22 L134.45 394.27 L135.57 395.38 L136.69 396.55 L137.81 397.78 L138.93 399.06 L140.05 400.38 L141.17 401.75 L142.29 403.15 L143.41 404.59 L144.54 406.06 L145.66 407.56 L146.78 409.08 L147.9 410.62 L149.02 412.18 L150.14 413.75 L151.26 415.32 L152.38 416.9 L153.5 418.49 L154.62 420.07 L155.74 421.65 L156.86 423.22 L157.98 424.78 L159.1 426.33 L160.22 427.87 L161.34 429.39 L162.46 430.89 L163.58 432.37 L164.7 433.82 L165.82 435.25 L166.94 436.66 L168.06 438.04 L169.18 439.39 L170.3 440.71 L171.42 442 L172.55 443.26 L173.67 444.48 L174.79 445.68 L175.91 446.84 L177.03 447.97 L178.15 449.06 L179.27 450.12 L180.39 451.14 L181.51 452.13 L182.63 453.09 L183.75 454.02 L184.87 454.91 L185.99 455.76 L187.11 456.59 L188.23 457.38 L189.35 458.14 L190.47 458.87 L191.59 459.57 L192.71 460.24 L193.83 460.88 L194.95 461.49 L196.07 462.07 L197.19 462.63 L198.31 463.16 L199.44 463.66 L200.56 464.14 L201.68 464.6 L202.8 465.03 L203.92 465.44 L205.04 465.83 L206.16 466.2 L207.28 466.55 L208.4 466.87 L209.52 467.19 L210.64 467.48 L211.76 467.76 L212.88 468.02 L214 468.26 L215.12 468.49 L216.24 468.71 L217.36 468.91 L218.48 469.1 L219.6 469.28 L220.72 469.45 L221.84 469.61 L222.96 469.75 L224.08 469.89 L225.2 470.02 L226.32 470.14 L227.45 470.25 L228.57 470.35 L229.69 470.45 L230.81 470.54 L231.93 470.62 L233.05 470.7 L234.17 470.77 L235.29 470.84 L236.41 470.9 L237.53 470.96 L238.65 471.01 L239.77 471.06 L240.89 471.11 L242.01 471.15 L243.13 471.19 L244.25 471.22 L245.37 471.25 L246.49 471.28 L247.61 471.31 L248.73 471.34 L249.85 471.36 L250.97 471.38 L252.09 471.4 L253.21 471.42 L254.33 471.44 L255.46 471.45 L256.58 471.46 L257.7 471.48 L258.82 471.49 L259.94 471.5 L261.06 471.51 L262.18 471.52 L263.3 471.53 L264.42 471.53 L265.54 471.54 L266.66 471.55 L267.78 471.55 L268.9 471.56 L270.02 471.56 L271.14 471.56 L272.26 471.57 L273.38 471.57 L274.5 471.57 L275.62 471.58 L276.74 471.58 L277.86 471.58 L278.98 471.58 L280.1 471.58 L281.22 471.59 L282.35 471.59 L283.47 471.59 L284.59 471.59 L285.71 471.59 L286.83 471.59 L287.95 471.59 L289.07 471.59 L290.19 471.59 L291.31 471.6 L292.43 471.6 L293.55 471.6 L294.67 471.6 L295.79 471.6 L296.91 471.6 L298.03 471.6 L299.15 471.6 L300.27 471.6 L301.39 471.6 L302.51 471.6 L303.63 471.6 L304.75 471.6 L305.87 471.6 L306.99 471.6 L308.11 471.6 L309.23 471.6 L310.36 471.6 L311.48 471.6 L312.6 471.6 L313.72 471.6 L314.84 471.6 L315.96 471.6 L317.08 471.6 L318.2 471.6 L319.32 471.6 L320.44 471.6 L321.56 471.6 L322.68 471.6 L323.8 471.6" fill="none" stroke="#000" stroke-width="1.5" stroke-linejoin="round" stroke-dasharray="7.4 8.1" stroke-dashoffset="13.7"/>
</g>
<rect x="196.4" y="332.3" width="116.8" height="62.2" fill="#fff" stroke="#a3a3a3" stroke-width="1.2"/>
<path d="M196.4 347.85 h2.7 M313.2 347.85 h-2.7 M196.4 363.4 h5 M313.2 363.4 h-5 M196.4 378.95 h2.7 M313.2 378.95 h-2.7 M235.33 394.5 v-3 M235.33 332.3 v3 M274.27 394.5 v-3 M274.27 332.3 v3" stroke="#8a8a8a" stroke-width="1" fill="none"/>
<g clip-path="url(#ie)">
<path d="M253.73 361.23l2.8 2.8l-2.8 2.8l-2.8 -2.8z M256.66 355.53l2.8 2.8l-2.8 2.8l-2.8 -2.8z M259.59 354.02l2.8 2.8l-2.8 2.8l-2.8 -2.8z M262.51 353.24l2.8 2.8l-2.8 2.8l-2.8 -2.8z M265.44 352.63l2.8 2.8l-2.8 2.8l-2.8 -2.8z M268.37 350.4l2.8 2.8l-2.8 2.8l-2.8 -2.8z M271.3 349.03l2.8 2.8l-2.8 2.8l-2.8 -2.8z M274.22 349.11l2.8 2.8l-2.8 2.8l-2.8 -2.8z M277.15 348.55l2.8 2.8l-2.8 2.8l-2.8 -2.8z M280.08 349.13l2.8 2.8l-2.8 2.8l-2.8 -2.8z M283 350.27l2.8 2.8l-2.8 2.8l-2.8 -2.8z M285.93 352.16l2.8 2.8l-2.8 2.8l-2.8 -2.8z M288.86 355.79l2.8 2.8l-2.8 2.8l-2.8 -2.8z M291.78 360.7l2.8 2.8l-2.8 2.8l-2.8 -2.8z M294.71 369.8l2.8 2.8l-2.8 2.8l-2.8 -2.8z M297.64 380.8l2.8 2.8l-2.8 2.8l-2.8 -2.8z M244.95 367.14l2.8 2.8l-2.8 2.8l-2.8 -2.8z M247.88 365.7l2.8 2.8l-2.8 2.8l-2.8 -2.8z M250.81 364.33l2.8 2.8l-2.8 2.8l-2.8 -2.8z M228 366.1l2.8 2.8l-2.8 2.8l-2.8 -2.8z M231 372l2.8 2.8l-2.8 2.8l-2.8 -2.8z M233.9 369l2.8 2.8l-2.8 2.8l-2.8 -2.8z M236.9 366.7l2.8 2.8l-2.8 2.8l-2.8 -2.8z M239.8 371.4l2.8 2.8l-2.8 2.8l-2.8 -2.8z M242.8 363.7l2.8 2.8l-2.8 2.8l-2.8 -2.8z M249.3 367.3l2.8 2.8l-2.8 2.8l-2.8 -2.8z M251.7 361.9l2.8 2.8l-2.8 2.8l-2.8 -2.8z M254 359l2.8 2.8l-2.8 2.8l-2.8 -2.8z" fill="none" stroke="#2e2e2e" stroke-width="0.8"/>
<path d="M196.4 411.97 L197.13 411.39 L197.87 410.8 L198.6 410.21 L199.34 409.63 L200.07 409.04 L200.81 408.45 L201.54 407.87 L202.28 407.28 L203.01 406.69 L203.75 406.1 L204.48 405.52 L205.22 404.93 L205.95 404.34 L206.68 403.76 L207.42 403.17 L208.15 402.58 L208.89 402 L209.62 401.41 L210.36 400.82 L211.09 400.24 L211.83 399.65 L212.56 399.06 L213.3 398.48 L214.03 397.89 L214.76 397.31 L215.5 396.72 L216.23 396.13 L216.97 395.55 L217.7 394.96 L218.44 394.37 L219.17 393.79 L219.91 393.2 L220.64 392.61 L221.38 392.03 L222.11 391.44 L222.85 390.86 L223.58 390.27 L224.31 389.68 L225.05 389.1 L225.78 388.51 L226.52 387.93 L227.25 387.34 L227.99 386.75 L228.72 386.17 L229.46 385.58 L230.19 385 L230.93 384.41 L231.66 383.83 L232.39 383.24 L233.13 382.66 L233.86 382.07 L234.6 381.49 L235.33 380.9 L236.07 380.32 L236.8 379.74 L237.54 379.15 L238.27 378.57 L239.01 377.99 L239.74 377.41 L240.48 376.82 L241.21 376.24 L241.94 375.66 L242.68 375.08 L243.41 374.5 L244.15 373.92 L244.88 373.34 L245.62 372.77 L246.35 372.19 L247.09 371.61 L247.82 371.04 L248.56 370.47 L249.29 369.89 L250.03 369.32 L250.76 368.75 L251.49 368.18 L252.23 367.62 L252.96 367.05 L253.7 366.49 L254.43 365.93 L255.17 365.37 L255.9 364.81 L256.64 364.26 L257.37 363.71 L258.11 363.16 L258.84 362.62 L259.57 362.08 L260.31 361.54 L261.04 361.01 L261.78 360.49 L262.51 359.97 L263.25 359.46 L263.98 358.95 L264.72 358.45 L265.45 357.96 L266.19 357.48 L266.92 357 L267.66 356.54 L268.39 356.09 L269.12 355.65 L269.86 355.22 L270.59 354.81 L271.33 354.41 L272.06 354.03 L272.8 353.67 L273.53 353.34 L274.27 353.02 L275 352.73 L275.74 352.46 L276.47 352.23 L277.21 352.02 L277.94 351.85 L278.67 351.72 L279.41 351.63 L280.14 351.58 L280.88 351.59 L281.61 351.65 L282.35 351.76 L283.08 351.94 L283.82 352.19 L284.55 352.52 L285.29 352.92 L286.02 353.42 L286.75 354.02 L287.49 354.72 L288.22 355.54 L288.96 356.49 L289.69 357.58 L290.43 358.82 L291.16 360.23 L291.9 361.82 L292.63 363.6 L293.37 365.6 L294.1 367.84 L294.84 370.33 L295.57 373.1 L296.3 376.18 L297.04 379.58 L297.77 383.35 L298.51 387.52 L299.24 392.12 L299.98 397.19 L300.71 402.77 L301.45 408.91 L302.18 415.66 L302.92 423.08 L303.65 424.5" fill="none" stroke="#000" stroke-width="1.2" stroke-linejoin="round" stroke-dasharray="5.5 7.5"/>
<path d="M196.4 407.31 L197.13 406.72 L197.87 406.13 L198.6 405.54 L199.34 404.96 L200.07 404.37 L200.81 403.78 L201.54 403.2 L202.28 402.61 L203.01 402.02 L203.75 401.44 L204.48 400.85 L205.22 400.26 L205.95 399.68 L206.68 399.09 L207.42 398.51 L208.15 397.92 L208.89 397.33 L209.62 396.75 L210.36 396.16 L211.09 395.57 L211.83 394.99 L212.56 394.4 L213.3 393.81 L214.03 393.23 L214.76 392.64 L215.5 392.05 L216.23 391.47 L216.97 390.88 L217.7 390.3 L218.44 389.71 L219.17 389.12 L219.91 388.54 L220.64 387.95 L221.38 387.37 L222.11 386.78 L222.85 386.2 L223.58 385.61 L224.31 385.03 L225.05 384.44 L225.78 383.85 L226.52 383.27 L227.25 382.69 L227.99 382.1 L228.72 381.52 L229.46 380.93 L230.19 380.35 L230.93 379.77 L231.66 379.18 L232.39 378.6 L233.13 378.02 L233.86 377.44 L234.6 376.85 L235.33 376.27 L236.07 375.69 L236.8 375.11 L237.54 374.53 L238.27 373.95 L239.01 373.38 L239.74 372.8 L240.48 372.22 L241.21 371.65 L241.94 371.07 L242.68 370.5 L243.41 369.93 L244.15 369.36 L244.88 368.79 L245.62 368.22 L246.35 367.66 L247.09 367.09 L247.82 366.53 L248.56 365.97 L249.29 365.41 L250.03 364.86 L250.76 364.31 L251.49 363.76 L252.23 363.21 L252.96 362.67 L253.7 362.13 L254.43 361.6 L255.17 361.07 L255.9 360.55 L256.64 360.03 L257.37 359.52 L258.11 359.02 L258.84 358.52 L259.57 358.03 L260.31 357.55 L261.04 357.08 L261.78 356.62 L262.51 356.17 L263.25 355.73 L263.98 355.3 L264.72 354.89 L265.45 354.49 L266.19 354.11 L266.92 353.74 L267.66 353.4 L268.39 353.07 L269.12 352.77 L269.86 352.49 L270.59 352.23 L271.33 352 L272.06 351.79 L272.8 351.62 L273.53 351.48 L274.27 351.37 L275 351.3 L275.74 351.27 L276.47 351.27 L277.21 351.32 L277.94 351.42 L278.67 351.56 L279.41 351.74 L280.14 351.98 L280.88 352.27 L281.61 352.62 L282.35 353.02 L283.08 353.48 L283.82 354 L284.55 354.58 L285.29 355.22 L286.02 355.92 L286.75 356.69 L287.49 357.52 L288.22 358.41 L288.96 359.37 L289.69 360.39 L290.43 361.47 L291.16 362.62 L291.9 363.82 L292.63 365.09 L293.37 366.41 L294.1 367.8 L294.84 369.23 L295.57 370.72 L296.3 372.27 L297.04 373.86 L297.77 375.5 L298.51 377.19 L299.24 378.91 L299.98 380.68 L300.71 382.49 L301.45 384.34 L302.18 386.22 L302.92 388.14 L303.65 390.08 L304.38 392.06 L305.12 394.06 L305.85 396.09 L306.59 398.14 L307.32 400.21 L308.06 402.31 L308.79 404.42 L309.53 406.56 L310.26 408.7 L311 410.87 L311.73 413.05 L312.47 415.24 L313.2 417.44" fill="none" stroke="#e02a2a" stroke-width="1" stroke-linejoin="round"/>
<path d="M196.4 408.71 L197.13 408.13 L197.87 407.54 L198.6 406.95 L199.34 406.37 L200.07 405.78 L200.81 405.19 L201.54 404.61 L202.28 404.02 L203.01 403.43 L203.75 402.85 L204.48 402.26 L205.22 401.67 L205.95 401.09 L206.68 400.5 L207.42 399.91 L208.15 399.33 L208.89 398.74 L209.62 398.15 L210.36 397.57 L211.09 396.98 L211.83 396.39 L212.56 395.81 L213.3 395.22 L214.03 394.63 L214.76 394.05 L215.5 393.46 L216.23 392.88 L216.97 392.29 L217.7 391.7 L218.44 391.12 L219.17 390.53 L219.91 389.94 L220.64 389.36 L221.38 388.77 L222.11 388.19 L222.85 387.6 L223.58 387.02 L224.31 386.43 L225.05 385.84 L225.78 385.26 L226.52 384.67 L227.25 384.09 L227.99 383.5 L228.72 382.92 L229.46 382.34 L230.19 381.75 L230.93 381.17 L231.66 380.58 L232.39 380 L233.13 379.42 L233.86 378.83 L234.6 378.25 L235.33 377.67 L236.07 377.09 L236.8 376.5 L237.54 375.92 L238.27 375.34 L239.01 374.76 L239.74 374.18 L240.48 373.61 L241.21 373.03 L241.94 372.45 L242.68 371.88 L243.41 371.3 L244.15 370.73 L244.88 370.15 L245.62 369.58 L246.35 369.01 L247.09 368.44 L247.82 367.88 L248.56 367.31 L249.29 366.75 L250.03 366.19 L250.76 365.63 L251.49 365.07 L252.23 364.52 L252.96 363.97 L253.7 363.42 L254.43 362.88 L255.17 362.34 L255.9 361.8 L256.64 361.27 L257.37 360.74 L258.11 360.22 L258.84 359.71 L259.57 359.2 L260.31 358.7 L261.04 358.21 L261.78 357.72 L262.51 357.24 L263.25 356.77 L263.98 356.32 L264.72 355.87 L265.45 355.44 L266.19 355.02 L266.92 354.61 L267.66 354.22 L268.39 353.85 L269.12 353.49 L269.86 353.16 L270.59 352.84 L271.33 352.55 L272.06 352.28 L272.8 352.04 L273.53 351.82 L274.27 351.63 L275 351.48 L275.74 351.36 L276.47 351.28 L277.21 351.23 L277.94 351.23 L278.67 351.27 L279.41 351.36 L280.14 351.49 L280.88 351.68 L281.61 351.93 L282.35 352.23 L283.08 352.6 L283.82 353.04 L284.55 353.54 L285.29 354.13 L286.02 354.8 L286.75 355.56 L287.49 356.42 L288.22 357.38 L288.96 358.45 L289.69 359.65 L290.43 360.98 L291.16 362.46 L291.9 364.09 L292.63 365.89 L293.37 367.88 L294.1 370.07 L294.84 372.48 L295.57 375.13 L296.3 378.03 L297.04 381.22 L297.77 384.71 L298.51 388.52 L299.24 392.7 L299.98 397.26 L300.71 402.24 L301.45 407.68 L302.18 413.61 L302.92 420.08 L303.65 424.5" fill="none" stroke="#222" stroke-width="0.9" stroke-linejoin="round"/>
</g>
<text x="175.17" y="340.08" font-family='"Liberation Serif", serif' font-size="11.56" fill="#4e4e4e" textLength="13.26" lengthAdjust="spacingAndGlyphs">10</text>
<text x="188.74" y="334.92" font-family='"Liberation Serif", serif' font-size="7.7" fill="#4e4e4e" textLength="4.52" lengthAdjust="spacingAndGlyphs">0</text>
<text x="169.66" y="368.18" font-family='"Liberation Serif", serif' font-size="11.56" fill="#4e4e4e" textLength="13.37" lengthAdjust="spacingAndGlyphs">10</text>
<text x="183.34" y="363.1" font-family='"Liberation Serif", serif' font-size="7.27" fill="#4e4e4e" textLength="9.75" lengthAdjust="spacingAndGlyphs">−2</text>
<text x="169.66" y="395.08" font-family='"Liberation Serif", serif' font-size="11.56" fill="#4e4e4e" textLength="13.37" lengthAdjust="spacingAndGlyphs">10</text>
<text x="183.36" y="390" font-family='"Liberation Serif", serif' font-size="7.27" fill="#4e4e4e" textLength="9.36" lengthAdjust="spacingAndGlyphs">−4</text>
<text x="184.99" y="411.28" font-family='"Liberation Serif", serif' font-size="11.7" fill="#4e4e4e" textLength="13.03" lengthAdjust="spacingAndGlyphs">10</text>
<text x="198.12" y="406.8" font-family='"Liberation Serif", serif' font-size="7.88" fill="#4e4e4e" textLength="10.14" lengthAdjust="spacingAndGlyphs">−1</text>
<text x="226.43" y="411.28" font-family='"Liberation Serif", serif' font-size="11.7" fill="#4e4e4e" textLength="14.17" lengthAdjust="spacingAndGlyphs">10</text>
<text x="240.2" y="407.21" font-family='"Liberation Serif", serif' font-size="8.74" fill="#4e4e4e" textLength="5.48" lengthAdjust="spacingAndGlyphs">0</text>
<text x="265.36" y="411.28" font-family='"Liberation Serif", serif' font-size="11.7" fill="#4e4e4e" textLength="14.17" lengthAdjust="spacingAndGlyphs">10</text>
<text x="278.64" y="407.3" font-family='"Liberation Serif", serif' font-size="8.74" fill="#4e4e4e" textLength="5.48" lengthAdjust="spacingAndGlyphs">1</text>
<text x="304.3" y="411.28" font-family='"Liberation Serif", serif' font-size="11.7" fill="#4e4e4e" textLength="14.17" lengthAdjust="spacingAndGlyphs">10</text>
<text x="318.01" y="407.3" font-family='"Liberation Serif", serif' font-size="8.74" fill="#4e4e4e" textLength="5.48" lengthAdjust="spacingAndGlyphs">2</text>
<text x="62.92" y="343.29" font-family='"Liberation Serif", serif' font-size="22.86" fill="#222" textLength="6.53" lengthAdjust="spacingAndGlyphs">(</text>
<text x="70.84" y="343.1" font-family='"Liberation Serif", serif' font-size="20" fill="#222" textLength="10.68" lengthAdjust="spacingAndGlyphs">e</text>
<text x="83.13" y="343.29" font-family='"Liberation Serif", serif' font-size="22.86" fill="#222" textLength="6.28" lengthAdjust="spacingAndGlyphs">)</text>
<text x="89.54" y="348.2" font-family='"Liberation Serif", serif' font-size="13.96" fill="#303030" textLength="4.18" lengthAdjust="spacingAndGlyphs">(</text>
<text x="95.14" y="348.05" font-family='"Liberation Serif", serif' font-size="13.21" fill="#0a0a0a" textLength="7.38" lengthAdjust="spacingAndGlyphs"><tspan font-style="italic">T</tspan></text>
<text x="113.87" y="348.05" font-family='"Liberation Serif", serif' font-size="13.21" fill="#0a0a0a" textLength="7.99" lengthAdjust="spacingAndGlyphs"><tspan font-style="italic">T</tspan></text>
<text x="136.13" y="348.05" font-family='"Liberation Serif", serif' font-size="13.21" fill="#0a0a0a" textLength="7.48" lengthAdjust="spacingAndGlyphs"><tspan font-style="italic">T</tspan></text>
<text x="110.46" y="348.04" font-family='"Liberation Serif", serif' font-size="13.73" fill="#303030" textLength="2.76" lengthAdjust="spacingAndGlyphs">,</text>
<text x="132.09" y="348.1" font-family='"Liberation Serif", serif' font-size="13.33" fill="#303030" textLength="2.59" lengthAdjust="spacingAndGlyphs">,</text>
<text x="153.62" y="348.2" font-family='"Liberation Serif", serif' font-size="13.96" fill="#303030" textLength="4.23" lengthAdjust="spacingAndGlyphs">)</text>
<path d="M104.2 345.5 v5.5 M107.8 345.5 v5.5" stroke="#9a9a9a" stroke-width="0.9" fill="none"/>
<path d="M122.1 349.7 H127.7 M125 349.7 v-4 M144 349.7 H148.4 M146.3 349.7 v-4" stroke="#555" stroke-width="0.8" fill="none"/>
<text x="128.37" y="349.9" font-family='"Liberation Serif", serif' font-size="5.3" fill="#777" textLength="3.1" lengthAdjust="spacingAndGlyphs">1</text>
<text x="147.94" y="350" font-family='"Liberation Serif", serif' font-size="6.36" fill="#666" textLength="5.12" lengthAdjust="spacingAndGlyphs">2</text>
<text x="84.91" y="362.82" font-family='"Liberation Serif", serif' font-size="11.98" fill="#303030" textLength="78.75" lengthAdjust="spacingAndGlyphs">=(32,130,103)</text>
<text x="202.95" y="422.13" font-family='"Liberation Serif", serif' font-size="12.42" fill="#303030" textLength="75.25" lengthAdjust="spacingAndGlyphs">(<tspan font-style="italic">s</tspan>  ,<tspan font-style="italic">s</tspan>)=(−1,4)</text>
<text x="213.94" y="427.4" font-family='"Liberation Serif", serif' font-size="7.12" fill="#4a4a4a" textLength="4.01" lengthAdjust="spacingAndGlyphs">Λ</text>
<text x="203.2" y="438.89" font-family='"Liberation Serif", serif' font-size="10.52" fill="#303030" textLength="29.19" lengthAdjust="spacingAndGlyphs"><tspan font-style="italic">T</tspan>=87</text>
<text x="203.63" y="455.28" font-family='"Liberation Serif", serif' font-size="12.17" fill="#ff3c3c" textLength="109.51" lengthAdjust="spacingAndGlyphs">(<tspan font-style="italic" font-weight="bold">q</tspan>,<tspan font-style="italic">β</tspan>)=(1.20,0.019)</text>
<path d="M118.4 385.6 L123.4 365.4" fill="none" stroke="#000" stroke-width="1.8" stroke-linejoin="round"/>
<path d="M143.7 405 L198.8 437.7" fill="none" stroke="#000" stroke-width="2" stroke-linejoin="round" stroke-dasharray="7.4 8.4"/>
<path d="M150.4 429.3 L199.1 453.7" fill="none" stroke="#ff1414" stroke-width="2" stroke-linejoin="round"/>
<clipPath id="mf"><rect x="399.8" y="324.4" width="268" height="148.7"/></clipPath>
<clipPath id="nf"><rect x="399.8" y="324.4" width="268" height="146.2"/></clipPath>
<clipPath id="if"><rect x="540.4" y="332.3" width="116.8" height="62.2"/></clipPath>
<rect x="399.8" y="324.4" width="268" height="147.2" fill="none" stroke="#a3a3a3" stroke-width="1.3"/>
<path d="M399.8 442.16 h6.5 M667.8 442.16 h-6.5 M399.8 412.72 h6.5 M667.8 412.72 h-6.5 M399.8 383.28 h6.5 M667.8 383.28 h-6.5 M399.8 353.84 h6.5 M667.8 353.84 h-6.5 M453.4 471.6 v-3.5 M453.4 324.4 v3.5 M507 471.6 v-3.5 M507 324.4 v3.5 M560.6 471.6 v-3.5 M560.6 324.4 v3.5 M614.2 471.6 v-3.5 M614.2 324.4 v3.5" stroke="#8a8a8a" stroke-width="1" fill="none"/>
<text x="366.03" y="333.4" font-family='"Liberation Serif", serif' font-size="13.09" fill="#4e4e4e" textLength="29.45" lengthAdjust="spacingAndGlyphs">0.10</text>
<text x="366.03" y="359.11" font-family='"Liberation Serif", serif' font-size="12.94" fill="#4e4e4e" textLength="29.45" lengthAdjust="spacingAndGlyphs">0.08</text>
<text x="366.03" y="388.9" font-family='"Liberation Serif", serif' font-size="13.38" fill="#4e4e4e" textLength="29.27" lengthAdjust="spacingAndGlyphs">0.06</text>
<text x="366.04" y="418.6" font-family='"Liberation Serif", serif' font-size="13.09" fill="#4e4e4e" textLength="29.01" lengthAdjust="spacingAndGlyphs">0.04</text>
<text x="366.02" y="448.2" font-family='"Liberation Serif", serif' font-size="13.09" fill="#4e4e4e" textLength="29.71" lengthAdjust="spacingAndGlyphs">0.02</text>
<text x="366.03" y="471.81" font-family='"Liberation Serif", serif' font-size="12.94" fill="#4e4e4e" textLength="29.45" lengthAdjust="spacingAndGlyphs">0.00</text>
<text transform="translate(354.99 412.92) rotate(-90)" font-family='"Liberation Serif", serif' font-size="14.95" fill="#3a3a3a" textLength="29.24" lengthAdjust="spacingAndGlyphs"><tspan font-style="italic">F</tspan>(<tspan font-style="italic">υ</tspan>)</text>
<text x="395.36" y="491.16" font-family='"Liberation Serif", serif' font-size="14.22" fill="#4e4e4e" textLength="7.98" lengthAdjust="spacingAndGlyphs">0</text>
<text x="445.32" y="491.3" font-family='"Liberation Serif", serif' font-size="14.55" fill="#4e4e4e" textLength="16.28" lengthAdjust="spacingAndGlyphs">12</text>
<text x="497.43" y="491.3" font-family='"Liberation Serif", serif' font-size="14.55" fill="#4e4e4e" textLength="17.13" lengthAdjust="spacingAndGlyphs">24</text>
<text x="551.72" y="491.16" font-family='"Liberation Serif", serif' font-size="14.33" fill="#4e4e4e" textLength="17.41" lengthAdjust="spacingAndGlyphs">36</text>
<text x="605.66" y="491.16" font-family='"Liberation Serif", serif' font-size="14.22" fill="#4e4e4e" textLength="17.02" lengthAdjust="spacingAndGlyphs">48</text>
<text x="658.8" y="491.16" font-family='"Liberation Serif", serif' font-size="14.22" fill="#4e4e4e" textLength="17.39" lengthAdjust="spacingAndGlyphs">60</text>
<text x="528.82" y="507.64" font-family='"Liberation Serif", serif' font-size="15.83" fill="#4e4e4e" textLength="8.94" lengthAdjust="spacingAndGlyphs"><tspan font-style="italic">υ</tspan></text>
<g clip-path="url(#mf)">
<path d="M400.7 466.7l3 3l-3 3l-3 -3z M403.4 463.3l3 3l-3 3l-3 -3z M406.2 458.5l3 3l-3 3l-3 -3z M409.6 451.7l3 3l-3 3l-3 -3z M412.3 438.8l3 3l-3 3l-3 -3z M415 434l3 3l-3 3l-3 -3z M418.4 428.6l3 3l-3 3l-3 -3z M421.8 412.9l3 3l-3 3l-3 -3z M425.1 403.2l3 3l-3 3l-3 -3z M428.1 399l3 3l-3 3l-3 -3z M430.4 382.4l3 3l-3 3l-3 -3z M433.4 377.7l3 3l-3 3l-3 -3z M436.3 374.2l3 3l-3 3l-3 -3z M439.3 367.7l3 3l-3 3l-3 -3z M442.9 368.8l3 3l-3 3l-3 -3z M445.8 364.7l3 3l-3 3l-3 -3z M448.2 367.7l3 3l-3 3l-3 -3z M451.7 370l3 3l-3 3l-3 -3z M454.7 381.3l3 3l-3 3l-3 -3z M457.1 374.8l3 3l-3 3l-3 -3z M460 386l3 3l-3 3l-3 -3z M463 388.4l3 3l-3 3l-3 -3z M465.9 393.7l3 3l-3 3l-3 -3z M468.9 392.5l3 3l-3 3l-3 -3z M472.4 397.2l3 3l-3 3l-3 -3z M475.4 402l3 3l-3 3l-3 -3z M478.3 405.5l3 3l-3 3l-3 -3z M481 417.1l3 3l-3 3l-3 -3z M483.8 421.5l3 3l-3 3l-3 -3z M486.8 429.7l3 3l-3 3l-3 -3z M489.4 433.9l3 3l-3 3l-3 -3z M492.5 437.8l3 3l-3 3l-3 -3z M495.5 441.6l3 3l-3 3l-3 -3z M498.8 445.2l3 3l-3 3l-3 -3z M502 448.1l3 3l-3 3l-3 -3z M505.3 450.4l3 3l-3 3l-3 -3z M508.7 452.3l3 3l-3 3l-3 -3z M512.9 454.9l3 3l-3 3l-3 -3z M517 455.7l3 3l-3 3l-3 -3z M522.1 458.2l3 3l-3 3l-3 -3z M526.3 459.4l3 3l-3 3l-3 -3z M529.47 462.08l3 3l-3 3l-3 -3z M532.72 464.07l3 3l-3 3l-3 -3z M535.31 463.98l3 3l-3 3l-3 -3z M538.4 464.52l3 3l-3 3l-3 -3z M541.39 465.44l3 3l-3 3l-3 -3z M544.14 465.6l3 3l-3 3l-3 -3z M547.29 466.44l3 3l-3 3l-3 -3z M550.19 466.78l3 3l-3 3l-3 -3z M552.96 466.78l3 3l-3 3l-3 -3z M555.68 466.89l3 3l-3 3l-3 -3z M559.24 467.35l3 3l-3 3l-3 -3z M561.33 467.82l3 3l-3 3l-3 -3z M564.83 467.82l3 3l-3 3l-3 -3z M568.12 467.8l3 3l-3 3l-3 -3z M570.64 467.99l3 3l-3 3l-3 -3z M573.83 468.22l3 3l-3 3l-3 -3z M576.99 468.22l3 3l-3 3l-3 -3z M579.52 468.22l3 3l-3 3l-3 -3z M583.08 468.41l3 3l-3 3l-3 -3z M585.76 468.22l3 3l-3 3l-3 -3z M588.35 468.22l3 3l-3 3l-3 -3z M592.08 468.03l3 3l-3 3l-3 -3z M594.71 468.41l3 3l-3 3l-3 -3z M597.87 468.41l3 3l-3 3l-3 -3z M600.69 468.41l3 3l-3 3l-3 -3z" fill="none" stroke="#555" stroke-width="0.85"/>
</g><g clip-path="url(#mf)">
<path d="M400.02 471.59 L401.14 471.35 L402.26 470.75 L403.38 469.81 L404.5 468.53 L405.63 466.93 L406.75 465.01 L407.87 462.79 L408.99 460.3 L410.11 457.54 L411.23 454.54 L412.35 451.33 L413.47 447.93 L414.59 444.37 L415.71 440.67 L416.83 436.86 L417.95 432.96 L419.07 429.01 L420.19 425.03 L421.31 421.05 L422.43 417.1 L423.55 413.19 L424.67 409.36 L425.79 405.63 L426.91 402.01 L428.03 398.52 L429.15 395.19 L430.27 392.04 L431.39 389.06 L432.52 386.28 L433.64 383.71 L434.76 381.36 L435.88 379.22 L437 377.32 L438.12 375.64 L439.24 374.2 L440.36 372.98 L441.48 372 L442.6 371.24 L443.72 370.7 L444.84 370.39 L445.96 370.28 L447.08 370.37 L448.2 370.66 L449.32 371.13 L450.44 371.78 L451.56 372.6 L452.68 373.58 L453.8 374.69 L454.92 375.95 L456.04 377.33 L457.16 378.82 L458.28 380.41 L459.4 382.1 L460.53 383.87 L461.65 385.71 L462.77 387.61 L463.89 389.57 L465.01 391.57 L466.13 393.6 L467.25 395.67 L468.37 397.75 L469.49 399.85 L470.61 401.95 L471.73 404.05 L472.85 406.15 L473.97 408.23 L475.09 410.3 L476.21 412.35 L477.33 414.37 L478.45 416.36 L479.57 418.32 L480.69 420.25 L481.81 422.13 L482.93 423.98 L484.05 425.79 L485.17 427.56 L486.29 429.28 L487.41 430.95 L488.54 432.58 L489.66 434.16 L490.78 435.7 L491.9 437.18 L493.02 438.62 L494.14 440.02 L495.26 441.36 L496.38 442.67 L497.5 443.92 L498.62 445.13 L499.74 446.3 L500.86 447.42 L501.98 448.5 L503.1 449.53 L504.22 450.53 L505.34 451.49 L506.46 452.41 L507.58 453.29 L508.7 454.13 L509.82 454.94 L510.94 455.72 L512.06 456.46 L513.18 457.17 L514.3 457.85 L515.42 458.5 L516.55 459.12 L517.67 459.71 L518.79 460.28 L519.91 460.82 L521.03 461.34 L522.15 461.83 L523.27 462.3 L524.39 462.75 L525.51 463.17 L526.63 463.58 L527.75 463.97 L528.87 464.34 L529.99 464.69 L531.11 465.03 L532.23 465.35 L533.35 465.65 L534.47 465.94 L535.59 466.22 L536.71 466.48 L537.83 466.73 L538.95 466.97 L540.07 467.19 L541.19 467.41 L542.31 467.61 L543.44 467.81 L544.56 467.99 L545.68 468.17 L546.8 468.33 L547.92 468.49 L549.04 468.64 L550.16 468.79 L551.28 468.92 L552.4 469.05 L553.52 469.18 L554.64 469.29 L555.76 469.41 L556.88 469.51 L558 469.61 L559.12 469.71 L560.24 469.8 L561.36 469.89 L562.48 469.97 L563.6 470.05 L564.72 470.12 L565.84 470.19 L566.96 470.26 L568.08 470.32 L569.2 470.39 L570.32 470.44 L571.45 470.5 L572.57 470.55 L573.69 470.6 L574.81 470.65 L575.93 470.69 L577.05 470.74 L578.17 470.78 L579.29 470.81 L580.41 470.85 L581.53 470.89 L582.65 470.92 L583.77 470.95 L584.89 470.98 L586.01 471.01 L587.13 471.04 L588.25 471.06 L589.37 471.09 L590.49 471.11 L591.61 471.13 L592.73 471.16 L593.85 471.18 L594.97 471.2 L596.09 471.21 L597.21 471.23 L598.33 471.25 L599.46 471.26 L600.58 471.28 L601.7 471.29 L602.82 471.31 L603.94 471.32 L605.06 471.33 L606.18 471.34 L607.3 471.36 L608.42 471.37 L609.54 471.38 L610.66 471.39 L611.78 471.4 L612.9 471.41 L614.02 471.41 L615.14 471.42 L616.26 471.43 L617.38 471.44 L618.5 471.44 L619.62 471.45 L620.74 471.46 L621.86 471.46 L622.98 471.47 L624.1 471.47 L625.22 471.48 L626.35 471.49 L627.47 471.49 L628.59 471.49 L629.71 471.5 L630.83 471.5 L631.95 471.51 L633.07 471.51 L634.19 471.52 L635.31 471.52 L636.43 471.52 L637.55 471.53 L638.67 471.53 L639.79 471.53 L640.91 471.53 L642.03 471.54 L643.15 471.54 L644.27 471.54 L645.39 471.54 L646.51 471.55 L647.63 471.55 L648.75 471.55 L649.87 471.55 L650.99 471.55 L652.11 471.56 L653.23 471.56 L654.36 471.56 L655.48 471.56 L656.6 471.56 L657.72 471.56 L658.84 471.57 L659.96 471.57 L661.08 471.57 L662.2 471.57 L663.32 471.57 L664.44 471.57 L665.56 471.57 L666.68 471.57 L667.8 471.58" fill="none" stroke="#f25a5a" stroke-width="1.1" stroke-linejoin="round"/>
</g><g clip-path="url(#nf)">
<path d="M400.02 471.59 L401.14 471.37 L402.26 470.81 L403.38 469.94 L404.5 468.75 L405.63 467.27 L406.75 465.48 L407.87 463.42 L408.99 461.1 L410.11 458.53 L411.23 455.73 L412.35 452.73 L413.47 449.54 L414.59 446.19 L415.71 442.71 L416.83 439.11 L417.95 435.42 L419.07 431.67 L420.19 427.87 L421.31 424.06 L422.43 420.26 L423.55 416.49 L424.67 412.77 L425.79 409.12 L426.91 405.57 L428.03 402.12 L429.15 398.8 L430.27 395.62 L431.39 392.6 L432.52 389.75 L433.64 387.07 L434.76 384.59 L435.88 382.29 L437 380.2 L438.12 378.31 L439.24 376.63 L440.36 375.16 L441.48 373.9 L442.6 372.85 L443.72 372 L444.84 371.36 L445.96 370.91 L447.08 370.66 L448.2 370.59 L449.32 370.71 L450.44 371 L451.56 371.46 L452.68 372.08 L453.8 372.85 L454.92 373.76 L456.04 374.8 L457.16 375.97 L458.28 377.26 L459.4 378.65 L460.53 380.15 L461.65 381.73 L462.77 383.4 L463.89 385.14 L465.01 386.94 L466.13 388.8 L467.25 390.72 L468.37 392.67 L469.49 394.66 L470.61 396.68 L471.73 398.73 L472.85 400.79 L473.97 402.86 L475.09 404.94 L476.21 407.01 L477.33 409.09 L478.45 411.15 L479.57 413.2 L480.69 415.23 L481.81 417.24 L482.93 419.23 L484.05 421.18 L485.17 423.11 L486.29 425.01 L487.41 426.87 L488.54 428.69 L489.66 430.47 L490.78 432.22 L491.9 433.92 L493.02 435.57 L494.14 437.19 L495.26 438.75 L496.38 440.28 L497.5 441.75 L498.62 443.18 L499.74 444.56 L500.86 445.9 L501.98 447.19 L503.1 448.43 L504.22 449.63 L505.34 450.78 L506.46 451.89 L507.58 452.95 L508.7 453.97 L509.82 454.94 L510.94 455.88 L512.06 456.77 L513.18 457.62 L514.3 458.44 L515.42 459.21 L516.55 459.95 L517.67 460.66 L518.79 461.32 L519.91 461.96 L521.03 462.56 L522.15 463.13 L523.27 463.67 L524.39 464.19 L525.51 464.67 L526.63 465.13 L527.75 465.56 L528.87 465.96 L529.99 466.35 L531.11 466.71 L532.23 467.05 L533.35 467.37 L534.47 467.67 L535.59 467.95 L536.71 468.21 L537.83 468.46 L538.95 468.69 L540.07 468.9 L541.19 469.1 L542.31 469.29 L543.44 469.47 L544.56 469.63 L545.68 469.78 L546.8 469.92 L547.92 470.06 L549.04 470.18 L550.16 470.29 L551.28 470.4 L552.4 470.49 L553.52 470.59 L554.64 470.67 L555.76 470.75 L556.88 470.82 L558 470.88 L559.12 470.94 L560.24 471 L561.36 471.05 L562.48 471.1 L563.6 471.14 L564.72 471.18 L565.84 471.22 L566.96 471.25 L568.08 471.29 L569.2 471.31 L570.32 471.34 L571.45 471.36 L572.57 471.39 L573.69 471.41 L574.81 471.42 L575.93 471.44 L577.05 471.46 L578.17 471.47 L579.29 471.48 L580.41 471.49 L581.53 471.5 L582.65 471.51 L583.77 471.52 L584.89 471.53 L586.01 471.54 L587.13 471.54 L588.25 471.55 L589.37 471.55 L590.49 471.56 L591.61 471.56 L592.73 471.57 L593.85 471.57 L594.97 471.57 L596.09 471.58 L597.21 471.58 L598.33 471.58 L599.46 471.58 L600.58 471.58 L601.7 471.59 L602.82 471.59 L603.94 471.59 L605.06 471.59 L606.18 471.59 L607.3 471.59 L608.42 471.59 L609.54 471.59 L610.66 471.59 L611.78 471.6 L612.9 471.6 L614.02 471.6 L615.14 471.6 L616.26 471.6 L617.38 471.6 L618.5 471.6 L619.62 471.6 L620.74 471.6 L621.86 471.6 L622.98 471.6 L624.1 471.6 L625.22 471.6 L626.35 471.6 L627.47 471.6 L628.59 471.6 L629.71 471.6 L630.83 471.6 L631.95 471.6 L633.07 471.6 L634.19 471.6 L635.31 471.6 L636.43 471.6 L637.55 471.6 L638.67 471.6 L639.79 471.6 L640.91 471.6 L642.03 471.6 L643.15 471.6 L644.27 471.6 L645.39 471.6 L646.51 471.6 L647.63 471.6 L648.75 471.6 L649.87 471.6 L650.99 471.6 L652.11 471.6 L653.23 471.6 L654.36 471.6 L655.48 471.6 L656.6 471.6 L657.72 471.6 L658.84 471.6 L659.96 471.6 L661.08 471.6 L662.2 471.6 L663.32 471.6 L664.44 471.6 L665.56 471.6 L666.68 471.6 L667.8 471.6" fill="none" stroke="#383838" stroke-width="0.9" stroke-linejoin="round"/>
</g><g clip-path="url(#mf)">
<path d="M400.02 471.6 L401.14 471.44 L402.26 471.05 L403.38 470.44 L404.5 469.61 L405.63 468.56 L406.75 467.3 L407.87 465.83 L408.99 464.16 L410.11 462.31 L411.23 460.27 L412.35 458.06 L413.47 455.69 L414.59 453.18 L415.71 450.52 L416.83 447.74 L417.95 444.86 L419.07 441.87 L420.19 438.8 L421.31 435.67 L422.43 432.48 L423.55 429.25 L424.67 426 L425.79 422.74 L426.91 419.48 L428.03 416.25 L429.15 413.04 L430.27 409.89 L431.39 406.79 L432.52 403.76 L433.64 400.82 L434.76 397.98 L435.88 395.24 L437 392.62 L438.12 390.13 L439.24 387.77 L440.36 385.55 L441.48 383.49 L442.6 381.58 L443.72 379.84 L444.84 378.25 L445.96 376.84 L447.08 375.61 L448.2 374.54 L449.32 373.65 L450.44 372.94 L451.56 372.4 L452.68 372.04 L453.8 371.85 L454.92 371.83 L456.04 371.97 L457.16 372.28 L458.28 372.75 L459.4 373.36 L460.53 374.13 L461.65 375.03 L462.77 376.07 L463.89 377.24 L465.01 378.52 L466.13 379.93 L467.25 381.43 L468.37 383.04 L469.49 384.74 L470.61 386.52 L471.73 388.37 L472.85 390.29 L473.97 392.27 L475.09 394.31 L476.21 396.39 L477.33 398.5 L478.45 400.64 L479.57 402.81 L480.69 405 L481.81 407.19 L482.93 409.38 L484.05 411.58 L485.17 413.76 L486.29 415.93 L487.41 418.09 L488.54 420.22 L489.66 422.32 L490.78 424.39 L491.9 426.42 L493.02 428.42 L494.14 430.38 L495.26 432.29 L496.38 434.15 L497.5 435.96 L498.62 437.73 L499.74 439.44 L500.86 441.1 L501.98 442.7 L503.1 444.25 L504.22 445.75 L505.34 447.19 L506.46 448.57 L507.58 449.9 L508.7 451.17 L509.82 452.39 L510.94 453.55 L512.06 454.66 L513.18 455.72 L514.3 456.73 L515.42 457.69 L516.55 458.6 L517.67 459.47 L518.79 460.28 L519.91 461.06 L521.03 461.79 L522.15 462.48 L523.27 463.12 L524.39 463.74 L525.51 464.31 L526.63 464.85 L527.75 465.35 L528.87 465.83 L529.99 466.27 L531.11 466.68 L532.23 467.07 L533.35 467.43 L534.47 467.76 L535.59 468.08 L536.71 468.36 L537.83 468.63 L538.95 468.88 L540.07 469.11 L541.19 469.33 L542.31 469.52 L543.44 469.7 L544.56 469.87 L545.68 470.03 L546.8 470.17 L547.92 470.3 L549.04 470.42 L550.16 470.53 L551.28 470.63 L552.4 470.72 L553.52 470.8 L554.64 470.88 L555.76 470.95 L556.88 471.01 L558 471.07 L559.12 471.12 L560.24 471.17 L561.36 471.21 L562.48 471.25 L563.6 471.29 L564.72 471.32 L565.84 471.35 L566.96 471.38 L568.08 471.4 L569.2 471.42 L570.32 471.44 L571.45 471.46 L572.57 471.47 L573.69 471.49 L574.81 471.5 L575.93 471.51 L577.05 471.52 L578.17 471.53 L579.29 471.54 L580.41 471.55 L581.53 471.55 L582.65 471.56 L583.77 471.56 L584.89 471.57 L586.01 471.57 L587.13 471.57 L588.25 471.58 L589.37 471.58 L590.49 471.58 L591.61 471.58 L592.73 471.59 L593.85 471.59 L594.97 471.59 L596.09 471.59 L597.21 471.59 L598.33 471.59 L599.46 471.59 L600.58 471.59 L601.7 471.6 L602.82 471.6 L603.94 471.6 L605.06 471.6 L606.18 471.6 L607.3 471.6 L608.42 471.6 L609.54 471.6 L610.66 471.6 L611.78 471.6 L612.9 471.6 L614.02 471.6 L615.14 471.6 L616.26 471.6 L617.38 471.6 L618.5 471.6 L619.62 471.6 L620.74 471.6 L621.86 471.6 L622.98 471.6 L624.1 471.6 L625.22 471.6 L626.35 471.6 L627.47 471.6 L628.59 471.6 L629.71 471.6 L630.83 471.6 L631.95 471.6 L633.07 471.6 L634.19 471.6 L635.31 471.6 L636.43 471.6 L637.55 471.6 L638.67 471.6 L639.79 471.6 L640.91 471.6 L642.03 471.6 L643.15 471.6 L644.27 471.6 L645.39 471.6 L646.51 471.6 L647.63 471.6 L648.75 471.6 L649.87 471.6 L650.99 471.6 L652.11 471.6 L653.23 471.6 L654.36 471.6 L655.48 471.6 L656.6 471.6 L657.72 471.6 L658.84 471.6 L659.96 471.6 L661.08 471.6 L662.2 471.6 L663.32 471.6 L664.44 471.6 L665.56 471.6 L666.68 471.6 L667.8 471.6" fill="none" stroke="#000" stroke-width="1.5" stroke-linejoin="round" stroke-dasharray="7.4 8.1" stroke-dashoffset="2.04"/>
</g>
<rect x="540.4" y="332.3" width="116.8" height="62.2" fill="#fff" stroke="#a3a3a3" stroke-width="1.2"/>
<path d="M540.4 347.85 h2.7 M657.2 347.85 h-2.7 M540.4 363.4 h5 M657.2 363.4 h-5 M540.4 378.95 h2.7 M657.2 378.95 h-2.7 M579.33 394.5 v-3 M579.33 332.3 v3 M618.27 394.5 v-3 M618.27 332.3 v3" stroke="#8a8a8a" stroke-width="1" fill="none"/>
<g clip-path="url(#if)">
<path d="M600.04 354.83l2.8 2.8l-2.8 2.8l-2.8 -2.8z M603.45 353.85l2.8 2.8l-2.8 2.8l-2.8 -2.8z M606.29 351.61l2.8 2.8l-2.8 2.8l-2.8 -2.8z M608.66 350.53l2.8 2.8l-2.8 2.8l-2.8 -2.8z M610.55 350.11l2.8 2.8l-2.8 2.8l-2.8 -2.8z M611.87 348.66l2.8 2.8l-2.8 2.8l-2.8 -2.8z M613.45 348.31l2.8 2.8l-2.8 2.8l-2.8 -2.8z M614.85 348.05l2.8 2.8l-2.8 2.8l-2.8 -2.8z M616.19 347.6l2.8 2.8l-2.8 2.8l-2.8 -2.8z M617.66 347.67l2.8 2.8l-2.8 2.8l-2.8 -2.8z M618.76 347.4l2.8 2.8l-2.8 2.8l-2.8 -2.8z M619.62 347.6l2.8 2.8l-2.8 2.8l-2.8 -2.8z M620.8 347.76l2.8 2.8l-2.8 2.8l-2.8 -2.8z M621.75 348.58l2.8 2.8l-2.8 2.8l-2.8 -2.8z M622.48 348.09l2.8 2.8l-2.8 2.8l-2.8 -2.8z M623.31 348.95l2.8 2.8l-2.8 2.8l-2.8 -2.8z M624.14 349.15l2.8 2.8l-2.8 2.8l-2.8 -2.8z M624.89 349.61l2.8 2.8l-2.8 2.8l-2.8 -2.8z M625.64 349.51l2.8 2.8l-2.8 2.8l-2.8 -2.8z M626.48 349.94l2.8 2.8l-2.8 2.8l-2.8 -2.8z M627.16 350.41l2.8 2.8l-2.8 2.8l-2.8 -2.8z M627.8 350.77l2.8 2.8l-2.8 2.8l-2.8 -2.8z M628.37 352.14l2.8 2.8l-2.8 2.8l-2.8 -2.8z M628.95 352.75l2.8 2.8l-2.8 2.8l-2.8 -2.8z M629.54 354.04l2.8 2.8l-2.8 2.8l-2.8 -2.8z M630.04 354.81l2.8 2.8l-2.8 2.8l-2.8 -2.8z M630.61 355.61l2.8 2.8l-2.8 2.8l-2.8 -2.8z M631.15 356.5l2.8 2.8l-2.8 2.8l-2.8 -2.8z M631.72 357.47l2.8 2.8l-2.8 2.8l-2.8 -2.8z M632.26 358.36l2.8 2.8l-2.8 2.8l-2.8 -2.8z M632.8 359.17l2.8 2.8l-2.8 2.8l-2.8 -2.8z M633.34 359.91l2.8 2.8l-2.8 2.8l-2.8 -2.8z M633.98 361.08l2.8 2.8l-2.8 2.8l-2.8 -2.8z M634.58 361.49l2.8 2.8l-2.8 2.8l-2.8 -2.8z M635.3 362.95l2.8 2.8l-2.8 2.8l-2.8 -2.8z M635.87 363.77l2.8 2.8l-2.8 2.8l-2.8 -2.8z M636.26 366.1l2.8 2.8l-2.8 2.8l-2.8 -2.8z M636.65 368.55l2.8 2.8l-2.8 2.8l-2.8 -2.8z M637.02 368.43l2.8 2.8l-2.8 2.8l-2.8 -2.8z M637.39 369.27l2.8 2.8l-2.8 2.8l-2.8 -2.8z M637.75 370.98l2.8 2.8l-2.8 2.8l-2.8 -2.8z M638.1 371.34l2.8 2.8l-2.8 2.8l-2.8 -2.8z M638.45 373.57l2.8 2.8l-2.8 2.8l-2.8 -2.8z M638.79 374.71l2.8 2.8l-2.8 2.8l-2.8 -2.8z M639.12 374.71l2.8 2.8l-2.8 2.8l-2.8 -2.8z M639.44 375.12l2.8 2.8l-2.8 2.8l-2.8 -2.8z M639.76 377.24l2.8 2.8l-2.8 2.8l-2.8 -2.8z M640.08 380.46l2.8 2.8l-2.8 2.8l-2.8 -2.8z M640.38 380.46l2.8 2.8l-2.8 2.8l-2.8 -2.8z M640.69 380.31l2.8 2.8l-2.8 2.8l-2.8 -2.8z M640.98 382.12l2.8 2.8l-2.8 2.8l-2.8 -2.8z M641.28 385.25l2.8 2.8l-2.8 2.8l-2.8 -2.8z M641.56 385.25l2.8 2.8l-2.8 2.8l-2.8 -2.8z M641.84 385.25l2.8 2.8l-2.8 2.8l-2.8 -2.8z M642.12 389.93l2.8 2.8l-2.8 2.8l-2.8 -2.8z M642.39 385.25l2.8 2.8l-2.8 2.8l-2.8 -2.8z M642.66 385.25l2.8 2.8l-2.8 2.8l-2.8 -2.8z M642.93 382.51l2.8 2.8l-2.8 2.8l-2.8 -2.8z M643.19 389.93l2.8 2.8l-2.8 2.8l-2.8 -2.8z M643.44 389.93l2.8 2.8l-2.8 2.8l-2.8 -2.8z M643.7 389.93l2.8 2.8l-2.8 2.8l-2.8 -2.8z M579.34 371.37l2.8 2.8l-2.8 2.8l-2.8 -2.8z M587.98 365.95l2.8 2.8l-2.8 2.8l-2.8 -2.8z M593.67 361.27l2.8 2.8l-2.8 2.8l-2.8 -2.8z M597.92 358.16l2.8 2.8l-2.8 2.8l-2.8 -2.8z M561 381.9l2.8 2.8l-2.8 2.8l-2.8 -2.8z" fill="none" stroke="#2e2e2e" stroke-width="0.8"/>
<path d="M540.4 408.66 L541.13 408.07 L541.87 407.49 L542.6 406.9 L543.34 406.31 L544.07 405.73 L544.81 405.14 L545.54 404.55 L546.28 403.97 L547.01 403.38 L547.75 402.79 L548.48 402.21 L549.22 401.62 L549.95 401.03 L550.68 400.45 L551.42 399.86 L552.15 399.27 L552.89 398.69 L553.62 398.1 L554.36 397.51 L555.09 396.93 L555.83 396.34 L556.56 395.75 L557.3 395.17 L558.03 394.58 L558.76 393.99 L559.5 393.41 L560.23 392.82 L560.97 392.24 L561.7 391.65 L562.44 391.06 L563.17 390.48 L563.91 389.89 L564.64 389.3 L565.38 388.72 L566.11 388.13 L566.85 387.55 L567.58 386.96 L568.31 386.37 L569.05 385.79 L569.78 385.2 L570.52 384.62 L571.25 384.03 L571.99 383.45 L572.72 382.86 L573.46 382.28 L574.19 381.69 L574.93 381.11 L575.66 380.52 L576.39 379.94 L577.13 379.36 L577.86 378.77 L578.6 378.19 L579.33 377.61 L580.07 377.02 L580.8 376.44 L581.54 375.86 L582.27 375.28 L583.01 374.7 L583.74 374.12 L584.48 373.54 L585.21 372.96 L585.94 372.38 L586.68 371.8 L587.41 371.22 L588.15 370.65 L588.88 370.07 L589.62 369.5 L590.35 368.92 L591.09 368.35 L591.82 367.78 L592.56 367.21 L593.29 366.65 L594.03 366.08 L594.76 365.52 L595.49 364.96 L596.23 364.4 L596.96 363.84 L597.7 363.29 L598.43 362.74 L599.17 362.19 L599.9 361.64 L600.64 361.1 L601.37 360.57 L602.11 360.04 L602.84 359.51 L603.57 358.99 L604.31 358.47 L605.04 357.97 L605.78 357.46 L606.51 356.97 L607.25 356.49 L607.98 356.01 L608.72 355.54 L609.45 355.09 L610.19 354.65 L610.92 354.22 L611.66 353.8 L612.39 353.4 L613.12 353.02 L613.86 352.65 L614.59 352.31 L615.33 351.99 L616.06 351.69 L616.8 351.42 L617.53 351.17 L618.27 350.96 L619 350.78 L619.74 350.64 L620.47 350.54 L621.21 350.49 L621.94 350.48 L622.67 350.52 L623.41 350.62 L624.14 350.79 L624.88 351.02 L625.61 351.33 L626.35 351.71 L627.08 352.19 L627.82 352.76 L628.55 353.44 L629.29 354.23 L630.02 355.15 L630.75 356.21 L631.49 357.41 L632.22 358.78 L632.96 360.32 L633.69 362.06 L634.43 364 L635.16 366.18 L635.9 368.61 L636.63 371.31 L637.37 374.31 L638.1 377.64 L638.84 381.32 L639.57 385.39 L640.3 389.88 L641.04 394.83 L641.77 400.29 L642.51 406.29 L643.24 412.9 L643.98 420.15 L644.71 424.5" fill="none" stroke="#000" stroke-width="1.2" stroke-linejoin="round" stroke-dasharray="5.5 7.5"/>
<path d="M540.4 405.71 L541.13 405.12 L541.87 404.54 L542.6 403.95 L543.34 403.36 L544.07 402.78 L544.81 402.19 L545.54 401.6 L546.28 401.02 L547.01 400.43 L547.75 399.84 L548.48 399.26 L549.22 398.67 L549.95 398.08 L550.68 397.5 L551.42 396.91 L552.15 396.32 L552.89 395.74 L553.62 395.15 L554.36 394.56 L555.09 393.98 L555.83 393.39 L556.56 392.8 L557.3 392.22 L558.03 391.63 L558.76 391.05 L559.5 390.46 L560.23 389.87 L560.97 389.29 L561.7 388.7 L562.44 388.12 L563.17 387.53 L563.91 386.94 L564.64 386.36 L565.38 385.77 L566.11 385.19 L566.85 384.6 L567.58 384.02 L568.31 383.43 L569.05 382.85 L569.78 382.26 L570.52 381.68 L571.25 381.09 L571.99 380.51 L572.72 379.92 L573.46 379.34 L574.19 378.76 L574.93 378.17 L575.66 377.59 L576.39 377.01 L577.13 376.43 L577.86 375.85 L578.6 375.26 L579.33 374.68 L580.07 374.1 L580.8 373.52 L581.54 372.95 L582.27 372.37 L583.01 371.79 L583.74 371.21 L584.48 370.64 L585.21 370.06 L585.94 369.49 L586.68 368.92 L587.41 368.35 L588.15 367.78 L588.88 367.21 L589.62 366.64 L590.35 366.08 L591.09 365.52 L591.82 364.96 L592.56 364.4 L593.29 363.85 L594.03 363.29 L594.76 362.74 L595.49 362.2 L596.23 361.66 L596.96 361.12 L597.7 360.59 L598.43 360.06 L599.17 359.54 L599.9 359.02 L600.64 358.51 L601.37 358 L602.11 357.5 L602.84 357.01 L603.57 356.53 L604.31 356.06 L605.04 355.6 L605.78 355.15 L606.51 354.71 L607.25 354.28 L607.98 353.87 L608.72 353.48 L609.45 353.1 L610.19 352.73 L610.92 352.39 L611.66 352.07 L612.39 351.77 L613.12 351.49 L613.86 351.24 L614.59 351.01 L615.33 350.82 L616.06 350.66 L616.8 350.53 L617.53 350.44 L618.27 350.38 L619 350.37 L619.74 350.41 L620.47 350.48 L621.21 350.61 L621.94 350.79 L622.67 351.03 L623.41 351.32 L624.14 351.68 L624.88 352.09 L625.61 352.58 L626.35 353.13 L627.08 353.75 L627.82 354.45 L628.55 355.23 L629.29 356.08 L630.02 357.01 L630.75 358.02 L631.49 359.12 L632.22 360.3 L632.96 361.56 L633.69 362.91 L634.43 364.35 L635.16 365.86 L635.9 367.47 L636.63 369.15 L637.37 370.92 L638.1 372.77 L638.84 374.7 L639.57 376.7 L640.3 378.78 L641.04 380.93 L641.77 383.16 L642.51 385.45 L643.24 387.8 L643.98 390.22 L644.71 392.69 L645.45 395.23 L646.18 397.81 L646.92 400.45 L647.65 403.13 L648.38 405.86 L649.12 408.63 L649.85 411.45 L650.59 414.3 L651.32 417.18 L652.06 420.1 L652.79 423.05 L653.53 424.5" fill="none" stroke="#e02a2a" stroke-width="1" stroke-linejoin="round"/>
<path d="M540.4 406.22 L541.13 405.64 L541.87 405.05 L542.6 404.46 L543.34 403.88 L544.07 403.29 L544.81 402.7 L545.54 402.12 L546.28 401.53 L547.01 400.94 L547.75 400.36 L548.48 399.77 L549.22 399.18 L549.95 398.6 L550.68 398.01 L551.42 397.42 L552.15 396.84 L552.89 396.25 L553.62 395.67 L554.36 395.08 L555.09 394.49 L555.83 393.91 L556.56 393.32 L557.3 392.73 L558.03 392.15 L558.76 391.56 L559.5 390.97 L560.23 390.39 L560.97 389.8 L561.7 389.22 L562.44 388.63 L563.17 388.04 L563.91 387.46 L564.64 386.87 L565.38 386.29 L566.11 385.7 L566.85 385.12 L567.58 384.53 L568.31 383.95 L569.05 383.36 L569.78 382.78 L570.52 382.19 L571.25 381.61 L571.99 381.02 L572.72 380.44 L573.46 379.85 L574.19 379.27 L574.93 378.69 L575.66 378.1 L576.39 377.52 L577.13 376.94 L577.86 376.36 L578.6 375.78 L579.33 375.19 L580.07 374.61 L580.8 374.03 L581.54 373.45 L582.27 372.88 L583.01 372.3 L583.74 371.72 L584.48 371.14 L585.21 370.57 L585.94 370 L586.68 369.42 L587.41 368.85 L588.15 368.28 L588.88 367.71 L589.62 367.14 L590.35 366.58 L591.09 366.02 L591.82 365.45 L592.56 364.89 L593.29 364.34 L594.03 363.78 L594.76 363.23 L595.49 362.69 L596.23 362.14 L596.96 361.6 L597.7 361.06 L598.43 360.53 L599.17 360.01 L599.9 359.48 L600.64 358.97 L601.37 358.46 L602.11 357.95 L602.84 357.46 L603.57 356.97 L604.31 356.49 L605.04 356.02 L605.78 355.57 L606.51 355.12 L607.25 354.68 L607.98 354.26 L608.72 353.85 L609.45 353.46 L610.19 353.08 L610.92 352.72 L611.66 352.38 L612.39 352.06 L613.12 351.77 L613.86 351.49 L614.59 351.24 L615.33 351.02 L616.06 350.83 L616.8 350.67 L617.53 350.55 L618.27 350.46 L619 350.41 L619.74 350.39 L620.47 350.43 L621.21 350.5 L621.94 350.63 L622.67 350.81 L623.41 351.05 L624.14 351.34 L624.88 351.7 L625.61 352.12 L626.35 352.62 L627.08 353.19 L627.82 353.84 L628.55 354.59 L629.29 355.43 L630.02 356.37 L630.75 357.43 L631.49 358.61 L632.22 359.92 L632.96 361.37 L633.69 362.98 L634.43 364.77 L635.16 366.73 L635.9 368.9 L636.63 371.28 L637.37 373.91 L638.1 376.79 L638.84 379.95 L639.57 383.42 L640.3 387.21 L641.04 391.37 L641.77 395.91 L642.51 400.88 L643.24 406.31 L643.98 412.24 L644.71 418.71 L645.45 424.5" fill="none" stroke="#222" stroke-width="0.9" stroke-linejoin="round"/>
</g>
<text x="519.17" y="340.08" font-family='"Liberation Serif", serif' font-size="11.56" fill="#4e4e4e" textLength="13.26" lengthAdjust="spacingAndGlyphs">10</text>
<text x="532.74" y="334.92" font-family='"Liberation Serif", serif' font-size="7.7" fill="#4e4e4e" textLength="4.52" lengthAdjust="spacingAndGlyphs">0</text>
<text x="513.66" y="368.18" font-family='"Liberation Serif", serif' font-size="11.56" fill="#4e4e4e" textLength="13.37" lengthAdjust="spacingAndGlyphs">10</text>
<text x="527.34" y="363.1" font-family='"Liberation Serif", serif' font-size="7.27" fill="#4e4e4e" textLength="9.75" lengthAdjust="spacingAndGlyphs">−2</text>
<text x="513.66" y="395.08" font-family='"Liberation Serif", serif' font-size="11.56" fill="#4e4e4e" textLength="13.37" lengthAdjust="spacingAndGlyphs">10</text>
<text x="527.36" y="390" font-family='"Liberation Serif", serif' font-size="7.27" fill="#4e4e4e" textLength="9.36" lengthAdjust="spacingAndGlyphs">−4</text>
<text x="528.99" y="411.28" font-family='"Liberation Serif", serif' font-size="11.7" fill="#4e4e4e" textLength="13.03" lengthAdjust="spacingAndGlyphs">10</text>
<text x="542.12" y="406.8" font-family='"Liberation Serif", serif' font-size="7.88" fill="#4e4e4e" textLength="10.14" lengthAdjust="spacingAndGlyphs">−1</text>
<text x="570.43" y="411.28" font-family='"Liberation Serif", serif' font-size="11.7" fill="#4e4e4e" textLength="14.17" lengthAdjust="spacingAndGlyphs">10</text>
<text x="584.2" y="407.21" font-family='"Liberation Serif", serif' font-size="8.74" fill="#4e4e4e" textLength="5.48" lengthAdjust="spacingAndGlyphs">0</text>
<text x="609.36" y="411.28" font-family='"Liberation Serif", serif' font-size="11.7" fill="#4e4e4e" textLength="14.17" lengthAdjust="spacingAndGlyphs">10</text>
<text x="622.64" y="407.3" font-family='"Liberation Serif", serif' font-size="8.74" fill="#4e4e4e" textLength="5.48" lengthAdjust="spacingAndGlyphs">1</text>
<text x="648.3" y="411.28" font-family='"Liberation Serif", serif' font-size="11.7" fill="#4e4e4e" textLength="14.17" lengthAdjust="spacingAndGlyphs">10</text>
<text x="662.01" y="407.3" font-family='"Liberation Serif", serif' font-size="8.74" fill="#4e4e4e" textLength="5.48" lengthAdjust="spacingAndGlyphs">2</text>
<text x="406.92" y="343.29" font-family='"Liberation Serif", serif' font-size="22.86" fill="#222" textLength="6.53" lengthAdjust="spacingAndGlyphs">(</text>
<text x="414.9" y="343.3" font-family='"Liberation Serif", serif' font-size="19.57" fill="#222" textLength="6.66" lengthAdjust="spacingAndGlyphs">f</text>
<text x="423.53" y="343.29" font-family='"Liberation Serif", serif' font-size="22.86" fill="#222" textLength="6.28" lengthAdjust="spacingAndGlyphs">)</text>
<text x="433.54" y="348.2" font-family='"Liberation Serif", serif' font-size="13.96" fill="#303030" textLength="4.18" lengthAdjust="spacingAndGlyphs">(</text>
<text x="439.14" y="348.05" font-family='"Liberation Serif", serif' font-size="13.21" fill="#0a0a0a" textLength="7.38" lengthAdjust="spacingAndGlyphs"><tspan font-style="italic">T</tspan></text>
<text x="457.87" y="348.05" font-family='"Liberation Serif", serif' font-size="13.21" fill="#0a0a0a" textLength="7.99" lengthAdjust="spacingAndGlyphs"><tspan font-style="italic">T</tspan></text>
<text x="480.13" y="348.05" font-family='"Liberation Serif", serif' font-size="13.21" fill="#0a0a0a" textLength="7.48" lengthAdjust="spacingAndGlyphs"><tspan font-style="italic">T</tspan></text>
<text x="454.46" y="348.04" font-family='"Liberation Serif", serif' font-size="13.73" fill="#303030" textLength="2.76" lengthAdjust="spacingAndGlyphs">,</text>
<text x="476.09" y="348.1" font-family='"Liberation Serif", serif' font-size="13.33" fill="#303030" textLength="2.59" lengthAdjust="spacingAndGlyphs">,</text>
<text x="497.62" y="348.2" font-family='"Liberation Serif", serif' font-size="13.96" fill="#303030" textLength="4.23" lengthAdjust="spacingAndGlyphs">)</text>
<path d="M448.2 345.5 v5.5 M451.8 345.5 v5.5" stroke="#9a9a9a" stroke-width="0.9" fill="none"/>
<path d="M466.1 349.7 H471.7 M469 349.7 v-4 M488 349.7 H492.4 M490.3 349.7 v-4" stroke="#555" stroke-width="0.8" fill="none"/>
<text x="472.37" y="349.9" font-family='"Liberation Serif", serif' font-size="5.3" fill="#777" textLength="3.1" lengthAdjust="spacingAndGlyphs">1</text>
<text x="491.94" y="350" font-family='"Liberation Serif", serif' font-size="6.36" fill="#666" textLength="5.13" lengthAdjust="spacingAndGlyphs">2</text>
<text x="428.91" y="362.82" font-family='"Liberation Serif", serif' font-size="11.98" fill="#303030" textLength="71.88" lengthAdjust="spacingAndGlyphs">=(25,100,82)</text>
<text x="546.95" y="422.13" font-family='"Liberation Serif", serif' font-size="12.42" fill="#303030" textLength="78.31" lengthAdjust="spacingAndGlyphs">(<tspan font-style="italic">s</tspan>  ,<tspan font-style="italic">s</tspan>)=(−1,∞)</text>
<text x="557.94" y="427.4" font-family='"Liberation Serif", serif' font-size="7.12" fill="#4a4a4a" textLength="4.01" lengthAdjust="spacingAndGlyphs">Λ</text>
<text x="547.2" y="438.89" font-family='"Liberation Serif", serif' font-size="10.52" fill="#303030" textLength="29.34" lengthAdjust="spacingAndGlyphs"><tspan font-style="italic">T</tspan>=68</text>
<text x="547.63" y="455.28" font-family='"Liberation Serif", serif' font-size="12.17" fill="#ff3c3c" textLength="109.51" lengthAdjust="spacingAndGlyphs">(<tspan font-style="italic" font-weight="bold">q</tspan>,<tspan font-style="italic">β</tspan>)=(1.15,0.022)</text>
<path d="M459.4 376.3 L466.7 365.9" fill="none" stroke="#000" stroke-width="1.8" stroke-linejoin="round"/>
<path d="M484.3 411.7 L542.8 437.7" fill="none" stroke="#000" stroke-width="2" stroke-linejoin="round" stroke-dasharray="7.4 8.4"/>
<path d="M489.4 432.7 L543.1 453.7" fill="none" stroke="#ff1414" stroke-width="2" stroke-linejoin="round"/>
</svg>
</body></html>
